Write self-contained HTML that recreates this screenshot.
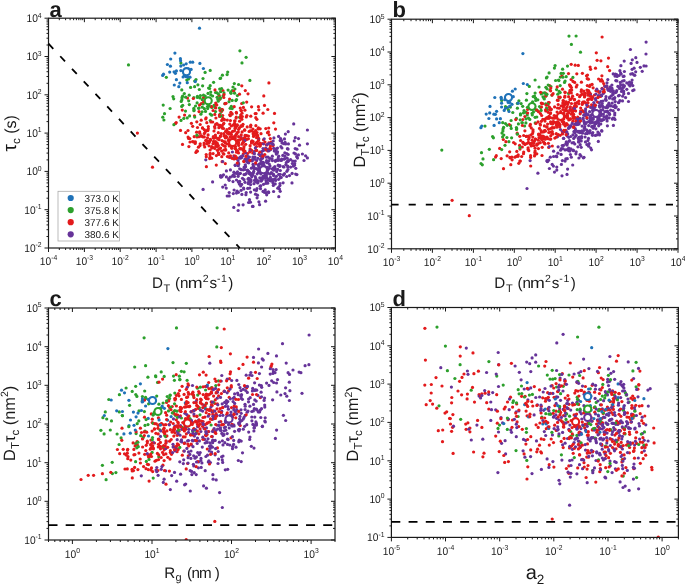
<!DOCTYPE html>
<html><head><meta charset="utf-8"><style>
html,body{margin:0;padding:0;background:#fff;}
svg{display:block;text-rendering:geometricPrecision;will-change:transform;font-family:"Liberation Sans", sans-serif;}
</style></head><body>
<svg width="685" height="586" viewBox="0 0 685 586" fill="#1a1a1a">
<clipPath id="cp0"><rect x="48.5" y="18.2" width="286.9" height="229.8"/></clipPath>
<g clip-path="url(#cp0)">
<g fill="#2ca02c"><circle cx="235.9" cy="100.6" r="1.6"/></g>
<g fill="#663399"><circle cx="276.7" cy="152" r="1.6"/><circle cx="270.4" cy="177.4" r="1.6"/><circle cx="269.9" cy="149.9" r="1.6"/></g>
<g fill="#e31a1c"><circle cx="200.2" cy="124.5" r="1.6"/><circle cx="206.1" cy="117.8" r="1.6"/></g>
<g fill="#2ca02c"><circle cx="190.6" cy="87.4" r="1.6"/></g>
<g fill="#663399"><circle cx="246.2" cy="173.6" r="1.6"/><circle cx="245.6" cy="166.7" r="1.6"/></g>
<g fill="#2ca02c"><circle cx="230.1" cy="108.3" r="1.6"/></g>
<g fill="#663399"><circle cx="265.7" cy="148" r="1.6"/></g>
<g fill="#e31a1c"><circle cx="194.5" cy="115.8" r="1.6"/></g>
<g fill="#663399"><circle cx="229.8" cy="157.5" r="1.6"/><circle cx="243.1" cy="204.8" r="1.6"/></g>
<g fill="#e31a1c"><circle cx="243.6" cy="148.9" r="1.6"/><circle cx="243.4" cy="150.3" r="1.6"/></g>
<g fill="#663399"><circle cx="256.7" cy="180.6" r="1.6"/></g>
<g fill="#2ca02c"><circle cx="198.9" cy="108" r="1.6"/></g>
<g fill="#663399"><circle cx="238.4" cy="181.9" r="1.6"/></g>
<g fill="#e31a1c"><circle cx="268.7" cy="128" r="1.6"/><circle cx="229.7" cy="114.8" r="1.6"/></g>
<g fill="#663399"><circle cx="288.4" cy="143.9" r="1.6"/></g>
<g fill="#2ca02c"><circle cx="237.4" cy="95.6" r="1.6"/></g>
<g fill="#663399"><circle cx="275.4" cy="161.3" r="1.6"/></g>
<g fill="#e31a1c"><circle cx="204.3" cy="136.9" r="1.6"/></g>
<g fill="#663399"><circle cx="238.1" cy="210.5" r="1.6"/><circle cx="258.8" cy="172.3" r="1.6"/><circle cx="264.4" cy="192.3" r="1.6"/></g>
<g fill="#2ca02c"><circle cx="164.5" cy="113.7" r="1.6"/></g>
<g fill="#e31a1c"><circle cx="225.6" cy="131.4" r="1.6"/></g>
<g fill="#663399"><circle cx="244.4" cy="167.3" r="1.6"/></g>
<g fill="#e31a1c"><circle cx="235.3" cy="139.1" r="1.6"/><circle cx="256.5" cy="146.5" r="1.6"/></g>
<g fill="#2ca02c"><circle cx="218.2" cy="101.2" r="1.6"/></g>
<g fill="#e31a1c"><circle cx="201.3" cy="103.6" r="1.6"/></g>
<g fill="#2ca02c"><circle cx="180.9" cy="63.1" r="1.6"/></g>
<g fill="#e31a1c"><circle cx="241.7" cy="103.5" r="1.6"/><circle cx="244.7" cy="129.9" r="1.6"/></g>
<g fill="#663399"><circle cx="260.5" cy="188.7" r="1.6"/></g>
<g fill="#e31a1c"><circle cx="244.3" cy="140.5" r="1.6"/><circle cx="210" cy="154.8" r="1.6"/><circle cx="202.9" cy="136.8" r="1.6"/></g>
<g fill="#2ca02c"><circle cx="189.3" cy="104.6" r="1.6"/></g>
<g fill="#663399"><circle cx="295.2" cy="161.1" r="1.6"/></g>
<g fill="#e31a1c"><circle cx="235.4" cy="124.8" r="1.6"/></g>
<g fill="#2ca02c"><circle cx="210.8" cy="94.9" r="1.6"/></g>
<g fill="#663399"><circle cx="242.5" cy="178.3" r="1.6"/><circle cx="290.6" cy="167.1" r="1.6"/></g>
<g fill="#e31a1c"><circle cx="221.7" cy="120.4" r="1.6"/><circle cx="255.2" cy="113.6" r="1.6"/></g>
<g fill="#663399"><circle cx="273" cy="182.9" r="1.6"/></g>
<g fill="#e31a1c"><circle cx="260.3" cy="155.7" r="1.6"/><circle cx="228.7" cy="139.7" r="1.6"/></g>
<g fill="#2ca02c"><circle cx="209.6" cy="88.5" r="1.6"/></g>
<g fill="#e31a1c"><circle cx="236.3" cy="126.8" r="1.6"/></g>
<g fill="#663399"><circle cx="281.7" cy="140.6" r="1.6"/></g>
<g fill="#e31a1c"><circle cx="182.3" cy="110.1" r="1.6"/><circle cx="231.1" cy="132.8" r="1.6"/><circle cx="241.1" cy="148.9" r="1.6"/><circle cx="244.9" cy="110.2" r="1.6"/><circle cx="256.7" cy="150.4" r="1.6"/><circle cx="209.7" cy="141.1" r="1.6"/><circle cx="210.1" cy="157.2" r="1.6"/><circle cx="235.3" cy="142.5" r="1.6"/></g>
<g fill="#663399"><circle cx="251" cy="179.9" r="1.6"/><circle cx="251.1" cy="175" r="1.6"/></g>
<g fill="#2ca02c"><circle cx="220.1" cy="78.5" r="1.6"/></g>
<g fill="#e31a1c"><circle cx="213.6" cy="141.4" r="1.6"/><circle cx="256.6" cy="137.7" r="1.6"/><circle cx="192.5" cy="141.6" r="1.6"/><circle cx="226.9" cy="129.7" r="1.6"/></g>
<g fill="#663399"><circle cx="244.2" cy="167.1" r="1.6"/></g>
<g fill="#e31a1c"><circle cx="201.3" cy="136.2" r="1.6"/></g>
<g fill="#1f72b8"><circle cx="191.1" cy="69.4" r="1.6"/></g>
<g fill="#e31a1c"><circle cx="213.3" cy="137.8" r="1.6"/><circle cx="209" cy="145.8" r="1.6"/></g>
<g fill="#2ca02c"><circle cx="227.1" cy="74.6" r="1.6"/></g>
<g fill="#663399"><circle cx="263" cy="191.4" r="1.6"/></g>
<g fill="#2ca02c"><circle cx="234.3" cy="83.6" r="1.6"/></g>
<g fill="#663399"><circle cx="269.7" cy="158.4" r="1.6"/><circle cx="297.5" cy="158.1" r="1.6"/></g>
<g fill="#2ca02c"><circle cx="207.5" cy="106.5" r="1.6"/></g>
<g fill="#663399"><circle cx="276.1" cy="148.8" r="1.6"/></g>
<g fill="#e31a1c"><circle cx="247.5" cy="153.6" r="1.6"/></g>
<g fill="#663399"><circle cx="237.1" cy="191.2" r="1.6"/><circle cx="246.5" cy="159.2" r="1.6"/><circle cx="280.3" cy="170.5" r="1.6"/></g>
<g fill="#2ca02c"><circle cx="189.2" cy="95.2" r="1.6"/></g>
<g fill="#e31a1c"><circle cx="252.7" cy="153" r="1.6"/></g>
<g fill="#663399"><circle cx="269.4" cy="180.1" r="1.6"/></g>
<g fill="#1f72b8"><circle cx="186" cy="76.7" r="1.6"/></g>
<g fill="#e31a1c"><circle cx="256.4" cy="133.4" r="1.6"/></g>
<g fill="#2ca02c"><circle cx="214" cy="105.4" r="1.6"/></g>
<g fill="#663399"><circle cx="270" cy="174.1" r="1.6"/></g>
<g fill="#e31a1c"><circle cx="232.8" cy="138.3" r="1.6"/><circle cx="265.8" cy="128.6" r="1.6"/><circle cx="199.6" cy="131.8" r="1.6"/><circle cx="224.2" cy="119.3" r="1.6"/><circle cx="214.8" cy="114.4" r="1.6"/></g>
<g fill="#2ca02c"><circle cx="188.7" cy="100.8" r="1.6"/></g>
<g fill="#e31a1c"><circle cx="231.4" cy="134.5" r="1.6"/><circle cx="215.9" cy="118" r="1.6"/><circle cx="225.1" cy="141.8" r="1.6"/></g>
<g fill="#663399"><circle cx="280.2" cy="174.3" r="1.6"/><circle cx="205.8" cy="159.8" r="1.6"/></g>
<g fill="#e31a1c"><circle cx="218.9" cy="154.4" r="1.6"/></g>
<g fill="#663399"><circle cx="272.7" cy="181.5" r="1.6"/><circle cx="247.9" cy="161.4" r="1.6"/></g>
<g fill="#e31a1c"><circle cx="254.1" cy="133.3" r="1.6"/></g>
<g fill="#663399"><circle cx="302.4" cy="154" r="1.6"/></g>
<g fill="#e31a1c"><circle cx="208.3" cy="126.6" r="1.6"/></g>
<g fill="#663399"><circle cx="262.5" cy="158.2" r="1.6"/><circle cx="248.6" cy="178.3" r="1.6"/></g>
<g fill="#e31a1c"><circle cx="237.8" cy="150.8" r="1.6"/></g>
<g fill="#1f72b8"><circle cx="190" cy="77.2" r="1.6"/></g>
<g fill="#663399"><circle cx="248.8" cy="160.9" r="1.6"/><circle cx="249.2" cy="172.7" r="1.6"/></g>
<g fill="#2ca02c"><circle cx="162.8" cy="117.2" r="1.6"/></g>
<g fill="#663399"><circle cx="275.6" cy="180.4" r="1.6"/><circle cx="295.8" cy="168.3" r="1.6"/><circle cx="258.5" cy="170.2" r="1.6"/><circle cx="256.4" cy="180.3" r="1.6"/><circle cx="253.4" cy="172.8" r="1.6"/></g>
<g fill="#2ca02c"><circle cx="231.5" cy="114.1" r="1.6"/></g>
<g fill="#e31a1c"><circle cx="255.9" cy="125.7" r="1.6"/></g>
<g fill="#663399"><circle cx="280.5" cy="160.1" r="1.6"/><circle cx="276.3" cy="154.1" r="1.6"/><circle cx="280.5" cy="177.7" r="1.6"/></g>
<g fill="#2ca02c"><circle cx="184.3" cy="93.6" r="1.6"/></g>
<g fill="#663399"><circle cx="239.9" cy="173.6" r="1.6"/></g>
<g fill="#1f72b8"><circle cx="176.4" cy="79.7" r="1.6"/></g>
<g fill="#2ca02c"><circle cx="246.1" cy="57.3" r="1.6"/></g>
<g fill="#663399"><circle cx="281.2" cy="177.5" r="1.6"/></g>
<g fill="#e31a1c"><circle cx="243.6" cy="139.9" r="1.6"/><circle cx="206.3" cy="130.6" r="1.6"/><circle cx="250.1" cy="148.9" r="1.6"/></g>
<g fill="#663399"><circle cx="253.5" cy="167.8" r="1.6"/></g>
<g fill="#e31a1c"><circle cx="247.2" cy="126.9" r="1.6"/><circle cx="275.5" cy="129.1" r="1.6"/><circle cx="210.2" cy="153.4" r="1.6"/><circle cx="243.6" cy="141.7" r="1.6"/></g>
<g fill="#2ca02c"><circle cx="210.2" cy="70.4" r="1.6"/></g>
<g fill="#663399"><circle cx="272.2" cy="168.9" r="1.6"/></g>
<g fill="#2ca02c"><circle cx="223.1" cy="95.8" r="1.6"/></g>
<g fill="#e31a1c"><circle cx="236.3" cy="117" r="1.6"/><circle cx="234.5" cy="145.4" r="1.6"/><circle cx="187.5" cy="98.1" r="1.6"/><circle cx="205" cy="132.4" r="1.6"/><circle cx="256.9" cy="142.4" r="1.6"/></g>
<g fill="#1f72b8"><circle cx="175.4" cy="73.3" r="1.6"/></g>
<g fill="#e31a1c"><circle cx="220.6" cy="148.1" r="1.6"/></g>
<g fill="#2ca02c"><circle cx="222.4" cy="75.2" r="1.6"/><circle cx="219.9" cy="99.2" r="1.6"/></g>
<g fill="#e31a1c"><circle cx="219.6" cy="116.5" r="1.6"/></g>
<g fill="#663399"><circle cx="249.6" cy="179.2" r="1.6"/></g>
<g fill="#e31a1c"><circle cx="209.7" cy="158.6" r="1.6"/></g>
<g fill="#2ca02c"><circle cx="211.1" cy="106.7" r="1.6"/></g>
<g fill="#e31a1c"><circle cx="236.6" cy="152.2" r="1.6"/></g>
<g fill="#663399"><circle cx="287.4" cy="161.4" r="1.6"/></g>
<g fill="#2ca02c"><circle cx="231" cy="93.3" r="1.6"/></g>
<g fill="#663399"><circle cx="261" cy="170.4" r="1.6"/><circle cx="277.5" cy="151.8" r="1.6"/><circle cx="235.3" cy="165.4" r="1.6"/></g>
<g fill="#e31a1c"><circle cx="235.1" cy="148.5" r="1.6"/></g>
<g fill="#1f72b8"><circle cx="186.6" cy="71.4" r="1.6"/></g>
<g fill="#663399"><circle cx="304" cy="160.5" r="1.6"/></g>
<g fill="#e31a1c"><circle cx="188.9" cy="146.6" r="1.6"/></g>
<g fill="#663399"><circle cx="267.7" cy="161.6" r="1.6"/></g>
<g fill="#e31a1c"><circle cx="256.9" cy="119.3" r="1.6"/></g>
<g fill="#663399"><circle cx="267.7" cy="149.3" r="1.6"/></g>
<g fill="#2ca02c"><circle cx="193.9" cy="110.7" r="1.6"/></g>
<g fill="#e31a1c"><circle cx="214.2" cy="138.2" r="1.6"/></g>
<g fill="#663399"><circle cx="279.9" cy="185.6" r="1.6"/><circle cx="284.8" cy="152.9" r="1.6"/><circle cx="248" cy="179.1" r="1.6"/></g>
<g fill="#1f72b8"><circle cx="180.8" cy="66.1" r="1.6"/></g>
<g fill="#2ca02c"><circle cx="212.6" cy="96" r="1.6"/></g>
<g fill="#e31a1c"><circle cx="237" cy="157.8" r="1.6"/><circle cx="243.9" cy="138.6" r="1.6"/><circle cx="256.6" cy="143" r="1.6"/></g>
<g fill="#2ca02c"><circle cx="210.2" cy="85.7" r="1.6"/></g>
<g fill="#e31a1c"><circle cx="256.7" cy="135.7" r="1.6"/><circle cx="253.7" cy="135.7" r="1.6"/><circle cx="214" cy="131" r="1.6"/><circle cx="240.6" cy="148.6" r="1.6"/></g>
<g fill="#2ca02c"><circle cx="186.8" cy="80.1" r="1.6"/><circle cx="203.3" cy="103.8" r="1.6"/></g>
<g fill="#e31a1c"><circle cx="200" cy="145.6" r="1.6"/></g>
<g fill="#2ca02c"><circle cx="194.7" cy="117.1" r="1.6"/></g>
<g fill="#663399"><circle cx="239.6" cy="184.2" r="1.6"/></g>
<g fill="#e31a1c"><circle cx="225.5" cy="149.4" r="1.6"/></g>
<g fill="#2ca02c"><circle cx="234.9" cy="89" r="1.6"/></g>
<g fill="#e31a1c"><circle cx="258.8" cy="109.8" r="1.6"/><circle cx="242.3" cy="116.5" r="1.6"/></g>
<g fill="#663399"><circle cx="263.4" cy="178.1" r="1.6"/><circle cx="268.7" cy="192.6" r="1.6"/></g>
<g fill="#e31a1c"><circle cx="228.7" cy="152.9" r="1.6"/><circle cx="203.5" cy="97.7" r="1.6"/><circle cx="231.8" cy="147.2" r="1.6"/><circle cx="207.9" cy="130.6" r="1.6"/></g>
<g fill="#663399"><circle cx="228.6" cy="178.9" r="1.6"/></g>
<g fill="#e31a1c"><circle cx="231.4" cy="126" r="1.6"/></g>
<g fill="#663399"><circle cx="280.6" cy="138.6" r="1.6"/></g>
<g fill="#1f72b8"><circle cx="203.4" cy="68.5" r="1.6"/></g>
<g fill="#663399"><circle cx="266.9" cy="167.4" r="1.6"/><circle cx="278.7" cy="165.5" r="1.6"/></g>
<g fill="#e31a1c"><circle cx="232" cy="145.6" r="1.6"/></g>
<g fill="#2ca02c"><circle cx="185.7" cy="97.2" r="1.6"/></g>
<g fill="#e31a1c"><circle cx="234" cy="137" r="1.6"/><circle cx="274.5" cy="113.4" r="1.6"/><circle cx="208.3" cy="128.8" r="1.6"/><circle cx="226.8" cy="143.9" r="1.6"/></g>
<g fill="#663399"><circle cx="296.7" cy="156.7" r="1.6"/><circle cx="273.9" cy="137.9" r="1.6"/><circle cx="226.4" cy="170.9" r="1.6"/></g>
<g fill="#e31a1c"><circle cx="213" cy="143.7" r="1.6"/><circle cx="243.6" cy="148.5" r="1.6"/><circle cx="200.2" cy="143.8" r="1.6"/><circle cx="244.1" cy="160.9" r="1.6"/></g>
<g fill="#663399"><circle cx="243.6" cy="188" r="1.6"/><circle cx="296.9" cy="149.2" r="1.6"/></g>
<g fill="#e31a1c"><circle cx="257.3" cy="135" r="1.6"/><circle cx="234.5" cy="130.8" r="1.6"/></g>
<g fill="#663399"><circle cx="254.9" cy="157.2" r="1.6"/></g>
<g fill="#1f72b8"><circle cx="174.9" cy="53.1" r="1.6"/></g>
<g fill="#e31a1c"><circle cx="221.8" cy="109.3" r="1.6"/><circle cx="222.9" cy="90.5" r="1.6"/></g>
<g fill="#2ca02c"><circle cx="200.9" cy="114.2" r="1.6"/></g>
<g fill="#663399"><circle cx="265.9" cy="149" r="1.6"/></g>
<g fill="#e31a1c"><circle cx="270.4" cy="146" r="1.6"/></g>
<g fill="#663399"><circle cx="245.3" cy="164.8" r="1.6"/><circle cx="298.5" cy="138.6" r="1.6"/></g>
<g fill="#e31a1c"><circle cx="249.8" cy="160.7" r="1.6"/></g>
<g fill="#663399"><circle cx="240.8" cy="158.1" r="1.6"/></g>
<g fill="#e31a1c"><circle cx="251.6" cy="130.8" r="1.6"/><circle cx="273.1" cy="145.6" r="1.6"/></g>
<g fill="#663399"><circle cx="270.5" cy="149.6" r="1.6"/></g>
<g fill="#e31a1c"><circle cx="227.3" cy="120.1" r="1.6"/><circle cx="211.7" cy="146.7" r="1.6"/><circle cx="195.9" cy="152.4" r="1.6"/></g>
<g fill="#663399"><circle cx="258.3" cy="180.9" r="1.6"/><circle cx="263.1" cy="176.1" r="1.6"/><circle cx="285.1" cy="142.4" r="1.6"/></g>
<g fill="#e31a1c"><circle cx="221.5" cy="111.4" r="1.6"/><circle cx="258.5" cy="144" r="1.6"/></g>
<g fill="#663399"><circle cx="264.9" cy="176.3" r="1.6"/><circle cx="261.6" cy="151.6" r="1.6"/><circle cx="263.2" cy="162.4" r="1.6"/></g>
<g fill="#e31a1c"><circle cx="229" cy="143.6" r="1.6"/><circle cx="179.1" cy="117.1" r="1.6"/></g>
<g fill="#663399"><circle cx="276.7" cy="171.6" r="1.6"/></g>
<g fill="#2ca02c"><circle cx="215" cy="107.4" r="1.6"/></g>
<g fill="#663399"><circle cx="265.2" cy="178.1" r="1.6"/></g>
<g fill="#e31a1c"><circle cx="270.3" cy="138.6" r="1.6"/><circle cx="271.1" cy="142.2" r="1.6"/></g>
<g fill="#2ca02c"><circle cx="211.9" cy="107.4" r="1.6"/></g>
<g fill="#663399"><circle cx="263.4" cy="162.8" r="1.6"/></g>
<g fill="#e31a1c"><circle cx="234.4" cy="144.8" r="1.6"/><circle cx="230.4" cy="120.6" r="1.6"/><circle cx="214.9" cy="128.1" r="1.6"/></g>
<g fill="#663399"><circle cx="230.2" cy="177.2" r="1.6"/></g>
<g fill="#2ca02c"><circle cx="200" cy="98" r="1.6"/></g>
<g fill="#e31a1c"><circle cx="266.5" cy="144.9" r="1.6"/></g>
<g fill="#2ca02c"><circle cx="208.6" cy="88" r="1.6"/></g>
<g fill="#663399"><circle cx="258.5" cy="165.7" r="1.6"/><circle cx="248.9" cy="182.2" r="1.6"/></g>
<g fill="#e31a1c"><circle cx="218.8" cy="138.8" r="1.6"/><circle cx="232.8" cy="136.9" r="1.6"/><circle cx="242.5" cy="125.9" r="1.6"/><circle cx="235.4" cy="146.5" r="1.6"/><circle cx="267.5" cy="150.8" r="1.6"/></g>
<g fill="#663399"><circle cx="245" cy="169.5" r="1.6"/><circle cx="249.5" cy="199.7" r="1.6"/></g>
<g fill="#e31a1c"><circle cx="216.2" cy="145.4" r="1.6"/></g>
<g fill="#2ca02c"><circle cx="173.7" cy="98.8" r="1.6"/></g>
<g fill="#663399"><circle cx="248.7" cy="183.7" r="1.6"/><circle cx="270" cy="165.9" r="1.6"/></g>
<g fill="#2ca02c"><circle cx="239.5" cy="117.3" r="1.6"/></g>
<g fill="#663399"><circle cx="288.2" cy="154.5" r="1.6"/></g>
<g fill="#e31a1c"><circle cx="211.7" cy="148.1" r="1.6"/><circle cx="245.6" cy="135.7" r="1.6"/><circle cx="258.7" cy="138.4" r="1.6"/></g>
<g fill="#663399"><circle cx="267.9" cy="173.3" r="1.6"/></g>
<g fill="#e31a1c"><circle cx="222.2" cy="144.5" r="1.6"/></g>
<g fill="#663399"><circle cx="248.2" cy="183.4" r="1.6"/><circle cx="245" cy="159.1" r="1.6"/></g>
<g fill="#e31a1c"><circle cx="226.8" cy="137.3" r="1.6"/></g>
<g fill="#663399"><circle cx="247.7" cy="188.4" r="1.6"/></g>
<g fill="#2ca02c"><circle cx="224" cy="92.9" r="1.6"/></g>
<g fill="#663399"><circle cx="260.1" cy="186.2" r="1.6"/></g>
<g fill="#e31a1c"><circle cx="242.7" cy="142.9" r="1.6"/><circle cx="258" cy="128.9" r="1.6"/><circle cx="253.5" cy="136.4" r="1.6"/></g>
<g fill="#663399"><circle cx="246.2" cy="192.6" r="1.6"/></g>
<g fill="#e31a1c"><circle cx="208.1" cy="134.9" r="1.6"/></g>
<g fill="#663399"><circle cx="283.1" cy="182.8" r="1.6"/></g>
<g fill="#e31a1c"><circle cx="233.2" cy="125" r="1.6"/></g>
<g fill="#663399"><circle cx="258.9" cy="154.3" r="1.6"/></g>
<g fill="#e31a1c"><circle cx="224" cy="135.8" r="1.6"/></g>
<g fill="#663399"><circle cx="233.8" cy="207.4" r="1.6"/><circle cx="253" cy="206.4" r="1.6"/></g>
<g fill="#e31a1c"><circle cx="249.1" cy="131.5" r="1.6"/></g>
<g fill="#663399"><circle cx="290.6" cy="159.7" r="1.6"/></g>
<g fill="#e31a1c"><circle cx="259.7" cy="152.2" r="1.6"/></g>
<g fill="#663399"><circle cx="250.9" cy="181.6" r="1.6"/><circle cx="257.5" cy="195.2" r="1.6"/><circle cx="255.5" cy="194.2" r="1.6"/><circle cx="286.7" cy="176.5" r="1.6"/></g>
<g fill="#e31a1c"><circle cx="230.9" cy="112.3" r="1.6"/></g>
<g fill="#2ca02c"><circle cx="229" cy="101.7" r="1.6"/></g>
<g fill="#e31a1c"><circle cx="207.9" cy="141.2" r="1.6"/></g>
<g fill="#663399"><circle cx="229.2" cy="180.3" r="1.6"/></g>
<g fill="#2ca02c"><circle cx="181.2" cy="101.4" r="1.6"/></g>
<g fill="#663399"><circle cx="259.1" cy="167.6" r="1.6"/></g>
<g fill="#e31a1c"><circle cx="227.4" cy="156.6" r="1.6"/></g>
<g fill="#663399"><circle cx="240.3" cy="173.3" r="1.6"/></g>
<g fill="#e31a1c"><circle cx="228.4" cy="140.6" r="1.6"/></g>
<g fill="#663399"><circle cx="265.2" cy="189.9" r="1.6"/><circle cx="257.1" cy="197.8" r="1.6"/></g>
<g fill="#e31a1c"><circle cx="235.1" cy="126.5" r="1.6"/><circle cx="175.6" cy="123.4" r="1.6"/><circle cx="259.9" cy="146.2" r="1.6"/><circle cx="238.5" cy="152.9" r="1.6"/></g>
<g fill="#663399"><circle cx="253" cy="164.4" r="1.6"/></g>
<g fill="#2ca02c"><circle cx="236.5" cy="99.6" r="1.6"/></g>
<g fill="#663399"><circle cx="280.3" cy="177" r="1.6"/></g>
<g fill="#2ca02c"><circle cx="197.9" cy="84.8" r="1.6"/></g>
<g fill="#663399"><circle cx="285.9" cy="164.6" r="1.6"/><circle cx="269.4" cy="168.3" r="1.6"/><circle cx="241.7" cy="157.4" r="1.6"/></g>
<g fill="#e31a1c"><circle cx="263.8" cy="95.9" r="1.6"/></g>
<g fill="#663399"><circle cx="266.8" cy="177.8" r="1.6"/></g>
<g fill="#2ca02c"><circle cx="202.3" cy="99.7" r="1.6"/></g>
<g fill="#e31a1c"><circle cx="240.4" cy="117.4" r="1.6"/></g>
<g fill="#663399"><circle cx="267.7" cy="183.2" r="1.6"/></g>
<g fill="#1f72b8"><circle cx="176.4" cy="70.9" r="1.6"/></g>
<g fill="#e31a1c"><circle cx="213.1" cy="153.6" r="1.6"/><circle cx="218.4" cy="153.1" r="1.6"/><circle cx="218.4" cy="145.7" r="1.6"/><circle cx="235.2" cy="135.9" r="1.6"/></g>
<g fill="#663399"><circle cx="248.7" cy="182.2" r="1.6"/><circle cx="307.4" cy="143.8" r="1.6"/><circle cx="267" cy="162.7" r="1.6"/><circle cx="260.8" cy="185.8" r="1.6"/><circle cx="277.5" cy="148.1" r="1.6"/></g>
<g fill="#1f72b8"><circle cx="199.5" cy="28.2" r="1.6"/></g>
<g fill="#2ca02c"><circle cx="182" cy="97.7" r="1.6"/><circle cx="231.3" cy="106.3" r="1.6"/></g>
<g fill="#663399"><circle cx="287.8" cy="167.1" r="1.6"/><circle cx="234.2" cy="158.5" r="1.6"/></g>
<g fill="#e31a1c"><circle cx="221.1" cy="133.6" r="1.6"/><circle cx="239.5" cy="94.2" r="1.6"/><circle cx="246.3" cy="117" r="1.6"/><circle cx="243.3" cy="153.9" r="1.6"/><circle cx="188.6" cy="138.4" r="1.6"/><circle cx="236.3" cy="112.4" r="1.6"/><circle cx="248" cy="93.8" r="1.6"/><circle cx="237.3" cy="124.9" r="1.6"/><circle cx="210.3" cy="139.4" r="1.6"/><circle cx="244" cy="146.7" r="1.6"/><circle cx="263.5" cy="139.8" r="1.6"/></g>
<g fill="#2ca02c"><circle cx="220.5" cy="98" r="1.6"/></g>
<g fill="#e31a1c"><circle cx="203.6" cy="101.9" r="1.6"/><circle cx="222" cy="140.6" r="1.6"/></g>
<g fill="#663399"><circle cx="287.2" cy="158.2" r="1.6"/></g>
<g fill="#2ca02c"><circle cx="187.2" cy="117.9" r="1.6"/></g>
<g fill="#663399"><circle cx="259.8" cy="177.8" r="1.6"/><circle cx="221" cy="177.2" r="1.6"/><circle cx="292.1" cy="173.4" r="1.6"/><circle cx="238.1" cy="176.3" r="1.6"/></g>
<g fill="#e31a1c"><circle cx="240.9" cy="125.9" r="1.6"/><circle cx="217.3" cy="146.4" r="1.6"/><circle cx="261" cy="133.7" r="1.6"/></g>
<g fill="#663399"><circle cx="277.8" cy="188.2" r="1.6"/></g>
<g fill="#e31a1c"><circle cx="260.2" cy="128.8" r="1.6"/><circle cx="242" cy="144.2" r="1.6"/></g>
<g fill="#663399"><circle cx="261.2" cy="156" r="1.6"/><circle cx="259.2" cy="170.6" r="1.6"/><circle cx="250.4" cy="202.2" r="1.6"/></g>
<g fill="#e31a1c"><circle cx="246.3" cy="139.4" r="1.6"/><circle cx="223.4" cy="124" r="1.6"/></g>
<g fill="#2ca02c"><circle cx="183.8" cy="118.4" r="1.6"/></g>
<g fill="#e31a1c"><circle cx="222.1" cy="161.7" r="1.6"/></g>
<g fill="#2ca02c"><circle cx="210.2" cy="114" r="1.6"/></g>
<g fill="#663399"><circle cx="234.1" cy="190" r="1.6"/></g>
<g fill="#1f72b8"><circle cx="199.9" cy="63.4" r="1.6"/></g>
<g fill="#2ca02c"><circle cx="188.5" cy="78.9" r="1.6"/></g>
<g fill="#663399"><circle cx="254.5" cy="180.4" r="1.6"/></g>
<g fill="#e31a1c"><circle cx="205.8" cy="140.3" r="1.6"/><circle cx="228.3" cy="133.2" r="1.6"/></g>
<g fill="#2ca02c"><circle cx="205.5" cy="111.4" r="1.6"/></g>
<g fill="#663399"><circle cx="280" cy="165.5" r="1.6"/></g>
<g fill="#e31a1c"><circle cx="197.5" cy="127.5" r="1.6"/><circle cx="257" cy="132.6" r="1.6"/></g>
<g fill="#663399"><circle cx="254.4" cy="159.2" r="1.6"/></g>
<g fill="#e31a1c"><circle cx="233.9" cy="155.8" r="1.6"/></g>
<g fill="#663399"><circle cx="293.7" cy="123.9" r="1.6"/></g>
<g fill="#2ca02c"><circle cx="181.7" cy="106.4" r="1.6"/></g>
<g fill="#e31a1c"><circle cx="262.3" cy="143.5" r="1.6"/></g>
<g fill="#663399"><circle cx="294.3" cy="140.9" r="1.6"/><circle cx="233.2" cy="175" r="1.6"/><circle cx="244" cy="174.6" r="1.6"/><circle cx="220.6" cy="175.6" r="1.6"/><circle cx="266.4" cy="175.7" r="1.6"/></g>
<g fill="#2ca02c"><circle cx="205.2" cy="96" r="1.6"/></g>
<g fill="#663399"><circle cx="234.5" cy="176.4" r="1.6"/><circle cx="239.7" cy="168.8" r="1.6"/></g>
<g fill="#e31a1c"><circle cx="242.1" cy="131.9" r="1.6"/></g>
<g fill="#663399"><circle cx="278.7" cy="156.2" r="1.6"/><circle cx="283.2" cy="166.7" r="1.6"/><circle cx="273.7" cy="148.3" r="1.6"/><circle cx="260.5" cy="143.9" r="1.6"/><circle cx="268" cy="167.5" r="1.6"/></g>
<g fill="#e31a1c"><circle cx="201.5" cy="135.9" r="1.6"/></g>
<g fill="#663399"><circle cx="237" cy="173.5" r="1.6"/><circle cx="273.2" cy="179.5" r="1.6"/></g>
<g fill="#e31a1c"><circle cx="222.4" cy="128.2" r="1.6"/><circle cx="246.7" cy="102.1" r="1.6"/></g>
<g fill="#663399"><circle cx="229.2" cy="195.9" r="1.6"/><circle cx="277.1" cy="160.3" r="1.6"/></g>
<g fill="#e31a1c"><circle cx="245.7" cy="144.3" r="1.6"/></g>
<g fill="#663399"><circle cx="284.5" cy="138.9" r="1.6"/><circle cx="256.7" cy="160.6" r="1.6"/></g>
<g fill="#e31a1c"><circle cx="248.4" cy="138.8" r="1.6"/><circle cx="216.3" cy="165.1" r="1.6"/></g>
<g fill="#663399"><circle cx="254.4" cy="151.4" r="1.6"/><circle cx="233.3" cy="193.6" r="1.6"/><circle cx="274.8" cy="166.5" r="1.6"/></g>
<g fill="#2ca02c"><circle cx="220.6" cy="91.7" r="1.6"/></g>
<g fill="#e31a1c"><circle cx="251.5" cy="143" r="1.6"/></g>
<g fill="#663399"><circle cx="255.8" cy="178.4" r="1.6"/></g>
<g fill="#e31a1c"><circle cx="231" cy="142.8" r="1.6"/><circle cx="253.2" cy="141.7" r="1.6"/></g>
<g fill="#2ca02c"><circle cx="232.2" cy="108.6" r="1.6"/></g>
<g fill="#663399"><circle cx="212.6" cy="181.9" r="1.6"/></g>
<g fill="#e31a1c"><circle cx="225.2" cy="142.7" r="1.6"/></g>
<g fill="#663399"><circle cx="227.2" cy="196" r="1.6"/><circle cx="245.3" cy="174.3" r="1.6"/><circle cx="287.9" cy="169.5" r="1.6"/></g>
<g fill="#e31a1c"><circle cx="238.4" cy="140" r="1.6"/></g>
<g fill="#2ca02c"><circle cx="173" cy="96.6" r="1.6"/></g>
<g fill="#663399"><circle cx="286.9" cy="171.3" r="1.6"/></g>
<g fill="#e31a1c"><circle cx="219.1" cy="139.7" r="1.6"/><circle cx="215.5" cy="141.6" r="1.6"/><circle cx="258.4" cy="106.7" r="1.6"/></g>
<g fill="#663399"><circle cx="249.3" cy="173.6" r="1.6"/><circle cx="247.7" cy="162.4" r="1.6"/><circle cx="244" cy="179.7" r="1.6"/></g>
<g fill="#e31a1c"><circle cx="215.6" cy="143.7" r="1.6"/></g>
<g fill="#663399"><circle cx="261.5" cy="158.4" r="1.6"/><circle cx="273.8" cy="169.9" r="1.6"/></g>
<g fill="#e31a1c"><circle cx="209.1" cy="142.6" r="1.6"/><circle cx="234.5" cy="123.3" r="1.6"/><circle cx="234.2" cy="106.7" r="1.6"/></g>
<g fill="#663399"><circle cx="250.6" cy="184.6" r="1.6"/><circle cx="278.7" cy="174.4" r="1.6"/></g>
<g fill="#e31a1c"><circle cx="230.3" cy="115.7" r="1.6"/><circle cx="218.5" cy="138.3" r="1.6"/><circle cx="223.7" cy="145.7" r="1.6"/></g>
<g fill="#663399"><circle cx="262.5" cy="177.7" r="1.6"/></g>
<g fill="#2ca02c"><circle cx="217.1" cy="97.3" r="1.6"/></g>
<g fill="#663399"><circle cx="248.5" cy="171.2" r="1.6"/><circle cx="232.5" cy="176.2" r="1.6"/></g>
<g fill="#2ca02c"><circle cx="194.7" cy="81.1" r="1.6"/><circle cx="193.8" cy="108.4" r="1.6"/></g>
<g fill="#e31a1c"><circle cx="222.3" cy="125.8" r="1.6"/></g>
<g fill="#663399"><circle cx="235" cy="173.3" r="1.6"/><circle cx="258.7" cy="139.8" r="1.6"/><circle cx="273.3" cy="185.4" r="1.6"/></g>
<g fill="#2ca02c"><circle cx="210.7" cy="92.1" r="1.6"/></g>
<g fill="#1f72b8"><circle cx="170.4" cy="66.2" r="1.6"/></g>
<g fill="#663399"><circle cx="280.2" cy="140.6" r="1.6"/></g>
<g fill="#e31a1c"><circle cx="256.1" cy="113.6" r="1.6"/></g>
<g fill="#663399"><circle cx="267" cy="162.2" r="1.6"/><circle cx="279.5" cy="166.1" r="1.6"/></g>
<g fill="#e31a1c"><circle cx="196.8" cy="150.9" r="1.6"/></g>
<g fill="#2ca02c"><circle cx="211.7" cy="115.2" r="1.6"/></g>
<g fill="#663399"><circle cx="222.7" cy="187.1" r="1.6"/><circle cx="271.3" cy="172.5" r="1.6"/></g>
<g fill="#2ca02c"><circle cx="210.3" cy="120.5" r="1.6"/></g>
<g fill="#663399"><circle cx="265.3" cy="149.8" r="1.6"/></g>
<g fill="#2ca02c"><circle cx="202.6" cy="85.8" r="1.6"/></g>
<g fill="#e31a1c"><circle cx="206.8" cy="122.7" r="1.6"/><circle cx="216.4" cy="155.6" r="1.6"/><circle cx="218.8" cy="125.2" r="1.6"/></g>
<g fill="#663399"><circle cx="252.2" cy="161" r="1.6"/></g>
<g fill="#e31a1c"><circle cx="238.1" cy="141.1" r="1.6"/><circle cx="189.8" cy="138.6" r="1.6"/></g>
<g fill="#663399"><circle cx="246.5" cy="161.3" r="1.6"/><circle cx="256.4" cy="190.5" r="1.6"/></g>
<g fill="#e31a1c"><circle cx="229" cy="134.1" r="1.6"/></g>
<g fill="#663399"><circle cx="260.8" cy="159.8" r="1.6"/></g>
<g fill="#e31a1c"><circle cx="244.7" cy="137.6" r="1.6"/><circle cx="220.4" cy="136.1" r="1.6"/><circle cx="246.9" cy="115.5" r="1.6"/></g>
<g fill="#1f72b8"><circle cx="187.3" cy="82.7" r="1.6"/></g>
<g fill="#663399"><circle cx="265" cy="177.8" r="1.6"/></g>
<g fill="#e31a1c"><circle cx="202.5" cy="128" r="1.6"/></g>
<g fill="#663399"><circle cx="293.3" cy="166.2" r="1.6"/><circle cx="294.7" cy="163.7" r="1.6"/></g>
<g fill="#e31a1c"><circle cx="251.6" cy="150.4" r="1.6"/><circle cx="235.3" cy="136.9" r="1.6"/></g>
<g fill="#2ca02c"><circle cx="220.7" cy="78.1" r="1.6"/></g>
<g fill="#e31a1c"><circle cx="184.6" cy="115.1" r="1.6"/></g>
<g fill="#2ca02c"><circle cx="219.7" cy="89" r="1.6"/></g>
<g fill="#e31a1c"><circle cx="192.7" cy="126.3" r="1.6"/><circle cx="246.2" cy="139.7" r="1.6"/><circle cx="223.9" cy="150.1" r="1.6"/></g>
<g fill="#663399"><circle cx="250" cy="150.7" r="1.6"/></g>
<g fill="#2ca02c"><circle cx="224.9" cy="103.7" r="1.6"/></g>
<g fill="#e31a1c"><circle cx="219.2" cy="95.4" r="1.6"/><circle cx="252" cy="140.9" r="1.6"/></g>
<g fill="#663399"><circle cx="295.5" cy="153.9" r="1.6"/><circle cx="287.4" cy="148.7" r="1.6"/></g>
<g fill="#e31a1c"><circle cx="237.5" cy="141.7" r="1.6"/><circle cx="237.2" cy="132.5" r="1.6"/><circle cx="229.6" cy="99.1" r="1.6"/></g>
<g fill="#663399"><circle cx="295.3" cy="137.7" r="1.6"/></g>
<g fill="#e31a1c"><circle cx="194.2" cy="136.7" r="1.6"/></g>
<g fill="#663399"><circle cx="256.1" cy="168.6" r="1.6"/></g>
<g fill="#2ca02c"><circle cx="170.1" cy="108.5" r="1.6"/><circle cx="239.9" cy="50.8" r="1.6"/></g>
<g fill="#663399"><circle cx="260.9" cy="178.4" r="1.6"/></g>
<g fill="#e31a1c"><circle cx="235" cy="128.4" r="1.6"/></g>
<g fill="#663399"><circle cx="257.7" cy="169.5" r="1.6"/></g>
<g fill="#2ca02c"><circle cx="215.5" cy="111.6" r="1.6"/></g>
<g fill="#663399"><circle cx="281.4" cy="160.5" r="1.6"/><circle cx="261.6" cy="154.5" r="1.6"/></g>
<g fill="#e31a1c"><circle cx="199.5" cy="105.1" r="1.6"/><circle cx="250.6" cy="126.9" r="1.6"/><circle cx="204.1" cy="145" r="1.6"/></g>
<g fill="#663399"><circle cx="263" cy="148.5" r="1.6"/><circle cx="292.9" cy="161.2" r="1.6"/></g>
<g fill="#e31a1c"><circle cx="241.3" cy="110.6" r="1.6"/></g>
<g fill="#663399"><circle cx="238.3" cy="165.7" r="1.6"/></g>
<g fill="#e31a1c"><circle cx="222.6" cy="109.9" r="1.6"/></g>
<g fill="#663399"><circle cx="279.5" cy="189.1" r="1.6"/></g>
<g fill="#1f72b8"><circle cx="178.8" cy="86.7" r="1.6"/></g>
<g fill="#2ca02c"><circle cx="200.4" cy="95.6" r="1.6"/></g>
<g fill="#e31a1c"><circle cx="197" cy="137" r="1.6"/></g>
<g fill="#663399"><circle cx="255.2" cy="176.6" r="1.6"/></g>
<g fill="#2ca02c"><circle cx="163.9" cy="120" r="1.6"/></g>
<g fill="#e31a1c"><circle cx="219.4" cy="99" r="1.6"/></g>
<g fill="#663399"><circle cx="254" cy="183.7" r="1.6"/><circle cx="239.6" cy="181.3" r="1.6"/></g>
<g fill="#e31a1c"><circle cx="240.8" cy="117.6" r="1.6"/></g>
<g fill="#2ca02c"><circle cx="232.2" cy="90.5" r="1.6"/></g>
<g fill="#663399"><circle cx="265.9" cy="183.3" r="1.6"/><circle cx="244.8" cy="140.7" r="1.6"/><circle cx="236.5" cy="193.1" r="1.6"/></g>
<g fill="#e31a1c"><circle cx="195.2" cy="143.4" r="1.6"/></g>
<g fill="#663399"><circle cx="247.5" cy="170.1" r="1.6"/></g>
<g fill="#e31a1c"><circle cx="235" cy="146.4" r="1.6"/></g>
<g fill="#663399"><circle cx="260.7" cy="173.8" r="1.6"/></g>
<g fill="#2ca02c"><circle cx="207.7" cy="108.6" r="1.6"/></g>
<g fill="#663399"><circle cx="268.5" cy="191.8" r="1.6"/><circle cx="259.6" cy="163.9" r="1.6"/></g>
<g fill="#e31a1c"><circle cx="268.9" cy="142.8" r="1.6"/></g>
<g fill="#2ca02c"><circle cx="182.6" cy="96.2" r="1.6"/><circle cx="217.9" cy="99.5" r="1.6"/></g>
<g fill="#e31a1c"><circle cx="253.1" cy="133.7" r="1.6"/></g>
<g fill="#663399"><circle cx="265.6" cy="201.2" r="1.6"/></g>
<g fill="#e31a1c"><circle cx="222.7" cy="115.5" r="1.6"/><circle cx="236.1" cy="118.1" r="1.6"/></g>
<g fill="#663399"><circle cx="258.9" cy="168.2" r="1.6"/><circle cx="254" cy="167.5" r="1.6"/></g>
<g fill="#e31a1c"><circle cx="256" cy="150.3" r="1.6"/><circle cx="211.7" cy="158.2" r="1.6"/><circle cx="188.1" cy="137.1" r="1.6"/></g>
<g fill="#663399"><circle cx="261.1" cy="169.1" r="1.6"/></g>
<g fill="#e31a1c"><circle cx="196.8" cy="121.8" r="1.6"/></g>
<g fill="#663399"><circle cx="298.4" cy="154.9" r="1.6"/></g>
<g fill="#2ca02c"><circle cx="199.3" cy="89.5" r="1.6"/></g>
<g fill="#e31a1c"><circle cx="221.6" cy="151.1" r="1.6"/></g>
<g fill="#663399"><circle cx="278.6" cy="136.4" r="1.6"/><circle cx="277.7" cy="169.4" r="1.6"/><circle cx="240" cy="157.6" r="1.6"/></g>
<g fill="#e31a1c"><circle cx="223.9" cy="154.1" r="1.6"/></g>
<g fill="#663399"><circle cx="261.9" cy="155.4" r="1.6"/></g>
<g fill="#2ca02c"><circle cx="197.4" cy="97.5" r="1.6"/></g>
<g fill="#663399"><circle cx="263.1" cy="156.4" r="1.6"/></g>
<g fill="#e31a1c"><circle cx="219.3" cy="149" r="1.6"/><circle cx="210.7" cy="139.9" r="1.6"/><circle cx="229.3" cy="145.9" r="1.6"/></g>
<g fill="#2ca02c"><circle cx="195.5" cy="106" r="1.6"/></g>
<g fill="#663399"><circle cx="253.4" cy="166.2" r="1.6"/></g>
<g fill="#e31a1c"><circle cx="221.3" cy="126.6" r="1.6"/><circle cx="251.6" cy="141.6" r="1.6"/></g>
<g fill="#663399"><circle cx="230.4" cy="169.9" r="1.6"/><circle cx="280" cy="183.6" r="1.6"/></g>
<g fill="#2ca02c"><circle cx="181" cy="120.4" r="1.6"/></g>
<g fill="#663399"><circle cx="238.7" cy="204.9" r="1.6"/><circle cx="257.7" cy="182.9" r="1.6"/><circle cx="275.6" cy="160.3" r="1.6"/></g>
<g fill="#e31a1c"><circle cx="214.6" cy="126.6" r="1.6"/></g>
<g fill="#663399"><circle cx="249.4" cy="172.3" r="1.6"/><circle cx="272.3" cy="156.2" r="1.6"/></g>
<g fill="#e31a1c"><circle cx="152.5" cy="167.2" r="1.6"/></g>
<g fill="#663399"><circle cx="283.5" cy="175" r="1.6"/></g>
<g fill="#e31a1c"><circle cx="193.8" cy="141.9" r="1.6"/></g>
<g fill="#663399"><circle cx="229.2" cy="192.5" r="1.6"/><circle cx="276.1" cy="152.4" r="1.6"/></g>
<g fill="#e31a1c"><circle cx="219" cy="148.8" r="1.6"/><circle cx="211.5" cy="106.7" r="1.6"/></g>
<g fill="#663399"><circle cx="269" cy="160.8" r="1.6"/></g>
<g fill="#e31a1c"><circle cx="197.3" cy="151.2" r="1.6"/></g>
<g fill="#663399"><circle cx="233" cy="181.6" r="1.6"/></g>
<g fill="#e31a1c"><circle cx="206.3" cy="140.7" r="1.6"/><circle cx="215.9" cy="146.3" r="1.6"/></g>
<g fill="#663399"><circle cx="281.7" cy="159.2" r="1.6"/></g>
<g fill="#2ca02c"><circle cx="184.2" cy="73.8" r="1.6"/></g>
<g fill="#e31a1c"><circle cx="267.5" cy="132.7" r="1.6"/></g>
<g fill="#2ca02c"><circle cx="220.8" cy="116.2" r="1.6"/></g>
<g fill="#e31a1c"><circle cx="201.2" cy="120.2" r="1.6"/></g>
<g fill="#2ca02c"><circle cx="185.5" cy="111.1" r="1.6"/></g>
<g fill="#663399"><circle cx="253.8" cy="157.4" r="1.6"/></g>
<g fill="#e31a1c"><circle cx="247.6" cy="159.5" r="1.6"/></g>
<g fill="#663399"><circle cx="275.2" cy="183.9" r="1.6"/><circle cx="240.9" cy="156.6" r="1.6"/></g>
<g fill="#e31a1c"><circle cx="226" cy="136" r="1.6"/></g>
<g fill="#663399"><circle cx="251.4" cy="168.2" r="1.6"/><circle cx="249.4" cy="180.3" r="1.6"/><circle cx="261.3" cy="180.9" r="1.6"/></g>
<g fill="#1f72b8"><circle cx="190.3" cy="62.2" r="1.6"/></g>
<g fill="#e31a1c"><circle cx="252.9" cy="129" r="1.6"/></g>
<g fill="#663399"><circle cx="299.5" cy="145.2" r="1.6"/></g>
<g fill="#e31a1c"><circle cx="215.6" cy="124.4" r="1.6"/><circle cx="240.3" cy="108.1" r="1.6"/></g>
<g fill="#2ca02c"><circle cx="163.2" cy="105.1" r="1.6"/></g>
<g fill="#e31a1c"><circle cx="214.8" cy="148.5" r="1.6"/></g>
<g fill="#2ca02c"><circle cx="243.3" cy="102.8" r="1.6"/></g>
<g fill="#e31a1c"><circle cx="254.4" cy="144.3" r="1.6"/></g>
<g fill="#663399"><circle cx="271.5" cy="143.4" r="1.6"/></g>
<g fill="#e31a1c"><circle cx="239.7" cy="140" r="1.6"/></g>
<g fill="#2ca02c"><circle cx="232.2" cy="100.4" r="1.6"/></g>
<g fill="#e31a1c"><circle cx="236.3" cy="158.6" r="1.6"/></g>
<g fill="#2ca02c"><circle cx="215.6" cy="92.5" r="1.6"/></g>
<g fill="#e31a1c"><circle cx="255.6" cy="130.7" r="1.6"/><circle cx="267.8" cy="109.5" r="1.6"/></g>
<g fill="#663399"><circle cx="280.9" cy="146.6" r="1.6"/></g>
<g fill="#e31a1c"><circle cx="223.6" cy="128.5" r="1.6"/><circle cx="241.1" cy="139" r="1.6"/></g>
<g fill="#663399"><circle cx="266.6" cy="160.5" r="1.6"/><circle cx="255.8" cy="164" r="1.6"/><circle cx="282" cy="142.9" r="1.6"/><circle cx="289.5" cy="175.6" r="1.6"/><circle cx="294" cy="153" r="1.6"/></g>
<g fill="#e31a1c"><circle cx="223.7" cy="141.5" r="1.6"/><circle cx="222.8" cy="118.4" r="1.6"/></g>
<g fill="#1f72b8"><circle cx="183.1" cy="77" r="1.6"/></g>
<g fill="#663399"><circle cx="226.4" cy="176.9" r="1.6"/></g>
<g fill="#2ca02c"><circle cx="166.3" cy="77.3" r="1.6"/><circle cx="219.4" cy="108.1" r="1.6"/></g>
<g fill="#e31a1c"><circle cx="225.2" cy="146.4" r="1.6"/><circle cx="231.2" cy="144.9" r="1.6"/><circle cx="243" cy="124.3" r="1.6"/></g>
<g fill="#663399"><circle cx="233.9" cy="172.2" r="1.6"/><circle cx="232.4" cy="152" r="1.6"/><circle cx="288" cy="161.5" r="1.6"/></g>
<g fill="#e31a1c"><circle cx="258.5" cy="127.9" r="1.6"/><circle cx="257.8" cy="135.9" r="1.6"/></g>
<g fill="#663399"><circle cx="271.8" cy="179.5" r="1.6"/><circle cx="234.4" cy="156.3" r="1.6"/></g>
<g fill="#e31a1c"><circle cx="213.1" cy="110.5" r="1.6"/><circle cx="239.7" cy="148.6" r="1.6"/><circle cx="241.8" cy="85.8" r="1.6"/></g>
<g fill="#663399"><circle cx="220.8" cy="176.7" r="1.6"/></g>
<g fill="#e31a1c"><circle cx="216.2" cy="104.6" r="1.6"/><circle cx="188" cy="130.5" r="1.6"/></g>
<g fill="#2ca02c"><circle cx="203" cy="78.5" r="1.6"/></g>
<g fill="#e31a1c"><circle cx="220.9" cy="126.2" r="1.6"/></g>
<g fill="#663399"><circle cx="266.7" cy="194.8" r="1.6"/><circle cx="245.6" cy="152.9" r="1.6"/></g>
<g fill="#e31a1c"><circle cx="249.7" cy="152" r="1.6"/></g>
<g fill="#663399"><circle cx="274.3" cy="150.9" r="1.6"/></g>
<g fill="#e31a1c"><circle cx="225.4" cy="138" r="1.6"/><circle cx="207.5" cy="137.8" r="1.6"/></g>
<g fill="#1f72b8"><circle cx="167.4" cy="64.5" r="1.6"/></g>
<g fill="#2ca02c"><circle cx="249.9" cy="80.4" r="1.6"/></g>
<g fill="#663399"><circle cx="268.9" cy="143.5" r="1.6"/></g>
<g fill="#e31a1c"><circle cx="264.5" cy="105.4" r="1.6"/><circle cx="225" cy="103.7" r="1.6"/><circle cx="210.9" cy="121.9" r="1.6"/></g>
<g fill="#2ca02c"><circle cx="213.6" cy="82.3" r="1.6"/></g>
<g fill="#e31a1c"><circle cx="234.7" cy="120.8" r="1.6"/><circle cx="265.2" cy="149.6" r="1.6"/></g>
<g fill="#663399"><circle cx="278.5" cy="160.3" r="1.6"/></g>
<g fill="#2ca02c"><circle cx="189.6" cy="115.9" r="1.6"/></g>
<g fill="#e31a1c"><circle cx="210.1" cy="150" r="1.6"/></g>
<g fill="#2ca02c"><circle cx="198.7" cy="108.3" r="1.6"/></g>
<g fill="#e31a1c"><circle cx="227.2" cy="133.1" r="1.6"/><circle cx="260.3" cy="144.3" r="1.6"/><circle cx="251.7" cy="142" r="1.6"/><circle cx="185.7" cy="132.7" r="1.6"/></g>
<g fill="#663399"><circle cx="238" cy="160.5" r="1.6"/><circle cx="262.4" cy="168.1" r="1.6"/><circle cx="305.6" cy="155.8" r="1.6"/><circle cx="288.4" cy="160.7" r="1.6"/></g>
<g fill="#e31a1c"><circle cx="237.2" cy="125.4" r="1.6"/></g>
<g fill="#663399"><circle cx="287.7" cy="166.1" r="1.6"/><circle cx="280.2" cy="191.3" r="1.6"/></g>
<g fill="#e31a1c"><circle cx="230.2" cy="137.1" r="1.6"/><circle cx="256.3" cy="143.1" r="1.6"/></g>
<g fill="#2ca02c"><circle cx="220.2" cy="113.8" r="1.6"/></g>
<g fill="#663399"><circle cx="241.1" cy="184.7" r="1.6"/><circle cx="284" cy="167" r="1.6"/></g>
<g fill="#e31a1c"><circle cx="241.9" cy="119.3" r="1.6"/><circle cx="223.8" cy="133.7" r="1.6"/><circle cx="251.6" cy="106.8" r="1.6"/></g>
<g fill="#663399"><circle cx="251.7" cy="176.8" r="1.6"/></g>
<g fill="#2ca02c"><circle cx="181.9" cy="99.8" r="1.6"/></g>
<g fill="#663399"><circle cx="251.1" cy="174.2" r="1.6"/></g>
<g fill="#1f72b8"><circle cx="162.7" cy="75.4" r="1.6"/></g>
<g fill="#663399"><circle cx="267.6" cy="172.5" r="1.6"/><circle cx="284.5" cy="173.7" r="1.6"/><circle cx="284.8" cy="158.7" r="1.6"/></g>
<g fill="#e31a1c"><circle cx="241.2" cy="134.9" r="1.6"/></g>
<g fill="#663399"><circle cx="262.2" cy="179.7" r="1.6"/><circle cx="286.3" cy="162.5" r="1.6"/></g>
<g fill="#2ca02c"><circle cx="208.8" cy="106.2" r="1.6"/></g>
<g fill="#663399"><circle cx="247.5" cy="156.2" r="1.6"/></g>
<g fill="#e31a1c"><circle cx="220.6" cy="136.3" r="1.6"/></g>
<g fill="#663399"><circle cx="270.3" cy="180.8" r="1.6"/></g>
<g fill="#e31a1c"><circle cx="243.3" cy="142.1" r="1.6"/></g>
<g fill="#1f72b8"><circle cx="183.6" cy="65" r="1.6"/></g>
<g fill="#2ca02c"><circle cx="173.9" cy="124.7" r="1.6"/></g>
<g fill="#e31a1c"><circle cx="239.5" cy="127.8" r="1.6"/><circle cx="244.9" cy="151.1" r="1.6"/><circle cx="208.6" cy="142.2" r="1.6"/></g>
<g fill="#663399"><circle cx="281.9" cy="148" r="1.6"/><circle cx="273.5" cy="167.9" r="1.6"/><circle cx="263.6" cy="143.8" r="1.6"/></g>
<g fill="#e31a1c"><circle cx="204.3" cy="133.6" r="1.6"/></g>
<g fill="#1f72b8"><circle cx="187.9" cy="77.1" r="1.6"/></g>
<g fill="#663399"><circle cx="258.9" cy="201.8" r="1.6"/><circle cx="268.7" cy="179.4" r="1.6"/></g>
<g fill="#e31a1c"><circle cx="216.8" cy="143.7" r="1.6"/><circle cx="238.7" cy="145.4" r="1.6"/></g>
<g fill="#663399"><circle cx="275.9" cy="150" r="1.6"/><circle cx="284" cy="159.2" r="1.6"/><circle cx="264.1" cy="169.8" r="1.6"/><circle cx="267.2" cy="144.7" r="1.6"/><circle cx="265.6" cy="174.1" r="1.6"/></g>
<g fill="#2ca02c"><circle cx="197.4" cy="96.3" r="1.6"/></g>
<g fill="#e31a1c"><circle cx="219.4" cy="115" r="1.6"/><circle cx="223.2" cy="153.5" r="1.6"/></g>
<g fill="#663399"><circle cx="250.8" cy="174.5" r="1.6"/></g>
<g fill="#e31a1c"><circle cx="220.6" cy="125.9" r="1.6"/><circle cx="199" cy="136.7" r="1.6"/></g>
<g fill="#663399"><circle cx="262.8" cy="163.6" r="1.6"/><circle cx="239" cy="182.3" r="1.6"/></g>
<g fill="#2ca02c"><circle cx="181.8" cy="89.9" r="1.6"/></g>
<g fill="#e31a1c"><circle cx="270.8" cy="148.8" r="1.6"/><circle cx="250.8" cy="125.2" r="1.6"/></g>
<g fill="#2ca02c"><circle cx="221.3" cy="110.5" r="1.6"/></g>
<g fill="#e31a1c"><circle cx="204.7" cy="147" r="1.6"/></g>
<g fill="#663399"><circle cx="268.3" cy="180.1" r="1.6"/></g>
<g fill="#e31a1c"><circle cx="238.6" cy="142.7" r="1.6"/></g>
<g fill="#1f72b8"><circle cx="180.6" cy="60.7" r="1.6"/></g>
<g fill="#e31a1c"><circle cx="260" cy="145.4" r="1.6"/><circle cx="191.4" cy="123.3" r="1.6"/><circle cx="218.5" cy="152.9" r="1.6"/></g>
<g fill="#663399"><circle cx="223.5" cy="174.8" r="1.6"/></g>
<g fill="#e31a1c"><circle cx="196.6" cy="132.2" r="1.6"/></g>
<g fill="#663399"><circle cx="261.9" cy="162" r="1.6"/></g>
<g fill="#e31a1c"><circle cx="273.8" cy="122.8" r="1.6"/><circle cx="230.6" cy="143.9" r="1.6"/></g>
<g fill="#663399"><circle cx="238.4" cy="192.3" r="1.6"/><circle cx="263.5" cy="184.3" r="1.6"/><circle cx="275.2" cy="178.7" r="1.6"/><circle cx="276.4" cy="176.3" r="1.6"/></g>
<g fill="#e31a1c"><circle cx="195.4" cy="141.9" r="1.6"/><circle cx="229.5" cy="128.4" r="1.6"/></g>
<g fill="#663399"><circle cx="258.7" cy="169.9" r="1.6"/></g>
<g fill="#e31a1c"><circle cx="226" cy="103.3" r="1.6"/><circle cx="246.8" cy="135.7" r="1.6"/><circle cx="269.9" cy="148" r="1.6"/></g>
<g fill="#1f72b8"><circle cx="179.8" cy="83.1" r="1.6"/></g>
<g fill="#663399"><circle cx="257.8" cy="182.6" r="1.6"/></g>
<g fill="#e31a1c"><circle cx="244.2" cy="151.4" r="1.6"/></g>
<g fill="#2ca02c"><circle cx="182.7" cy="105.3" r="1.6"/><circle cx="196" cy="79.5" r="1.6"/><circle cx="194.1" cy="110" r="1.6"/></g>
<g fill="#e31a1c"><circle cx="212.7" cy="122" r="1.6"/></g>
<g fill="#2ca02c"><circle cx="230.7" cy="92.2" r="1.6"/></g>
<g fill="#663399"><circle cx="225.2" cy="185" r="1.6"/><circle cx="239.4" cy="158.1" r="1.6"/><circle cx="283.8" cy="143.7" r="1.6"/></g>
<g fill="#e31a1c"><circle cx="256.6" cy="135" r="1.6"/></g>
<g fill="#1f72b8"><circle cx="195.3" cy="81.6" r="1.6"/></g>
<g fill="#e31a1c"><circle cx="258.4" cy="140.6" r="1.6"/><circle cx="264.8" cy="154.5" r="1.6"/></g>
<g fill="#663399"><circle cx="275.1" cy="168.4" r="1.6"/><circle cx="278.6" cy="179.3" r="1.6"/><circle cx="272" cy="158.8" r="1.6"/><circle cx="295.7" cy="174.1" r="1.6"/><circle cx="279.7" cy="166.3" r="1.6"/><circle cx="266.4" cy="173.3" r="1.6"/></g>
<g fill="#e31a1c"><circle cx="240.7" cy="115.1" r="1.6"/></g>
<g fill="#663399"><circle cx="295.2" cy="148.6" r="1.6"/><circle cx="257.9" cy="158.3" r="1.6"/><circle cx="255.9" cy="181.7" r="1.6"/><circle cx="261.4" cy="163.9" r="1.6"/></g>
<g fill="#2ca02c"><circle cx="202.3" cy="107.2" r="1.6"/></g>
<g fill="#e31a1c"><circle cx="235" cy="121.1" r="1.6"/></g>
<g fill="#663399"><circle cx="247.5" cy="170.8" r="1.6"/></g>
<g fill="#e31a1c"><circle cx="207.2" cy="143.6" r="1.6"/><circle cx="250.1" cy="130.8" r="1.6"/></g>
<g fill="#663399"><circle cx="245" cy="182.3" r="1.6"/><circle cx="241.1" cy="137.5" r="1.6"/><circle cx="266" cy="180.6" r="1.6"/><circle cx="259.3" cy="169.4" r="1.6"/></g>
<g fill="#1f72b8"><circle cx="180.9" cy="70.6" r="1.6"/></g>
<g fill="#663399"><circle cx="292.3" cy="163.5" r="1.6"/></g>
<g fill="#1f72b8"><circle cx="163.5" cy="74.2" r="1.6"/></g>
<g fill="#663399"><circle cx="241.9" cy="194.4" r="1.6"/></g>
<g fill="#e31a1c"><circle cx="205.7" cy="119" r="1.6"/></g>
<g fill="#663399"><circle cx="248.7" cy="162.8" r="1.6"/></g>
<g fill="#e31a1c"><circle cx="206.3" cy="156.7" r="1.6"/><circle cx="245.1" cy="135.4" r="1.6"/><circle cx="233.7" cy="91" r="1.6"/></g>
<g fill="#663399"><circle cx="267.7" cy="170.2" r="1.6"/><circle cx="288.2" cy="131.7" r="1.6"/></g>
<g fill="#1f72b8"><circle cx="188.5" cy="68.9" r="1.6"/><circle cx="169.7" cy="72.1" r="1.6"/></g>
<g fill="#2ca02c"><circle cx="220" cy="97.7" r="1.6"/></g>
<g fill="#e31a1c"><circle cx="213.3" cy="136.7" r="1.6"/></g>
<g fill="#663399"><circle cx="286.8" cy="153.5" r="1.6"/><circle cx="292" cy="182.9" r="1.6"/></g>
<g fill="#e31a1c"><circle cx="229.8" cy="124.1" r="1.6"/></g>
<g fill="#663399"><circle cx="235.1" cy="165" r="1.6"/><circle cx="252.5" cy="206.4" r="1.6"/><circle cx="251.2" cy="173.6" r="1.6"/><circle cx="238.8" cy="164.1" r="1.6"/><circle cx="238.3" cy="162.7" r="1.6"/><circle cx="222.7" cy="161.5" r="1.6"/></g>
<g fill="#e31a1c"><circle cx="221.8" cy="156.7" r="1.6"/></g>
<g fill="#663399"><circle cx="268.6" cy="151" r="1.6"/></g>
<g fill="#e31a1c"><circle cx="245.9" cy="156.4" r="1.6"/><circle cx="237.3" cy="163.1" r="1.6"/></g>
<g fill="#2ca02c"><circle cx="227.7" cy="72.1" r="1.6"/></g>
<g fill="#663399"><circle cx="272.4" cy="160.6" r="1.6"/></g>
<g fill="#e31a1c"><circle cx="255.6" cy="162.9" r="1.6"/><circle cx="209.6" cy="102.3" r="1.6"/></g>
<g fill="#663399"><circle cx="241.1" cy="190.3" r="1.6"/></g>
<g fill="#e31a1c"><circle cx="236.6" cy="150.6" r="1.6"/></g>
<g fill="#663399"><circle cx="273.5" cy="174.3" r="1.6"/></g>
<g fill="#2ca02c"><circle cx="242" cy="62.9" r="1.6"/></g>
<g fill="#e31a1c"><circle cx="202.5" cy="127.9" r="1.6"/><circle cx="213" cy="147.6" r="1.6"/><circle cx="232.1" cy="158.3" r="1.6"/></g>
<g fill="#663399"><circle cx="261" cy="162" r="1.6"/><circle cx="257" cy="188.6" r="1.6"/></g>
<g fill="#e31a1c"><circle cx="230" cy="140.4" r="1.6"/></g>
<g fill="#663399"><circle cx="236.5" cy="180" r="1.6"/></g>
<g fill="#e31a1c"><circle cx="235.5" cy="127.9" r="1.6"/><circle cx="215.9" cy="137.4" r="1.6"/></g>
<g fill="#663399"><circle cx="254.4" cy="153.7" r="1.6"/></g>
<g fill="#e31a1c"><circle cx="228.5" cy="132" r="1.6"/><circle cx="199.9" cy="133.3" r="1.6"/><circle cx="204.1" cy="143" r="1.6"/><circle cx="239.6" cy="121.2" r="1.6"/></g>
<g fill="#663399"><circle cx="240.7" cy="186" r="1.6"/></g>
<g fill="#e31a1c"><circle cx="248.5" cy="136.1" r="1.6"/></g>
<g fill="#663399"><circle cx="237.5" cy="171.8" r="1.6"/></g>
<g fill="#1f72b8"><circle cx="180.4" cy="58.7" r="1.6"/><circle cx="186.2" cy="63.8" r="1.6"/></g>
<g fill="#663399"><circle cx="253.7" cy="171.4" r="1.6"/></g>
<g fill="#e31a1c"><circle cx="220.1" cy="110.4" r="1.6"/></g>
<g fill="#663399"><circle cx="257.2" cy="173.8" r="1.6"/><circle cx="252.8" cy="174.9" r="1.6"/><circle cx="262.7" cy="165.1" r="1.6"/><circle cx="273.2" cy="141" r="1.6"/><circle cx="226.2" cy="188.1" r="1.6"/></g>
<g fill="#2ca02c"><circle cx="194.6" cy="86.7" r="1.6"/></g>
<g fill="#e31a1c"><circle cx="265" cy="142" r="1.6"/><circle cx="225.3" cy="137.5" r="1.6"/></g>
<g fill="#663399"><circle cx="242.7" cy="155.7" r="1.6"/></g>
<g fill="#2ca02c"><circle cx="238.6" cy="84.5" r="1.6"/></g>
<g fill="#e31a1c"><circle cx="235.4" cy="156" r="1.6"/><circle cx="215.1" cy="142.7" r="1.6"/></g>
<g fill="#663399"><circle cx="266.4" cy="182" r="1.6"/><circle cx="252.3" cy="159.7" r="1.6"/></g>
<g fill="#e31a1c"><circle cx="238.3" cy="131.9" r="1.6"/></g>
<g fill="#1f72b8"><circle cx="188" cy="72.8" r="1.6"/></g>
<g fill="#e31a1c"><circle cx="218.3" cy="132.7" r="1.6"/></g>
<g fill="#663399"><circle cx="222" cy="176.6" r="1.6"/><circle cx="254.4" cy="168.8" r="1.6"/><circle cx="265.2" cy="174.7" r="1.6"/><circle cx="273.1" cy="144.4" r="1.6"/></g>
<g fill="#e31a1c"><circle cx="182.5" cy="144.4" r="1.6"/></g>
<g fill="#663399"><circle cx="243.8" cy="188.9" r="1.6"/></g>
<g fill="#2ca02c"><circle cx="202.1" cy="111.8" r="1.6"/></g>
<g fill="#663399"><circle cx="245.9" cy="194.7" r="1.6"/><circle cx="277.2" cy="153.1" r="1.6"/></g>
<g fill="#e31a1c"><circle cx="224.3" cy="120" r="1.6"/><circle cx="268.4" cy="131.9" r="1.6"/></g>
<g fill="#2ca02c"><circle cx="197.1" cy="102.9" r="1.6"/><circle cx="204.4" cy="108.7" r="1.6"/></g>
<g fill="#e31a1c"><circle cx="216.8" cy="105" r="1.6"/></g>
<g fill="#663399"><circle cx="266.3" cy="192.7" r="1.6"/></g>
<g fill="#e31a1c"><circle cx="206.8" cy="143.7" r="1.6"/><circle cx="223.8" cy="97.5" r="1.6"/></g>
<g fill="#2ca02c"><circle cx="228.1" cy="90.1" r="1.6"/><circle cx="193.8" cy="97.7" r="1.6"/></g>
<g fill="#663399"><circle cx="282.8" cy="155.4" r="1.6"/></g>
<g fill="#e31a1c"><circle cx="241.2" cy="126.3" r="1.6"/><circle cx="236.2" cy="134.3" r="1.6"/><circle cx="220.3" cy="125.4" r="1.6"/><circle cx="245.3" cy="90.6" r="1.6"/><circle cx="206.2" cy="154.6" r="1.6"/></g>
<g fill="#663399"><circle cx="243.3" cy="169.8" r="1.6"/></g>
<g fill="#e31a1c"><circle cx="215.4" cy="135" r="1.6"/><circle cx="190" cy="142" r="1.6"/><circle cx="217.4" cy="150.3" r="1.6"/><circle cx="223.8" cy="123.3" r="1.6"/></g>
<g fill="#663399"><circle cx="258.9" cy="164.7" r="1.6"/><circle cx="252.9" cy="157" r="1.6"/></g>
<g fill="#2ca02c"><circle cx="218.4" cy="94.1" r="1.6"/></g>
<g fill="#663399"><circle cx="247" cy="160.1" r="1.6"/><circle cx="248.2" cy="158.7" r="1.6"/></g>
<g fill="#e31a1c"><circle cx="232.6" cy="131.4" r="1.6"/></g>
<g fill="#1f72b8"><circle cx="174.3" cy="85" r="1.6"/></g>
<g fill="#e31a1c"><circle cx="230.8" cy="136.8" r="1.6"/></g>
<g fill="#663399"><circle cx="258.7" cy="172.3" r="1.6"/></g>
<g fill="#e31a1c"><circle cx="224" cy="94.6" r="1.6"/><circle cx="249.9" cy="160.3" r="1.6"/></g>
<g fill="#663399"><circle cx="274.6" cy="169.4" r="1.6"/><circle cx="278.5" cy="187.7" r="1.6"/></g>
<g fill="#e31a1c"><circle cx="218.9" cy="127.7" r="1.6"/></g>
<g fill="#2ca02c"><circle cx="205.1" cy="72.4" r="1.6"/></g>
<g fill="#e31a1c"><circle cx="231.8" cy="148.3" r="1.6"/></g>
<g fill="#1f72b8"><circle cx="192.7" cy="62.2" r="1.6"/></g>
<g fill="#e31a1c"><circle cx="238.6" cy="136.7" r="1.6"/></g>
<g fill="#663399"><circle cx="262.3" cy="154.8" r="1.6"/></g>
<g fill="#2ca02c"><circle cx="217" cy="92.8" r="1.6"/></g>
<g fill="#e31a1c"><circle cx="235.3" cy="140.8" r="1.6"/></g>
<g fill="#663399"><circle cx="250.6" cy="192.1" r="1.6"/></g>
<g fill="#e31a1c"><circle cx="216.8" cy="142.8" r="1.6"/></g>
<g fill="#2ca02c"><circle cx="203.5" cy="95.2" r="1.6"/></g>
<g fill="#e31a1c"><circle cx="234.1" cy="158.9" r="1.6"/></g>
<g fill="#663399"><circle cx="248.6" cy="202.5" r="1.6"/><circle cx="249.7" cy="188.1" r="1.6"/></g>
<g fill="#e31a1c"><circle cx="216.9" cy="123.5" r="1.6"/><circle cx="204.2" cy="129.6" r="1.6"/></g>
<g fill="#663399"><circle cx="283.3" cy="174.9" r="1.6"/></g>
<g fill="#e31a1c"><circle cx="230.5" cy="155.9" r="1.6"/><circle cx="238.6" cy="129.3" r="1.6"/></g>
<g fill="#663399"><circle cx="263.9" cy="165.2" r="1.6"/><circle cx="307.4" cy="130" r="1.6"/></g>
<g fill="#2ca02c"><circle cx="196.9" cy="135.2" r="1.6"/></g>
<g fill="#663399"><circle cx="273.6" cy="175.6" r="1.6"/></g>
<g fill="#e31a1c"><circle cx="233.8" cy="143.6" r="1.6"/></g>
<g fill="#663399"><circle cx="269.2" cy="164" r="1.6"/></g>
<g fill="#e31a1c"><circle cx="217.1" cy="144.7" r="1.6"/><circle cx="198.4" cy="147.2" r="1.6"/></g>
<g fill="#2ca02c"><circle cx="233" cy="87" r="1.6"/></g>
<g fill="#663399"><circle cx="203.1" cy="189.4" r="1.6"/><circle cx="249.4" cy="157" r="1.6"/></g>
<g fill="#e31a1c"><circle cx="180.5" cy="130.4" r="1.6"/><circle cx="259.9" cy="143.1" r="1.6"/></g>
<g fill="#2ca02c"><circle cx="128.5" cy="64.9" r="1.6"/></g>
<g fill="#e31a1c"><circle cx="255.8" cy="117.7" r="1.6"/><circle cx="263.1" cy="113.2" r="1.6"/></g>
<g fill="#2ca02c"><circle cx="234.6" cy="93.2" r="1.6"/></g>
<g fill="#663399"><circle cx="259.6" cy="204.7" r="1.6"/><circle cx="268" cy="157" r="1.6"/></g>
<g fill="#e31a1c"><circle cx="250.1" cy="145.7" r="1.6"/></g>
<g fill="#663399"><circle cx="294.5" cy="165.2" r="1.6"/></g>
<g fill="#e31a1c"><circle cx="253.7" cy="132" r="1.6"/><circle cx="262.8" cy="156.2" r="1.6"/><circle cx="235.7" cy="148.8" r="1.6"/><circle cx="215.7" cy="103" r="1.6"/></g>
<g fill="#663399"><circle cx="241.4" cy="169.7" r="1.6"/></g>
<g fill="#2ca02c"><circle cx="221.6" cy="88.5" r="1.6"/></g>
<g fill="#e31a1c"><circle cx="193.3" cy="98.5" r="1.6"/><circle cx="250.8" cy="116.2" r="1.6"/></g>
<g fill="#663399"><circle cx="307.4" cy="157.9" r="1.6"/><circle cx="278.2" cy="158.2" r="1.6"/><circle cx="258.6" cy="164.8" r="1.6"/></g>
<g fill="#e31a1c"><circle cx="206.4" cy="166.7" r="1.6"/><circle cx="236.8" cy="134" r="1.6"/><circle cx="215" cy="89.9" r="1.6"/><circle cx="225.7" cy="150.1" r="1.6"/><circle cx="268.9" cy="82.9" r="1.6"/></g>
<g fill="#663399"><circle cx="254.4" cy="189.8" r="1.6"/><circle cx="266.5" cy="157.2" r="1.6"/></g>
<g fill="#e31a1c"><circle cx="225.3" cy="163.6" r="1.6"/></g>
<g fill="#663399"><circle cx="278.8" cy="196.7" r="1.6"/></g>
<g fill="#e31a1c"><circle cx="269.2" cy="134.8" r="1.6"/><circle cx="215.8" cy="107.9" r="1.6"/></g>
<g fill="#663399"><circle cx="285.4" cy="134.1" r="1.6"/><circle cx="263.3" cy="150.6" r="1.6"/></g>
<g fill="#e31a1c"><circle cx="242" cy="113.2" r="1.6"/><circle cx="228.8" cy="156.9" r="1.6"/></g>
<g fill="#663399"><circle cx="272.6" cy="173.8" r="1.6"/><circle cx="273.5" cy="170" r="1.6"/><circle cx="285.1" cy="156.1" r="1.6"/></g>
<g fill="#1f72b8"><circle cx="170.7" cy="59" r="1.6"/></g>
<g fill="#e31a1c"><circle cx="217.3" cy="143.7" r="1.6"/><circle cx="225.4" cy="136.1" r="1.6"/></g>
<g fill="#1f72b8"><circle cx="174.1" cy="71.8" r="1.6"/></g>
<g fill="#663399"><circle cx="285.6" cy="144" r="1.6"/></g>
<g fill="#e31a1c"><circle cx="232.2" cy="113.9" r="1.6"/><circle cx="244.6" cy="130.2" r="1.6"/></g>
<g fill="#663399"><circle cx="273.6" cy="191.5" r="1.6"/><circle cx="264.2" cy="138.8" r="1.6"/></g>
<g fill="#2ca02c"><circle cx="208" cy="93.4" r="1.6"/></g>
<g fill="#e31a1c"><circle cx="243.4" cy="107.4" r="1.6"/></g>
<g fill="#663399"><circle cx="263.4" cy="177.1" r="1.6"/><circle cx="241.6" cy="184.3" r="1.6"/></g>
<g fill="#1f72b8"><circle cx="184.2" cy="75.7" r="1.6"/></g>
<g fill="#663399"><circle cx="278.2" cy="165.2" r="1.6"/></g>
<g fill="#e31a1c"><circle cx="176.2" cy="122.5" r="1.6"/><circle cx="199" cy="111.6" r="1.6"/><circle cx="243.8" cy="161.6" r="1.6"/><circle cx="237.9" cy="143.4" r="1.6"/></g>
<g fill="#663399"><circle cx="296.9" cy="174.6" r="1.6"/></g>
<g fill="#e31a1c"><circle cx="137.4" cy="133.1" r="1.6"/></g>
<g fill="#663399"><circle cx="261" cy="180.8" r="1.6"/><circle cx="266.8" cy="162" r="1.6"/><circle cx="255.4" cy="147.9" r="1.6"/><circle cx="288.1" cy="149.1" r="1.6"/></g>
<g fill="#e31a1c"><circle cx="217.7" cy="138.9" r="1.6"/></g>
<g fill="#663399"><circle cx="260.7" cy="159.5" r="1.6"/></g>
<g fill="#e31a1c"><circle cx="241.1" cy="137.9" r="1.6"/></g>
<g fill="#663399"><circle cx="238.4" cy="174.5" r="1.6"/></g>
<g fill="#e31a1c"><circle cx="236.5" cy="113.1" r="1.6"/><circle cx="241" cy="110.6" r="1.6"/></g>
</g>
<clipPath id="cp1"><rect x="391.5" y="19.2" width="286.5" height="229.6"/></clipPath>
<g clip-path="url(#cp1)">
<g fill="#2ca02c"><circle cx="564.5" cy="82.4" r="1.6"/></g>
<g fill="#663399"><circle cx="611" cy="89.1" r="1.6"/><circle cx="603.8" cy="116.6" r="1.6"/><circle cx="603.2" cy="93.5" r="1.6"/></g>
<g fill="#e31a1c"><circle cx="523.7" cy="135.5" r="1.6"/><circle cx="530.4" cy="124.4" r="1.6"/></g>
<g fill="#2ca02c"><circle cx="512.8" cy="112.5" r="1.6"/></g>
<g fill="#663399"><circle cx="576.2" cy="135.4" r="1.6"/><circle cx="575.5" cy="130.1" r="1.6"/></g>
<g fill="#2ca02c"><circle cx="557.8" cy="94.2" r="1.6"/></g>
<g fill="#663399"><circle cx="598.4" cy="95.7" r="1.6"/></g>
<g fill="#e31a1c"><circle cx="517.2" cy="133.2" r="1.6"/></g>
<g fill="#663399"><circle cx="557.4" cy="136.7" r="1.6"/><circle cx="572.7" cy="165" r="1.6"/></g>
<g fill="#e31a1c"><circle cx="573.2" cy="116.7" r="1.6"/><circle cx="573" cy="118.1" r="1.6"/></g>
<g fill="#663399"><circle cx="588.2" cy="131.8" r="1.6"/></g>
<g fill="#2ca02c"><circle cx="522.2" cy="122.6" r="1.6"/></g>
<g fill="#663399"><circle cx="567.2" cy="149.7" r="1.6"/></g>
<g fill="#e31a1c"><circle cx="601.9" cy="75.8" r="1.6"/><circle cx="557.4" cy="100.2" r="1.6"/></g>
<g fill="#663399"><circle cx="624.4" cy="71.5" r="1.6"/></g>
<g fill="#2ca02c"><circle cx="566.2" cy="76.7" r="1.6"/></g>
<g fill="#663399"><circle cx="609.5" cy="98.2" r="1.6"/></g>
<g fill="#e31a1c"><circle cx="528.4" cy="142.4" r="1.6"/></g>
<g fill="#663399"><circle cx="567" cy="174.4" r="1.6"/><circle cx="590.6" cy="122.8" r="1.6"/><circle cx="597" cy="134.8" r="1.6"/></g>
<g fill="#2ca02c"><circle cx="483" cy="158.9" r="1.6"/></g>
<g fill="#e31a1c"><circle cx="552.7" cy="118.2" r="1.6"/></g>
<g fill="#663399"><circle cx="574.2" cy="131.7" r="1.6"/></g>
<g fill="#e31a1c"><circle cx="563.7" cy="115.9" r="1.6"/><circle cx="588" cy="102.8" r="1.6"/></g>
<g fill="#2ca02c"><circle cx="544.3" cy="99" r="1.6"/></g>
<g fill="#e31a1c"><circle cx="524.9" cy="116.6" r="1.6"/></g>
<g fill="#2ca02c"><circle cx="501.7" cy="100.5" r="1.6"/></g>
<g fill="#e31a1c"><circle cx="571.1" cy="79.5" r="1.6"/><circle cx="574.5" cy="99.4" r="1.6"/></g>
<g fill="#663399"><circle cx="592.5" cy="135.3" r="1.6"/></g>
<g fill="#e31a1c"><circle cx="574" cy="108.9" r="1.6"/><circle cx="534.9" cy="152.5" r="1.6"/><circle cx="526.8" cy="143.5" r="1.6"/></g>
<g fill="#2ca02c"><circle cx="511.2" cy="128.4" r="1.6"/></g>
<g fill="#663399"><circle cx="632.1" cy="80" r="1.6"/></g>
<g fill="#e31a1c"><circle cx="563.9" cy="103.6" r="1.6"/></g>
<g fill="#2ca02c"><circle cx="535.8" cy="100.4" r="1.6"/></g>
<g fill="#663399"><circle cx="572" cy="142.8" r="1.6"/><circle cx="626.8" cy="89.3" r="1.6"/></g>
<g fill="#e31a1c"><circle cx="548.2" cy="112.3" r="1.6"/><circle cx="586.5" cy="75.8" r="1.6"/></g>
<g fill="#663399"><circle cx="606.8" cy="118.9" r="1.6"/></g>
<g fill="#e31a1c"><circle cx="592.3" cy="107.3" r="1.6"/><circle cx="556.3" cy="122.4" r="1.6"/></g>
<g fill="#2ca02c"><circle cx="534.5" cy="96" r="1.6"/></g>
<g fill="#e31a1c"><circle cx="564.9" cy="104.4" r="1.6"/></g>
<g fill="#663399"><circle cx="616.7" cy="74.7" r="1.6"/></g>
<g fill="#e31a1c"><circle cx="503.3" cy="139.5" r="1.6"/><circle cx="558.9" cy="114.3" r="1.6"/><circle cx="570.4" cy="118.9" r="1.6"/><circle cx="574.7" cy="82.4" r="1.6"/><circle cx="588.2" cy="106" r="1.6"/><circle cx="534.5" cy="141.1" r="1.6"/><circle cx="535" cy="154.4" r="1.6"/><circle cx="563.7" cy="118.9" r="1.6"/></g>
<g fill="#663399"><circle cx="581.7" cy="136.5" r="1.6"/><circle cx="581.8" cy="132.2" r="1.6"/></g>
<g fill="#2ca02c"><circle cx="546.4" cy="77.9" r="1.6"/></g>
<g fill="#e31a1c"><circle cx="539" cy="137.7" r="1.6"/><circle cx="588" cy="95.2" r="1.6"/><circle cx="514.9" cy="157.2" r="1.6"/><circle cx="554.2" cy="115.5" r="1.6"/></g>
<g fill="#663399"><circle cx="574" cy="131.7" r="1.6"/></g>
<g fill="#e31a1c"><circle cx="524.9" cy="144.5" r="1.6"/></g>
<g fill="#1f72b8"><circle cx="513.3" cy="96.7" r="1.6"/></g>
<g fill="#e31a1c"><circle cx="538.7" cy="134.9" r="1.6"/><circle cx="533.7" cy="145.7" r="1.6"/></g>
<g fill="#2ca02c"><circle cx="554.4" cy="68.1" r="1.6"/></g>
<g fill="#663399"><circle cx="595.4" cy="135.4" r="1.6"/></g>
<g fill="#2ca02c"><circle cx="562.6" cy="69.2" r="1.6"/></g>
<g fill="#663399"><circle cx="603" cy="101" r="1.6"/><circle cx="634.8" cy="75.3" r="1.6"/></g>
<g fill="#2ca02c"><circle cx="532.1" cy="113.4" r="1.6"/></g>
<g fill="#663399"><circle cx="610.3" cy="86.9" r="1.6"/></g>
<g fill="#e31a1c"><circle cx="577.7" cy="117.2" r="1.6"/></g>
<g fill="#663399"><circle cx="565.8" cy="158.9" r="1.6"/><circle cx="576.5" cy="122.9" r="1.6"/><circle cx="615.2" cy="101.6" r="1.6"/></g>
<g fill="#2ca02c"><circle cx="511.1" cy="120.5" r="1.6"/></g>
<g fill="#e31a1c"><circle cx="583.6" cy="111.9" r="1.6"/></g>
<g fill="#663399"><circle cx="602.6" cy="119.9" r="1.6"/></g>
<g fill="#1f72b8"><circle cx="507.5" cy="107.5" r="1.6"/></g>
<g fill="#e31a1c"><circle cx="587.9" cy="91.7" r="1.6"/></g>
<g fill="#2ca02c"><circle cx="539.5" cy="106.5" r="1.6"/></g>
<g fill="#663399"><circle cx="603.4" cy="114.1" r="1.6"/></g>
<g fill="#e31a1c"><circle cx="560.9" cy="117.5" r="1.6"/><circle cx="598.6" cy="79" r="1.6"/><circle cx="523" cy="142.3" r="1.6"/><circle cx="551.1" cy="109.1" r="1.6"/><circle cx="540.4" cy="113.5" r="1.6"/></g>
<g fill="#2ca02c"><circle cx="510.6" cy="125.7" r="1.6"/></g>
<g fill="#e31a1c"><circle cx="559.3" cy="115.5" r="1.6"/><circle cx="541.7" cy="115.5" r="1.6"/><circle cx="552.2" cy="127.5" r="1.6"/></g>
<g fill="#663399"><circle cx="615" cy="105" r="1.6"/><circle cx="530.1" cy="160.6" r="1.6"/></g>
<g fill="#e31a1c"><circle cx="545" cy="144" r="1.6"/></g>
<g fill="#663399"><circle cx="606.4" cy="118" r="1.6"/><circle cx="578.2" cy="123.4" r="1.6"/></g>
<g fill="#e31a1c"><circle cx="585.2" cy="93.7" r="1.6"/></g>
<g fill="#663399"><circle cx="640.3" cy="67.3" r="1.6"/></g>
<g fill="#e31a1c"><circle cx="533" cy="129.8" r="1.6"/></g>
<g fill="#663399"><circle cx="594.8" cy="107.3" r="1.6"/><circle cx="579" cy="137.3" r="1.6"/></g>
<g fill="#e31a1c"><circle cx="566.6" cy="123.6" r="1.6"/></g>
<g fill="#1f72b8"><circle cx="512" cy="104.3" r="1.6"/></g>
<g fill="#663399"><circle cx="579.2" cy="122.2" r="1.6"/><circle cx="579.6" cy="131.9" r="1.6"/></g>
<g fill="#2ca02c"><circle cx="481" cy="163.5" r="1.6"/></g>
<g fill="#663399"><circle cx="609.7" cy="114.4" r="1.6"/><circle cx="632.8" cy="85.6" r="1.6"/><circle cx="590.3" cy="121.3" r="1.6"/><circle cx="587.8" cy="131.9" r="1.6"/><circle cx="584.4" cy="128.3" r="1.6"/></g>
<g fill="#2ca02c"><circle cx="559.4" cy="98" r="1.6"/></g>
<g fill="#e31a1c"><circle cx="587.3" cy="85.6" r="1.6"/></g>
<g fill="#663399"><circle cx="615.3" cy="92.6" r="1.6"/><circle cx="610.5" cy="91.3" r="1.6"/><circle cx="615.4" cy="107.6" r="1.6"/></g>
<g fill="#2ca02c"><circle cx="505.5" cy="123.6" r="1.6"/></g>
<g fill="#663399"><circle cx="569" cy="141.3" r="1.6"/></g>
<g fill="#1f72b8"><circle cx="496.6" cy="118.9" r="1.6"/></g>
<g fill="#2ca02c"><circle cx="576.1" cy="36" r="1.6"/></g>
<g fill="#663399"><circle cx="616.2" cy="106.8" r="1.6"/></g>
<g fill="#e31a1c"><circle cx="573.2" cy="109" r="1.6"/><circle cx="530.7" cy="135.1" r="1.6"/><circle cx="580.7" cy="110.8" r="1.6"/></g>
<g fill="#663399"><circle cx="584.5" cy="123.8" r="1.6"/></g>
<g fill="#e31a1c"><circle cx="577.3" cy="94.6" r="1.6"/><circle cx="609.6" cy="70.6" r="1.6"/><circle cx="535.1" cy="151.1" r="1.6"/><circle cx="573.3" cy="110.5" r="1.6"/></g>
<g fill="#2ca02c"><circle cx="535.1" cy="80" r="1.6"/></g>
<g fill="#663399"><circle cx="605.8" cy="107.7" r="1.6"/></g>
<g fill="#2ca02c"><circle cx="549.8" cy="90" r="1.6"/></g>
<g fill="#e31a1c"><circle cx="564.9" cy="96" r="1.6"/><circle cx="562.9" cy="122" r="1.6"/><circle cx="509.2" cy="124.5" r="1.6"/><circle cx="529.2" cy="137.8" r="1.6"/><circle cx="588.4" cy="99" r="1.6"/></g>
<g fill="#1f72b8"><circle cx="495.4" cy="114.3" r="1.6"/></g>
<g fill="#e31a1c"><circle cx="547" cy="137" r="1.6"/></g>
<g fill="#2ca02c"><circle cx="549.1" cy="72.9" r="1.6"/><circle cx="546.2" cy="95.8" r="1.6"/></g>
<g fill="#e31a1c"><circle cx="545.8" cy="110.9" r="1.6"/></g>
<g fill="#663399"><circle cx="580" cy="137.2" r="1.6"/></g>
<g fill="#e31a1c"><circle cx="534.5" cy="156" r="1.6"/></g>
<g fill="#2ca02c"><circle cx="536.2" cy="110.2" r="1.6"/></g>
<g fill="#e31a1c"><circle cx="565.2" cy="125.9" r="1.6"/></g>
<g fill="#663399"><circle cx="623.2" cy="87.4" r="1.6"/></g>
<g fill="#2ca02c"><circle cx="558.9" cy="80.6" r="1.6"/></g>
<g fill="#663399"><circle cx="593.1" cy="119.3" r="1.6"/><circle cx="611.9" cy="88.2" r="1.6"/><circle cx="563.7" cy="138.4" r="1.6"/></g>
<g fill="#e31a1c"><circle cx="563.6" cy="124.1" r="1.6"/></g>
<g fill="#1f72b8"><circle cx="508.2" cy="102.4" r="1.6"/></g>
<g fill="#663399"><circle cx="642.2" cy="71.3" r="1.6"/></g>
<g fill="#e31a1c"><circle cx="510.8" cy="164.7" r="1.6"/></g>
<g fill="#663399"><circle cx="600.8" cy="105.5" r="1.6"/></g>
<g fill="#e31a1c"><circle cx="588.4" cy="79.2" r="1.6"/></g>
<g fill="#663399"><circle cx="600.7" cy="95" r="1.6"/></g>
<g fill="#2ca02c"><circle cx="516.5" cy="129.4" r="1.6"/></g>
<g fill="#e31a1c"><circle cx="539.7" cy="134.4" r="1.6"/></g>
<g fill="#663399"><circle cx="614.7" cy="114.9" r="1.6"/><circle cx="620.3" cy="82.4" r="1.6"/><circle cx="578.3" cy="138.6" r="1.6"/></g>
<g fill="#1f72b8"><circle cx="501.6" cy="103.2" r="1.6"/></g>
<g fill="#2ca02c"><circle cx="537.8" cy="99.8" r="1.6"/></g>
<g fill="#e31a1c"><circle cx="565.7" cy="130.4" r="1.6"/><circle cx="573.6" cy="107.6" r="1.6"/><circle cx="588" cy="99.8" r="1.6"/></g>
<g fill="#2ca02c"><circle cx="535.1" cy="93.1" r="1.6"/></g>
<g fill="#e31a1c"><circle cx="588.2" cy="93.4" r="1.6"/><circle cx="584.8" cy="96.1" r="1.6"/><circle cx="539.5" cy="128.4" r="1.6"/><circle cx="569.9" cy="119.2" r="1.6"/></g>
<g fill="#2ca02c"><circle cx="508.4" cy="109.8" r="1.6"/><circle cx="527.2" cy="114.9" r="1.6"/></g>
<g fill="#e31a1c"><circle cx="523.5" cy="153.7" r="1.6"/></g>
<g fill="#2ca02c"><circle cx="517.4" cy="134.2" r="1.6"/></g>
<g fill="#663399"><circle cx="568.7" cy="150.6" r="1.6"/></g>
<g fill="#e31a1c"><circle cx="552.5" cy="133.7" r="1.6"/></g>
<g fill="#2ca02c"><circle cx="563.3" cy="73.3" r="1.6"/></g>
<g fill="#e31a1c"><circle cx="590.6" cy="69.3" r="1.6"/><circle cx="571.7" cy="90.1" r="1.6"/></g>
<g fill="#663399"><circle cx="595.9" cy="123.6" r="1.6"/><circle cx="601.9" cy="131.1" r="1.6"/></g>
<g fill="#e31a1c"><circle cx="556.3" cy="133.7" r="1.6"/><circle cx="527.5" cy="109.5" r="1.6"/><circle cx="559.8" cy="126" r="1.6"/><circle cx="532.5" cy="133.6" r="1.6"/></g>
<g fill="#663399"><circle cx="556.2" cy="156.1" r="1.6"/></g>
<g fill="#e31a1c"><circle cx="559.3" cy="108.2" r="1.6"/></g>
<g fill="#663399"><circle cx="615.4" cy="74.1" r="1.6"/></g>
<g fill="#1f72b8"><circle cx="527.3" cy="84.6" r="1.6"/></g>
<g fill="#663399"><circle cx="599.8" cy="111.2" r="1.6"/><circle cx="613.3" cy="98.8" r="1.6"/></g>
<g fill="#e31a1c"><circle cx="560" cy="124.5" r="1.6"/></g>
<g fill="#2ca02c"><circle cx="507.2" cy="125.3" r="1.6"/></g>
<g fill="#e31a1c"><circle cx="562.3" cy="115.2" r="1.6"/><circle cx="608.5" cy="58.1" r="1.6"/><circle cx="533" cy="131.7" r="1.6"/><circle cx="554.1" cy="127.7" r="1.6"/></g>
<g fill="#663399"><circle cx="633.8" cy="74.8" r="1.6"/><circle cx="607.8" cy="79.6" r="1.6"/><circle cx="553.6" cy="151.2" r="1.6"/></g>
<g fill="#e31a1c"><circle cx="538.3" cy="140.2" r="1.6"/><circle cx="573.3" cy="116.3" r="1.6"/><circle cx="523.7" cy="152" r="1.6"/><circle cx="573.8" cy="126.5" r="1.6"/></g>
<g fill="#663399"><circle cx="573.2" cy="150.2" r="1.6"/><circle cx="634.1" cy="68.2" r="1.6"/></g>
<g fill="#e31a1c"><circle cx="588.9" cy="92.2" r="1.6"/><circle cx="562.9" cy="109.5" r="1.6"/></g>
<g fill="#663399"><circle cx="586.2" cy="113.4" r="1.6"/></g>
<g fill="#1f72b8"><circle cx="494.8" cy="97.5" r="1.6"/></g>
<g fill="#e31a1c"><circle cx="548.3" cy="102.7" r="1.6"/><circle cx="549.6" cy="85.6" r="1.6"/></g>
<g fill="#2ca02c"><circle cx="524.6" cy="126" r="1.6"/></g>
<g fill="#663399"><circle cx="598.7" cy="96.4" r="1.6"/></g>
<g fill="#e31a1c"><circle cx="603.9" cy="89.6" r="1.6"/></g>
<g fill="#663399"><circle cx="575.2" cy="128.7" r="1.6"/><circle cx="635.8" cy="57.7" r="1.6"/></g>
<g fill="#e31a1c"><circle cx="580.3" cy="121.1" r="1.6"/></g>
<g fill="#663399"><circle cx="570.1" cy="127.1" r="1.6"/></g>
<g fill="#e31a1c"><circle cx="582.3" cy="93.9" r="1.6"/><circle cx="606.9" cy="86.9" r="1.6"/></g>
<g fill="#663399"><circle cx="603.9" cy="92.7" r="1.6"/></g>
<g fill="#e31a1c"><circle cx="554.6" cy="106.9" r="1.6"/><circle cx="536.8" cy="144" r="1.6"/><circle cx="518.8" cy="163.3" r="1.6"/></g>
<g fill="#663399"><circle cx="590" cy="130.7" r="1.6"/><circle cx="595.5" cy="122.1" r="1.6"/><circle cx="620.6" cy="73.1" r="1.6"/></g>
<g fill="#e31a1c"><circle cx="548" cy="104.8" r="1.6"/><circle cx="590.2" cy="98.9" r="1.6"/></g>
<g fill="#663399"><circle cx="597.6" cy="120.7" r="1.6"/><circle cx="593.8" cy="102.5" r="1.6"/><circle cx="595.6" cy="110.3" r="1.6"/></g>
<g fill="#e31a1c"><circle cx="556.5" cy="125.6" r="1.6"/><circle cx="499.7" cy="148.4" r="1.6"/></g>
<g fill="#663399"><circle cx="611" cy="105.9" r="1.6"/></g>
<g fill="#2ca02c"><circle cx="540.6" cy="107.4" r="1.6"/></g>
<g fill="#663399"><circle cx="597.8" cy="122" r="1.6"/></g>
<g fill="#e31a1c"><circle cx="603.7" cy="83.5" r="1.6"/><circle cx="604.6" cy="85.8" r="1.6"/></g>
<g fill="#2ca02c"><circle cx="537.1" cy="110.1" r="1.6"/></g>
<g fill="#663399"><circle cx="595.9" cy="110.5" r="1.6"/></g>
<g fill="#e31a1c"><circle cx="562.7" cy="121.6" r="1.6"/><circle cx="558.2" cy="104.5" r="1.6"/><circle cx="540.4" cy="125.1" r="1.6"/></g>
<g fill="#663399"><circle cx="557.9" cy="153.2" r="1.6"/></g>
<g fill="#2ca02c"><circle cx="523.5" cy="112.9" r="1.6"/></g>
<g fill="#e31a1c"><circle cx="599.3" cy="92.4" r="1.6"/></g>
<g fill="#2ca02c"><circle cx="533.2" cy="96.6" r="1.6"/></g>
<g fill="#663399"><circle cx="590.2" cy="117.5" r="1.6"/><circle cx="579.3" cy="140.4" r="1.6"/></g>
<g fill="#e31a1c"><circle cx="544.9" cy="130.7" r="1.6"/><circle cx="560.9" cy="116.3" r="1.6"/><circle cx="572" cy="98" r="1.6"/><circle cx="563.8" cy="122.2" r="1.6"/><circle cx="600.5" cy="96.5" r="1.6"/></g>
<g fill="#663399"><circle cx="574.8" cy="133" r="1.6"/><circle cx="580" cy="154.7" r="1.6"/></g>
<g fill="#e31a1c"><circle cx="541.9" cy="138.8" r="1.6"/></g>
<g fill="#2ca02c"><circle cx="493.4" cy="137.8" r="1.6"/></g>
<g fill="#663399"><circle cx="579" cy="141.8" r="1.6"/><circle cx="603.4" cy="107.1" r="1.6"/></g>
<g fill="#2ca02c"><circle cx="568.6" cy="93.4" r="1.6"/></g>
<g fill="#663399"><circle cx="624.1" cy="80.7" r="1.6"/></g>
<g fill="#e31a1c"><circle cx="536.8" cy="145.2" r="1.6"/><circle cx="575.5" cy="103.5" r="1.6"/><circle cx="590.5" cy="93.8" r="1.6"/></g>
<g fill="#663399"><circle cx="601" cy="115.3" r="1.6"/></g>
<g fill="#e31a1c"><circle cx="548.8" cy="132.5" r="1.6"/></g>
<g fill="#663399"><circle cx="578.5" cy="142" r="1.6"/><circle cx="574.8" cy="124.2" r="1.6"/></g>
<g fill="#e31a1c"><circle cx="554" cy="122.2" r="1.6"/></g>
<g fill="#663399"><circle cx="577.9" cy="146.8" r="1.6"/></g>
<g fill="#2ca02c"><circle cx="550.9" cy="86.6" r="1.6"/></g>
<g fill="#663399"><circle cx="592.1" cy="133.5" r="1.6"/></g>
<g fill="#e31a1c"><circle cx="572.2" cy="112.3" r="1.6"/><circle cx="589.6" cy="86.4" r="1.6"/><circle cx="584.5" cy="97" r="1.6"/></g>
<g fill="#663399"><circle cx="576.2" cy="151.8" r="1.6"/></g>
<g fill="#e31a1c"><circle cx="532.8" cy="137.1" r="1.6"/></g>
<g fill="#663399"><circle cx="618.4" cy="109.6" r="1.6"/></g>
<g fill="#e31a1c"><circle cx="561.3" cy="105.8" r="1.6"/></g>
<g fill="#663399"><circle cx="590.7" cy="107.4" r="1.6"/></g>
<g fill="#e31a1c"><circle cx="550.8" cy="123.4" r="1.6"/></g>
<g fill="#663399"><circle cx="562" cy="175.8" r="1.6"/><circle cx="584" cy="157.3" r="1.6"/></g>
<g fill="#e31a1c"><circle cx="579.6" cy="96.7" r="1.6"/></g>
<g fill="#663399"><circle cx="626.8" cy="82.9" r="1.6"/></g>
<g fill="#e31a1c"><circle cx="591.6" cy="104.8" r="1.6"/></g>
<g fill="#663399"><circle cx="581.6" cy="138" r="1.6"/><circle cx="589.1" cy="143.6" r="1.6"/><circle cx="586.9" cy="144.6" r="1.6"/><circle cx="622.5" cy="100.9" r="1.6"/></g>
<g fill="#e31a1c"><circle cx="558.7" cy="97" r="1.6"/></g>
<g fill="#2ca02c"><circle cx="556.6" cy="89.6" r="1.6"/></g>
<g fill="#e31a1c"><circle cx="532.5" cy="142.8" r="1.6"/></g>
<g fill="#663399"><circle cx="556.8" cy="156.7" r="1.6"/></g>
<g fill="#2ca02c"><circle cx="502" cy="133.1" r="1.6"/></g>
<g fill="#663399"><circle cx="591" cy="118.5" r="1.6"/></g>
<g fill="#e31a1c"><circle cx="554.8" cy="138.1" r="1.6"/></g>
<g fill="#663399"><circle cx="569.5" cy="140.5" r="1.6"/></g>
<g fill="#e31a1c"><circle cx="555.9" cy="123.5" r="1.6"/></g>
<g fill="#663399"><circle cx="597.9" cy="132.1" r="1.6"/><circle cx="588.7" cy="146.2" r="1.6"/></g>
<g fill="#e31a1c"><circle cx="563.5" cy="105.4" r="1.6"/><circle cx="495.6" cy="157.1" r="1.6"/><circle cx="591.8" cy="99.5" r="1.6"/><circle cx="567.5" cy="124.8" r="1.6"/></g>
<g fill="#663399"><circle cx="584" cy="121.3" r="1.6"/></g>
<g fill="#2ca02c"><circle cx="565.1" cy="81" r="1.6"/></g>
<g fill="#663399"><circle cx="615.1" cy="107.2" r="1.6"/></g>
<g fill="#2ca02c"><circle cx="521.1" cy="103.6" r="1.6"/></g>
<g fill="#663399"><circle cx="621.5" cy="91.4" r="1.6"/><circle cx="602.7" cy="109.7" r="1.6"/><circle cx="571" cy="125.8" r="1.6"/></g>
<g fill="#e31a1c"><circle cx="596.3" cy="52.8" r="1.6"/></g>
<g fill="#663399"><circle cx="599.7" cy="120.3" r="1.6"/></g>
<g fill="#2ca02c"><circle cx="526.1" cy="112.3" r="1.6"/></g>
<g fill="#e31a1c"><circle cx="569.6" cy="92.6" r="1.6"/></g>
<g fill="#663399"><circle cx="600.8" cy="124" r="1.6"/></g>
<g fill="#1f72b8"><circle cx="496.6" cy="111.3" r="1.6"/></g>
<g fill="#e31a1c"><circle cx="538.4" cy="148.6" r="1.6"/><circle cx="544.5" cy="143.3" r="1.6"/><circle cx="544.5" cy="137" r="1.6"/><circle cx="563.6" cy="113.2" r="1.6"/></g>
<g fill="#663399"><circle cx="579" cy="140.5" r="1.6"/><circle cx="646" cy="54" r="1.6"/><circle cx="599.9" cy="107.1" r="1.6"/><circle cx="592.8" cy="132.6" r="1.6"/><circle cx="611.9" cy="85" r="1.6"/></g>
<g fill="#1f72b8"><circle cx="522.9" cy="53.6" r="1.6"/></g>
<g fill="#2ca02c"><circle cx="503" cy="129.1" r="1.6"/><circle cx="559.2" cy="91.4" r="1.6"/></g>
<g fill="#663399"><circle cx="623.7" cy="91.8" r="1.6"/><circle cx="562.5" cy="133.5" r="1.6"/></g>
<g fill="#e31a1c"><circle cx="547.6" cy="124.1" r="1.6"/><circle cx="568.5" cy="73.6" r="1.6"/><circle cx="576.3" cy="86.9" r="1.6"/><circle cx="572.9" cy="121.2" r="1.6"/><circle cx="510.4" cy="158" r="1.6"/><circle cx="564.9" cy="92.1" r="1.6"/><circle cx="578.3" cy="65.4" r="1.6"/><circle cx="566.1" cy="101.9" r="1.6"/><circle cx="535.2" cy="139.1" r="1.6"/><circle cx="573.7" cy="114.4" r="1.6"/><circle cx="596" cy="90.7" r="1.6"/></g>
<g fill="#2ca02c"><circle cx="546.9" cy="94.2" r="1.6"/></g>
<g fill="#e31a1c"><circle cx="527.6" cy="113" r="1.6"/><circle cx="548.6" cy="129.3" r="1.6"/></g>
<g fill="#663399"><circle cx="623" cy="84.8" r="1.6"/></g>
<g fill="#2ca02c"><circle cx="508.9" cy="141.7" r="1.6"/></g>
<g fill="#663399"><circle cx="591.7" cy="126.7" r="1.6"/><circle cx="547.5" cy="161.6" r="1.6"/><circle cx="628.5" cy="93.4" r="1.6"/><circle cx="567" cy="145.1" r="1.6"/></g>
<g fill="#e31a1c"><circle cx="570.1" cy="99.4" r="1.6"/><circle cx="543.2" cy="138.6" r="1.6"/><circle cx="593.1" cy="87.8" r="1.6"/></g>
<g fill="#663399"><circle cx="612.3" cy="119.1" r="1.6"/></g>
<g fill="#e31a1c"><circle cx="592.1" cy="84.4" r="1.6"/><circle cx="571.4" cy="114.2" r="1.6"/></g>
<g fill="#663399"><circle cx="593.4" cy="106.6" r="1.6"/><circle cx="591" cy="121" r="1.6"/><circle cx="581" cy="156.1" r="1.6"/></g>
<g fill="#e31a1c"><circle cx="576.3" cy="106.1" r="1.6"/><circle cx="550.2" cy="113.8" r="1.6"/></g>
<g fill="#2ca02c"><circle cx="505" cy="145.3" r="1.6"/></g>
<g fill="#e31a1c"><circle cx="548.7" cy="147.4" r="1.6"/></g>
<g fill="#2ca02c"><circle cx="535.1" cy="117.3" r="1.6"/></g>
<g fill="#663399"><circle cx="562.4" cy="160.6" r="1.6"/></g>
<g fill="#1f72b8"><circle cx="523.3" cy="83.5" r="1.6"/></g>
<g fill="#2ca02c"><circle cx="510.4" cy="107.1" r="1.6"/></g>
<g fill="#663399"><circle cx="585.6" cy="133.7" r="1.6"/></g>
<g fill="#e31a1c"><circle cx="530.1" cy="143.9" r="1.6"/><circle cx="555.8" cy="117.2" r="1.6"/></g>
<g fill="#2ca02c"><circle cx="529.8" cy="119.4" r="1.6"/></g>
<g fill="#663399"><circle cx="614.8" cy="97.6" r="1.6"/></g>
<g fill="#e31a1c"><circle cx="520.6" cy="140.5" r="1.6"/><circle cx="588.5" cy="90.5" r="1.6"/></g>
<g fill="#663399"><circle cx="585.5" cy="115.6" r="1.6"/></g>
<g fill="#e31a1c"><circle cx="562.2" cy="131.5" r="1.6"/></g>
<g fill="#663399"><circle cx="630.4" cy="49.5" r="1.6"/></g>
<g fill="#2ca02c"><circle cx="502.6" cy="136.9" r="1.6"/></g>
<g fill="#e31a1c"><circle cx="594.5" cy="95" r="1.6"/></g>
<g fill="#663399"><circle cx="631.1" cy="63.4" r="1.6"/><circle cx="561.4" cy="148.5" r="1.6"/><circle cx="573.7" cy="138.4" r="1.6"/><circle cx="547" cy="160.6" r="1.6"/><circle cx="599.3" cy="118.8" r="1.6"/></g>
<g fill="#2ca02c"><circle cx="529.4" cy="106.5" r="1.6"/></g>
<g fill="#663399"><circle cx="562.9" cy="148.6" r="1.6"/><circle cx="568.8" cy="137.3" r="1.6"/></g>
<g fill="#e31a1c"><circle cx="571.5" cy="103.5" r="1.6"/></g>
<g fill="#663399"><circle cx="613.3" cy="90.8" r="1.6"/><circle cx="618.4" cy="95.8" r="1.6"/><circle cx="607.6" cy="88.7" r="1.6"/><circle cx="592.5" cy="97" r="1.6"/><circle cx="601" cy="110.4" r="1.6"/></g>
<g fill="#e31a1c"><circle cx="525.2" cy="144.1" r="1.6"/></g>
<g fill="#663399"><circle cx="565.8" cy="143.8" r="1.6"/><circle cx="607" cy="115.8" r="1.6"/></g>
<g fill="#e31a1c"><circle cx="549" cy="118.3" r="1.6"/><circle cx="576.8" cy="73.8" r="1.6"/></g>
<g fill="#663399"><circle cx="556.8" cy="170.1" r="1.6"/><circle cx="611.4" cy="95.8" r="1.6"/></g>
<g fill="#e31a1c"><circle cx="575.6" cy="110.9" r="1.6"/></g>
<g fill="#663399"><circle cx="619.9" cy="70.7" r="1.6"/><circle cx="588.2" cy="114.7" r="1.6"/></g>
<g fill="#e31a1c"><circle cx="578.7" cy="103.7" r="1.6"/><circle cx="542" cy="155.5" r="1.6"/></g>
<g fill="#663399"><circle cx="585.6" cy="108.9" r="1.6"/><circle cx="561.4" cy="164.4" r="1.6"/><circle cx="608.9" cy="103.2" r="1.6"/></g>
<g fill="#2ca02c"><circle cx="547" cy="88.8" r="1.6"/></g>
<g fill="#e31a1c"><circle cx="582.2" cy="104.4" r="1.6"/></g>
<g fill="#663399"><circle cx="587.2" cy="130.8" r="1.6"/></g>
<g fill="#e31a1c"><circle cx="558.9" cy="122.9" r="1.6"/><circle cx="584.2" cy="101.8" r="1.6"/></g>
<g fill="#2ca02c"><circle cx="560.2" cy="92.6" r="1.6"/></g>
<g fill="#663399"><circle cx="537.9" cy="173.2" r="1.6"/></g>
<g fill="#e31a1c"><circle cx="552.2" cy="128.2" r="1.6"/></g>
<g fill="#663399"><circle cx="554.5" cy="172.1" r="1.6"/><circle cx="575.2" cy="136.8" r="1.6"/><circle cx="623.8" cy="93.8" r="1.6"/></g>
<g fill="#e31a1c"><circle cx="567.3" cy="113.8" r="1.6"/></g>
<g fill="#2ca02c"><circle cx="492.6" cy="136.5" r="1.6"/></g>
<g fill="#663399"><circle cx="622.7" cy="96.2" r="1.6"/></g>
<g fill="#e31a1c"><circle cx="545.3" cy="131.2" r="1.6"/><circle cx="541.2" cy="136.1" r="1.6"/><circle cx="590.1" cy="67" r="1.6"/></g>
<g fill="#663399"><circle cx="579.7" cy="132.7" r="1.6"/><circle cx="577.9" cy="124.5" r="1.6"/><circle cx="573.7" cy="142.7" r="1.6"/></g>
<g fill="#e31a1c"><circle cx="541.3" cy="137.9" r="1.6"/></g>
<g fill="#663399"><circle cx="593.6" cy="108.5" r="1.6"/><circle cx="607.7" cy="107" r="1.6"/></g>
<g fill="#e31a1c"><circle cx="533.8" cy="142.9" r="1.6"/><circle cx="562.8" cy="103.1" r="1.6"/><circle cx="562.5" cy="89.2" r="1.6"/></g>
<g fill="#663399"><circle cx="581.2" cy="140.9" r="1.6"/><circle cx="613.3" cy="106.5" r="1.6"/></g>
<g fill="#e31a1c"><circle cx="558.1" cy="100.4" r="1.6"/><circle cx="544.6" cy="130.6" r="1.6"/><circle cx="550.5" cy="132.2" r="1.6"/></g>
<g fill="#663399"><circle cx="594.8" cy="124.1" r="1.6"/></g>
<g fill="#2ca02c"><circle cx="543" cy="96.8" r="1.6"/></g>
<g fill="#663399"><circle cx="578.8" cy="131.3" r="1.6"/><circle cx="560.6" cy="150.2" r="1.6"/></g>
<g fill="#2ca02c"><circle cx="517.4" cy="103.4" r="1.6"/><circle cx="516.4" cy="127.5" r="1.6"/></g>
<g fill="#e31a1c"><circle cx="548.9" cy="116.4" r="1.6"/></g>
<g fill="#663399"><circle cx="563.5" cy="145.4" r="1.6"/><circle cx="590.5" cy="95" r="1.6"/><circle cx="607.1" cy="120.9" r="1.6"/></g>
<g fill="#2ca02c"><circle cx="535.6" cy="98.2" r="1.6"/></g>
<g fill="#1f72b8"><circle cx="489.7" cy="112.9" r="1.6"/></g>
<g fill="#663399"><circle cx="615" cy="76.1" r="1.6"/></g>
<g fill="#e31a1c"><circle cx="587.5" cy="75" r="1.6"/></g>
<g fill="#663399"><circle cx="600" cy="106.6" r="1.6"/><circle cx="614.2" cy="98.6" r="1.6"/></g>
<g fill="#e31a1c"><circle cx="519.9" cy="161.1" r="1.6"/></g>
<g fill="#2ca02c"><circle cx="536.8" cy="117" r="1.6"/></g>
<g fill="#663399"><circle cx="549.4" cy="168.5" r="1.6"/><circle cx="604.9" cy="111.6" r="1.6"/></g>
<g fill="#2ca02c"><circle cx="535.2" cy="122.9" r="1.6"/></g>
<g fill="#663399"><circle cx="597.9" cy="97.6" r="1.6"/></g>
<g fill="#2ca02c"><circle cx="526.4" cy="100.2" r="1.6"/></g>
<g fill="#e31a1c"><circle cx="531.3" cy="127.9" r="1.6"/><circle cx="542.2" cy="147.3" r="1.6"/><circle cx="545" cy="119" r="1.6"/></g>
<g fill="#663399"><circle cx="583" cy="119.2" r="1.6"/></g>
<g fill="#e31a1c"><circle cx="566.9" cy="115.1" r="1.6"/><circle cx="511.9" cy="157" r="1.6"/></g>
<g fill="#663399"><circle cx="576.5" cy="124.7" r="1.6"/><circle cx="587.9" cy="140.6" r="1.6"/></g>
<g fill="#e31a1c"><circle cx="556.6" cy="117.4" r="1.6"/></g>
<g fill="#663399"><circle cx="592.9" cy="110.3" r="1.6"/></g>
<g fill="#e31a1c"><circle cx="574.5" cy="106" r="1.6"/><circle cx="546.8" cy="127" r="1.6"/><circle cx="577" cy="85.1" r="1.6"/></g>
<g fill="#1f72b8"><circle cx="509" cy="111.5" r="1.6"/></g>
<g fill="#663399"><circle cx="597.7" cy="121.9" r="1.6"/></g>
<g fill="#e31a1c"><circle cx="526.3" cy="136.4" r="1.6"/></g>
<g fill="#663399"><circle cx="630" cy="86" r="1.6"/><circle cx="631.6" cy="82.7" r="1.6"/></g>
<g fill="#e31a1c"><circle cx="582.4" cy="110.7" r="1.6"/><circle cx="563.7" cy="114" r="1.6"/></g>
<g fill="#2ca02c"><circle cx="547.1" cy="77" r="1.6"/></g>
<g fill="#e31a1c"><circle cx="505.9" cy="141.7" r="1.6"/></g>
<g fill="#2ca02c"><circle cx="545.9" cy="87.3" r="1.6"/></g>
<g fill="#e31a1c"><circle cx="515.2" cy="143.8" r="1.6"/><circle cx="576.2" cy="106.5" r="1.6"/><circle cx="550.8" cy="135.7" r="1.6"/></g>
<g fill="#663399"><circle cx="580.6" cy="112.3" r="1.6"/></g>
<g fill="#2ca02c"><circle cx="551.9" cy="95.1" r="1.6"/></g>
<g fill="#e31a1c"><circle cx="545.4" cy="93.2" r="1.6"/><circle cx="582.8" cy="102.1" r="1.6"/></g>
<g fill="#663399"><circle cx="632.4" cy="73.6" r="1.6"/><circle cx="623.2" cy="76.5" r="1.6"/></g>
<g fill="#e31a1c"><circle cx="566.3" cy="116.1" r="1.6"/><circle cx="565.9" cy="108.5" r="1.6"/><circle cx="557.2" cy="86.9" r="1.6"/></g>
<g fill="#663399"><circle cx="632.3" cy="59.8" r="1.6"/></g>
<g fill="#e31a1c"><circle cx="516.8" cy="151.4" r="1.6"/></g>
<g fill="#663399"><circle cx="587.5" cy="122.1" r="1.6"/></g>
<g fill="#2ca02c"><circle cx="489.3" cy="149.3" r="1.6"/><circle cx="569" cy="36.1" r="1.6"/></g>
<g fill="#663399"><circle cx="593" cy="126.1" r="1.6"/></g>
<g fill="#e31a1c"><circle cx="563.4" cy="107" r="1.6"/></g>
<g fill="#663399"><circle cx="589.3" cy="121.4" r="1.6"/></g>
<g fill="#2ca02c"><circle cx="541.1" cy="110.4" r="1.6"/></g>
<g fill="#663399"><circle cx="616.3" cy="92.1" r="1.6"/><circle cx="593.8" cy="105" r="1.6"/></g>
<g fill="#e31a1c"><circle cx="522.9" cy="119.5" r="1.6"/><circle cx="581.2" cy="91.4" r="1.6"/><circle cx="528.1" cy="149.5" r="1.6"/></g>
<g fill="#663399"><circle cx="595.4" cy="98.5" r="1.6"/><circle cx="629.5" cy="82.2" r="1.6"/></g>
<g fill="#e31a1c"><circle cx="570.6" cy="86" r="1.6"/></g>
<g fill="#663399"><circle cx="567.1" cy="136" r="1.6"/></g>
<g fill="#e31a1c"><circle cx="549.2" cy="102.5" r="1.6"/></g>
<g fill="#663399"><circle cx="614.2" cy="118.3" r="1.6"/></g>
<g fill="#1f72b8"><circle cx="499.3" cy="122.7" r="1.6"/></g>
<g fill="#2ca02c"><circle cx="524" cy="110.5" r="1.6"/></g>
<g fill="#e31a1c"><circle cx="520" cy="149.1" r="1.6"/></g>
<g fill="#663399"><circle cx="586.5" cy="129.8" r="1.6"/></g>
<g fill="#2ca02c"><circle cx="482.3" cy="164.8" r="1.6"/></g>
<g fill="#e31a1c"><circle cx="545.6" cy="96.2" r="1.6"/></g>
<g fill="#663399"><circle cx="585.1" cy="137" r="1.6"/><circle cx="568.7" cy="148" r="1.6"/></g>
<g fill="#e31a1c"><circle cx="570" cy="92.4" r="1.6"/></g>
<g fill="#2ca02c"><circle cx="560.3" cy="77.1" r="1.6"/></g>
<g fill="#663399"><circle cx="598.7" cy="125.8" r="1.6"/><circle cx="574.6" cy="108.5" r="1.6"/><circle cx="565.1" cy="161.1" r="1.6"/></g>
<g fill="#e31a1c"><circle cx="518" cy="156.3" r="1.6"/></g>
<g fill="#663399"><circle cx="577.6" cy="131.3" r="1.6"/></g>
<g fill="#e31a1c"><circle cx="563.5" cy="122.4" r="1.6"/></g>
<g fill="#663399"><circle cx="592.7" cy="122.4" r="1.6"/></g>
<g fill="#2ca02c"><circle cx="532.3" cy="115" r="1.6"/></g>
<g fill="#663399"><circle cx="601.6" cy="130.7" r="1.6"/><circle cx="591.5" cy="114.8" r="1.6"/></g>
<g fill="#e31a1c"><circle cx="602.1" cy="88.3" r="1.6"/></g>
<g fill="#2ca02c"><circle cx="503.6" cy="127.4" r="1.6"/><circle cx="543.9" cy="97.9" r="1.6"/></g>
<g fill="#e31a1c"><circle cx="584" cy="95" r="1.6"/></g>
<g fill="#663399"><circle cx="598.3" cy="141.4" r="1.6"/></g>
<g fill="#e31a1c"><circle cx="549.4" cy="107.2" r="1.6"/><circle cx="564.7" cy="97.2" r="1.6"/></g>
<g fill="#663399"><circle cx="590.6" cy="119.3" r="1.6"/><circle cx="585.1" cy="123.1" r="1.6"/></g>
<g fill="#e31a1c"><circle cx="587.4" cy="106.5" r="1.6"/><circle cx="536.8" cy="153.8" r="1.6"/><circle cx="509.9" cy="157.4" r="1.6"/></g>
<g fill="#663399"><circle cx="593.2" cy="118" r="1.6"/></g>
<g fill="#e31a1c"><circle cx="519.8" cy="136.3" r="1.6"/></g>
<g fill="#663399"><circle cx="635.7" cy="71.8" r="1.6"/></g>
<g fill="#2ca02c"><circle cx="522.7" cy="106.3" r="1.6"/></g>
<g fill="#e31a1c"><circle cx="548.1" cy="138.7" r="1.6"/></g>
<g fill="#663399"><circle cx="613.2" cy="73.9" r="1.6"/><circle cx="612.2" cy="103.1" r="1.6"/><circle cx="569.1" cy="127.4" r="1.6"/></g>
<g fill="#e31a1c"><circle cx="550.8" cy="139.1" r="1.6"/></g>
<g fill="#663399"><circle cx="594.2" cy="105.5" r="1.6"/></g>
<g fill="#2ca02c"><circle cx="520.5" cy="114.9" r="1.6"/></g>
<g fill="#663399"><circle cx="595.4" cy="105.3" r="1.6"/></g>
<g fill="#e31a1c"><circle cx="545.5" cy="139" r="1.6"/><circle cx="535.7" cy="139.1" r="1.6"/><circle cx="556.9" cy="127.2" r="1.6"/></g>
<g fill="#2ca02c"><circle cx="518.4" cy="123.9" r="1.6"/></g>
<g fill="#663399"><circle cx="584.4" cy="122.6" r="1.6"/></g>
<g fill="#e31a1c"><circle cx="547.7" cy="118" r="1.6"/><circle cx="582.4" cy="103.1" r="1.6"/></g>
<g fill="#663399"><circle cx="558.1" cy="146.8" r="1.6"/><circle cx="614.8" cy="113.1" r="1.6"/></g>
<g fill="#2ca02c"><circle cx="501.7" cy="149.6" r="1.6"/></g>
<g fill="#663399"><circle cx="567.6" cy="169.1" r="1.6"/><circle cx="589.4" cy="132.9" r="1.6"/><circle cx="609.7" cy="97.2" r="1.6"/></g>
<g fill="#e31a1c"><circle cx="540.1" cy="124.1" r="1.6"/></g>
<g fill="#663399"><circle cx="579.8" cy="131.4" r="1.6"/><circle cx="606" cy="96.7" r="1.6"/></g>
<g fill="#e31a1c"><circle cx="469.3" cy="215.7" r="1.6"/></g>
<g fill="#663399"><circle cx="618.8" cy="102.5" r="1.6"/></g>
<g fill="#e31a1c"><circle cx="516.4" cy="156.3" r="1.6"/></g>
<g fill="#663399"><circle cx="556.8" cy="167.1" r="1.6"/><circle cx="610.3" cy="89.9" r="1.6"/></g>
<g fill="#e31a1c"><circle cx="545.1" cy="139.1" r="1.6"/><circle cx="536.6" cy="110" r="1.6"/></g>
<g fill="#663399"><circle cx="602.2" cy="103.6" r="1.6"/></g>
<g fill="#e31a1c"><circle cx="520.3" cy="161.1" r="1.6"/></g>
<g fill="#663399"><circle cx="561.1" cy="154.4" r="1.6"/></g>
<g fill="#e31a1c"><circle cx="530.7" cy="143.7" r="1.6"/><circle cx="541.7" cy="139.7" r="1.6"/></g>
<g fill="#663399"><circle cx="616.7" cy="90.7" r="1.6"/></g>
<g fill="#2ca02c"><circle cx="505.5" cy="106.7" r="1.6"/></g>
<g fill="#e31a1c"><circle cx="600.5" cy="80.9" r="1.6"/></g>
<g fill="#2ca02c"><circle cx="547.2" cy="109.5" r="1.6"/></g>
<g fill="#e31a1c"><circle cx="524.9" cy="130.8" r="1.6"/></g>
<g fill="#2ca02c"><circle cx="506.9" cy="137.5" r="1.6"/></g>
<g fill="#663399"><circle cx="584.8" cy="114.7" r="1.6"/></g>
<g fill="#e31a1c"><circle cx="577.8" cy="122.2" r="1.6"/></g>
<g fill="#663399"><circle cx="609.2" cy="117.8" r="1.6"/><circle cx="570.1" cy="125.8" r="1.6"/></g>
<g fill="#e31a1c"><circle cx="553.2" cy="121.7" r="1.6"/></g>
<g fill="#663399"><circle cx="582.1" cy="126.1" r="1.6"/><circle cx="579.9" cy="138.3" r="1.6"/><circle cx="593.5" cy="127.8" r="1.6"/></g>
<g fill="#1f72b8"><circle cx="512.4" cy="91.2" r="1.6"/></g>
<g fill="#e31a1c"><circle cx="583.8" cy="91.1" r="1.6"/></g>
<g fill="#663399"><circle cx="637" cy="62.4" r="1.6"/></g>
<g fill="#e31a1c"><circle cx="541.3" cy="121.3" r="1.6"/><circle cx="569.5" cy="84.8" r="1.6"/></g>
<g fill="#2ca02c"><circle cx="481.5" cy="152.7" r="1.6"/></g>
<g fill="#e31a1c"><circle cx="540.3" cy="142.7" r="1.6"/></g>
<g fill="#2ca02c"><circle cx="572.9" cy="77.4" r="1.6"/></g>
<g fill="#e31a1c"><circle cx="585.6" cy="102.9" r="1.6"/></g>
<g fill="#663399"><circle cx="605.1" cy="86.5" r="1.6"/></g>
<g fill="#e31a1c"><circle cx="568.8" cy="112.7" r="1.6"/></g>
<g fill="#2ca02c"><circle cx="560.2" cy="85.6" r="1.6"/></g>
<g fill="#e31a1c"><circle cx="564.9" cy="131.7" r="1.6"/></g>
<g fill="#2ca02c"><circle cx="541.3" cy="93.9" r="1.6"/></g>
<g fill="#e31a1c"><circle cx="587" cy="90.1" r="1.6"/><circle cx="600.9" cy="60.8" r="1.6"/></g>
<g fill="#663399"><circle cx="615.8" cy="80.6" r="1.6"/></g>
<g fill="#e31a1c"><circle cx="550.4" cy="117.5" r="1.6"/><circle cx="570.4" cy="110.5" r="1.6"/></g>
<g fill="#663399"><circle cx="599.5" cy="105.5" r="1.6"/><circle cx="587.1" cy="118.5" r="1.6"/><circle cx="617.1" cy="76.4" r="1.6"/><circle cx="625.6" cy="97.6" r="1.6"/><circle cx="630.7" cy="74.1" r="1.6"/></g>
<g fill="#e31a1c"><circle cx="550.5" cy="128.5" r="1.6"/><circle cx="549.5" cy="109.6" r="1.6"/></g>
<g fill="#1f72b8"><circle cx="504.2" cy="110.4" r="1.6"/></g>
<g fill="#663399"><circle cx="553.6" cy="156.5" r="1.6"/></g>
<g fill="#2ca02c"><circle cx="485" cy="126.1" r="1.6"/><circle cx="545.6" cy="103.9" r="1.6"/></g>
<g fill="#e31a1c"><circle cx="552.2" cy="131.5" r="1.6"/><circle cx="559.1" cy="124.6" r="1.6"/><circle cx="572.6" cy="96.2" r="1.6"/></g>
<g fill="#663399"><circle cx="562.2" cy="145.5" r="1.6"/><circle cx="560.5" cy="129.5" r="1.6"/><circle cx="623.9" cy="86.8" r="1.6"/></g>
<g fill="#e31a1c"><circle cx="590.2" cy="85.1" r="1.6"/><circle cx="589.4" cy="92.6" r="1.6"/></g>
<g fill="#663399"><circle cx="605.4" cy="117.1" r="1.6"/><circle cx="562.7" cy="131.5" r="1.6"/></g>
<g fill="#e31a1c"><circle cx="538.5" cy="111.7" r="1.6"/><circle cx="568.8" cy="120" r="1.6"/><circle cx="571.2" cy="64.3" r="1.6"/></g>
<g fill="#663399"><circle cx="547.2" cy="161.3" r="1.6"/></g>
<g fill="#e31a1c"><circle cx="541.9" cy="103.8" r="1.6"/><circle cx="509.7" cy="151.8" r="1.6"/></g>
<g fill="#2ca02c"><circle cx="526.9" cy="93.6" r="1.6"/></g>
<g fill="#e31a1c"><circle cx="547.4" cy="118" r="1.6"/></g>
<g fill="#663399"><circle cx="599.5" cy="134.9" r="1.6"/><circle cx="575.6" cy="118.3" r="1.6"/></g>
<g fill="#e31a1c"><circle cx="580.2" cy="113.8" r="1.6"/></g>
<g fill="#663399"><circle cx="608.3" cy="90.3" r="1.6"/></g>
<g fill="#e31a1c"><circle cx="552.5" cy="124" r="1.6"/><circle cx="532.1" cy="140.2" r="1.6"/></g>
<g fill="#1f72b8"><circle cx="486.2" cy="114.1" r="1.6"/></g>
<g fill="#2ca02c"><circle cx="580.5" cy="52.2" r="1.6"/></g>
<g fill="#663399"><circle cx="602.1" cy="88.9" r="1.6"/></g>
<g fill="#e31a1c"><circle cx="597.1" cy="60.3" r="1.6"/><circle cx="552" cy="95.1" r="1.6"/><circle cx="535.9" cy="123.5" r="1.6"/></g>
<g fill="#2ca02c"><circle cx="539" cy="87" r="1.6"/></g>
<g fill="#e31a1c"><circle cx="563.1" cy="100.7" r="1.6"/><circle cx="597.9" cy="97.5" r="1.6"/></g>
<g fill="#663399"><circle cx="613.1" cy="94.5" r="1.6"/></g>
<g fill="#2ca02c"><circle cx="511.6" cy="137.8" r="1.6"/></g>
<g fill="#e31a1c"><circle cx="535.1" cy="148.2" r="1.6"/></g>
<g fill="#2ca02c"><circle cx="522" cy="123" r="1.6"/></g>
<g fill="#e31a1c"><circle cx="554.5" cy="118.2" r="1.6"/><circle cx="592.3" cy="97.4" r="1.6"/><circle cx="582.5" cy="103.3" r="1.6"/><circle cx="507.1" cy="155.8" r="1.6"/></g>
<g fill="#663399"><circle cx="566.8" cy="131.8" r="1.6"/><circle cx="594.7" cy="115.9" r="1.6"/><circle cx="644" cy="65.9" r="1.6"/><circle cx="624.4" cy="85.8" r="1.6"/></g>
<g fill="#e31a1c"><circle cx="565.9" cy="102.4" r="1.6"/></g>
<g fill="#663399"><circle cx="623.5" cy="91.1" r="1.6"/><circle cx="615" cy="119.5" r="1.6"/></g>
<g fill="#e31a1c"><circle cx="557.9" cy="118.9" r="1.6"/><circle cx="587.7" cy="100.1" r="1.6"/></g>
<g fill="#2ca02c"><circle cx="546.5" cy="108" r="1.6"/></g>
<g fill="#663399"><circle cx="570.3" cy="149.6" r="1.6"/><circle cx="619.3" cy="95.3" r="1.6"/></g>
<g fill="#e31a1c"><circle cx="571.3" cy="92.9" r="1.6"/><circle cx="550.6" cy="121.8" r="1.6"/><circle cx="582.4" cy="73.3" r="1.6"/></g>
<g fill="#663399"><circle cx="582.4" cy="133.2" r="1.6"/></g>
<g fill="#2ca02c"><circle cx="502.9" cy="131" r="1.6"/></g>
<g fill="#663399"><circle cx="581.8" cy="131.5" r="1.6"/></g>
<g fill="#1f72b8"><circle cx="480.9" cy="127.7" r="1.6"/></g>
<g fill="#663399"><circle cx="600.6" cy="115" r="1.6"/><circle cx="619.9" cy="100.6" r="1.6"/><circle cx="620.3" cy="87.4" r="1.6"/></g>
<g fill="#e31a1c"><circle cx="570.4" cy="106.9" r="1.6"/></g>
<g fill="#663399"><circle cx="594.5" cy="126.1" r="1.6"/><circle cx="621.9" cy="89.3" r="1.6"/></g>
<g fill="#2ca02c"><circle cx="533.5" cy="112" r="1.6"/></g>
<g fill="#663399"><circle cx="577.7" cy="119.4" r="1.6"/></g>
<g fill="#e31a1c"><circle cx="547" cy="126.9" r="1.6"/></g>
<g fill="#663399"><circle cx="603.7" cy="119.6" r="1.6"/></g>
<g fill="#e31a1c"><circle cx="572.9" cy="111.1" r="1.6"/></g>
<g fill="#1f72b8"><circle cx="504.8" cy="99.7" r="1.6"/></g>
<g fill="#2ca02c"><circle cx="493.6" cy="159.7" r="1.6"/></g>
<g fill="#e31a1c"><circle cx="568.6" cy="102.3" r="1.6"/><circle cx="574.7" cy="117.4" r="1.6"/><circle cx="533.3" cy="142.9" r="1.6"/></g>
<g fill="#663399"><circle cx="616.9" cy="80.9" r="1.6"/><circle cx="607.3" cy="105.7" r="1.6"/><circle cx="596" cy="94" r="1.6"/></g>
<g fill="#e31a1c"><circle cx="528.4" cy="139.5" r="1.6"/></g>
<g fill="#1f72b8"><circle cx="509.7" cy="106.1" r="1.6"/></g>
<g fill="#663399"><circle cx="590.7" cy="148" r="1.6"/><circle cx="601.9" cy="119.8" r="1.6"/></g>
<g fill="#e31a1c"><circle cx="542.6" cy="136.8" r="1.6"/><circle cx="567.7" cy="118.2" r="1.6"/></g>
<g fill="#663399"><circle cx="610.1" cy="88" r="1.6"/><circle cx="619.4" cy="88.5" r="1.6"/><circle cx="596.6" cy="115.8" r="1.6"/><circle cx="600.1" cy="91.5" r="1.6"/><circle cx="598.3" cy="118.2" r="1.6"/></g>
<g fill="#2ca02c"><circle cx="520.5" cy="113.9" r="1.6"/></g>
<g fill="#e31a1c"><circle cx="545.6" cy="109.8" r="1.6"/><circle cx="550" cy="139.2" r="1.6"/></g>
<g fill="#663399"><circle cx="581.5" cy="132" r="1.6"/></g>
<g fill="#e31a1c"><circle cx="547" cy="118" r="1.6"/><circle cx="522.3" cy="147" r="1.6"/></g>
<g fill="#663399"><circle cx="595.2" cy="111.7" r="1.6"/><circle cx="568" cy="149.5" r="1.6"/></g>
<g fill="#2ca02c"><circle cx="502.7" cy="122.7" r="1.6"/></g>
<g fill="#e31a1c"><circle cx="604.3" cy="91.7" r="1.6"/><circle cx="581.4" cy="89.8" r="1.6"/></g>
<g fill="#2ca02c"><circle cx="547.8" cy="104.2" r="1.6"/></g>
<g fill="#e31a1c"><circle cx="528.8" cy="150.7" r="1.6"/></g>
<g fill="#663399"><circle cx="601.4" cy="120.8" r="1.6"/></g>
<g fill="#e31a1c"><circle cx="567.6" cy="115.9" r="1.6"/></g>
<g fill="#1f72b8"><circle cx="501.3" cy="98.8" r="1.6"/></g>
<g fill="#e31a1c"><circle cx="592" cy="98.7" r="1.6"/><circle cx="513.6" cy="142.5" r="1.6"/><circle cx="544.6" cy="143.1" r="1.6"/></g>
<g fill="#663399"><circle cx="550.3" cy="157.2" r="1.6"/></g>
<g fill="#e31a1c"><circle cx="519.6" cy="145.4" r="1.6"/></g>
<g fill="#663399"><circle cx="594.2" cy="111.1" r="1.6"/></g>
<g fill="#e31a1c"><circle cx="607.7" cy="66.7" r="1.6"/><circle cx="558.4" cy="124.3" r="1.6"/></g>
<g fill="#663399"><circle cx="567.3" cy="158.7" r="1.6"/><circle cx="595.9" cy="128.8" r="1.6"/><circle cx="609.3" cy="113.3" r="1.6"/><circle cx="610.7" cy="110.2" r="1.6"/></g>
<g fill="#e31a1c"><circle cx="518.2" cy="154.8" r="1.6"/><circle cx="557.1" cy="112.1" r="1.6"/></g>
<g fill="#663399"><circle cx="590.4" cy="120.9" r="1.6"/></g>
<g fill="#e31a1c"><circle cx="553.1" cy="93.7" r="1.6"/><circle cx="576.8" cy="102.5" r="1.6"/><circle cx="603.3" cy="91.8" r="1.6"/></g>
<g fill="#1f72b8"><circle cx="500.4" cy="118.7" r="1.6"/></g>
<g fill="#663399"><circle cx="589.4" cy="132.6" r="1.6"/></g>
<g fill="#e31a1c"><circle cx="573.9" cy="118.3" r="1.6"/></g>
<g fill="#2ca02c"><circle cx="503.8" cy="135" r="1.6"/><circle cx="518.9" cy="100.8" r="1.6"/><circle cx="516.7" cy="128.7" r="1.6"/></g>
<g fill="#e31a1c"><circle cx="538" cy="121.9" r="1.6"/></g>
<g fill="#2ca02c"><circle cx="558.5" cy="80" r="1.6"/></g>
<g fill="#663399"><circle cx="552.2" cy="164.4" r="1.6"/><circle cx="568.5" cy="128.4" r="1.6"/><circle cx="619.1" cy="75.5" r="1.6"/></g>
<g fill="#e31a1c"><circle cx="588" cy="92.9" r="1.6"/></g>
<g fill="#1f72b8"><circle cx="518.1" cy="103.2" r="1.6"/></g>
<g fill="#e31a1c"><circle cx="590.1" cy="96" r="1.6"/><circle cx="597.5" cy="102.1" r="1.6"/></g>
<g fill="#663399"><circle cx="609.1" cy="104.6" r="1.6"/><circle cx="613.2" cy="110.7" r="1.6"/><circle cx="605.6" cy="99.2" r="1.6"/><circle cx="632.7" cy="90.6" r="1.6"/><circle cx="614.4" cy="98.6" r="1.6"/><circle cx="599.2" cy="116.8" r="1.6"/></g>
<g fill="#e31a1c"><circle cx="570" cy="90.4" r="1.6"/></g>
<g fill="#663399"><circle cx="632.1" cy="69.3" r="1.6"/><circle cx="589.6" cy="111.7" r="1.6"/><circle cx="587.2" cy="133.6" r="1.6"/><circle cx="593.5" cy="113.3" r="1.6"/></g>
<g fill="#2ca02c"><circle cx="526.1" cy="118.8" r="1.6"/></g>
<g fill="#e31a1c"><circle cx="563.4" cy="100.8" r="1.6"/></g>
<g fill="#663399"><circle cx="577.7" cy="131.9" r="1.6"/></g>
<g fill="#e31a1c"><circle cx="531.7" cy="145.5" r="1.6"/><circle cx="580.7" cy="95.2" r="1.6"/></g>
<g fill="#663399"><circle cx="574.8" cy="144" r="1.6"/><circle cx="570.3" cy="109.2" r="1.6"/><circle cx="598.8" cy="123.3" r="1.6"/><circle cx="591.1" cy="119.9" r="1.6"/></g>
<g fill="#1f72b8"><circle cx="501.6" cy="107" r="1.6"/></g>
<g fill="#663399"><circle cx="628.9" cy="84.6" r="1.6"/></g>
<g fill="#1f72b8"><circle cx="481.8" cy="126" r="1.6"/></g>
<g fill="#663399"><circle cx="571.3" cy="157.2" r="1.6"/></g>
<g fill="#e31a1c"><circle cx="529.9" cy="125.8" r="1.6"/></g>
<g fill="#663399"><circle cx="579.1" cy="123.9" r="1.6"/></g>
<g fill="#e31a1c"><circle cx="530.6" cy="157.5" r="1.6"/><circle cx="575" cy="103.7" r="1.6"/><circle cx="562" cy="76.1" r="1.6"/></g>
<g fill="#663399"><circle cx="600.7" cy="113" r="1.6"/><circle cx="624.2" cy="61.1" r="1.6"/></g>
<g fill="#1f72b8"><circle cx="510.4" cy="98.5" r="1.6"/><circle cx="488.9" cy="118.5" r="1.6"/></g>
<g fill="#2ca02c"><circle cx="546.3" cy="94.4" r="1.6"/></g>
<g fill="#e31a1c"><circle cx="538.6" cy="134" r="1.6"/></g>
<g fill="#663399"><circle cx="622.5" cy="81.1" r="1.6"/><circle cx="628.5" cy="101.5" r="1.6"/></g>
<g fill="#e31a1c"><circle cx="557.5" cy="108" r="1.6"/></g>
<g fill="#663399"><circle cx="563.5" cy="138.3" r="1.6"/><circle cx="583.4" cy="157.8" r="1.6"/><circle cx="581.9" cy="130.9" r="1.6"/><circle cx="567.7" cy="134.1" r="1.6"/><circle cx="567.1" cy="133.4" r="1.6"/><circle cx="549.3" cy="146.6" r="1.6"/></g>
<g fill="#e31a1c"><circle cx="548.4" cy="143.3" r="1.6"/></g>
<g fill="#663399"><circle cx="601.7" cy="95.7" r="1.6"/></g>
<g fill="#e31a1c"><circle cx="575.9" cy="121" r="1.6"/><circle cx="566.1" cy="134.6" r="1.6"/></g>
<g fill="#2ca02c"><circle cx="555.1" cy="65.5" r="1.6"/></g>
<g fill="#663399"><circle cx="606.1" cy="100.3" r="1.6"/></g>
<g fill="#e31a1c"><circle cx="586.9" cy="117.7" r="1.6"/><circle cx="534.4" cy="107.9" r="1.6"/></g>
<g fill="#663399"><circle cx="570.4" cy="154.5" r="1.6"/></g>
<g fill="#e31a1c"><circle cx="565.2" cy="124.6" r="1.6"/></g>
<g fill="#663399"><circle cx="607.4" cy="111" r="1.6"/></g>
<g fill="#2ca02c"><circle cx="571.4" cy="44.4" r="1.6"/></g>
<g fill="#e31a1c"><circle cx="526.3" cy="136.3" r="1.6"/><circle cx="538.3" cy="143.6" r="1.6"/><circle cx="560.1" cy="135.3" r="1.6"/></g>
<g fill="#663399"><circle cx="593.1" cy="112" r="1.6"/><circle cx="588.5" cy="138.4" r="1.6"/></g>
<g fill="#e31a1c"><circle cx="557.7" cy="121.9" r="1.6"/></g>
<g fill="#663399"><circle cx="565.1" cy="149.9" r="1.6"/></g>
<g fill="#e31a1c"><circle cx="564" cy="106.1" r="1.6"/><circle cx="541.6" cy="132.2" r="1.6"/></g>
<g fill="#663399"><circle cx="585.5" cy="111" r="1.6"/></g>
<g fill="#e31a1c"><circle cx="555.9" cy="116" r="1.6"/><circle cx="523.4" cy="143.3" r="1.6"/><circle cx="528.1" cy="147.8" r="1.6"/><circle cx="568.6" cy="96.7" r="1.6"/></g>
<g fill="#663399"><circle cx="569.9" cy="151.1" r="1.6"/></g>
<g fill="#e31a1c"><circle cx="578.8" cy="101.2" r="1.6"/></g>
<g fill="#663399"><circle cx="566.3" cy="141.9" r="1.6"/></g>
<g fill="#1f72b8"><circle cx="501.1" cy="97.3" r="1.6"/><circle cx="507.7" cy="96.3" r="1.6"/></g>
<g fill="#663399"><circle cx="584.8" cy="126.7" r="1.6"/></g>
<g fill="#e31a1c"><circle cx="546.4" cy="105.2" r="1.6"/></g>
<g fill="#663399"><circle cx="588.7" cy="125.6" r="1.6"/><circle cx="583.8" cy="130.5" r="1.6"/><circle cx="595" cy="113.1" r="1.6"/><circle cx="607" cy="82.8" r="1.6"/><circle cx="553.4" cy="166.1" r="1.6"/></g>
<g fill="#2ca02c"><circle cx="517.4" cy="108.2" r="1.6"/></g>
<g fill="#e31a1c"><circle cx="597.7" cy="91.2" r="1.6"/><circle cx="552.3" cy="123.7" r="1.6"/></g>
<g fill="#663399"><circle cx="572.2" cy="123.4" r="1.6"/></g>
<g fill="#2ca02c"><circle cx="567.5" cy="66.1" r="1.6"/></g>
<g fill="#e31a1c"><circle cx="563.9" cy="130.3" r="1.6"/><circle cx="540.8" cy="137.4" r="1.6"/></g>
<g fill="#663399"><circle cx="599.2" cy="124.2" r="1.6"/><circle cx="583.2" cy="118" r="1.6"/></g>
<g fill="#e31a1c"><circle cx="567.2" cy="107" r="1.6"/></g>
<g fill="#1f72b8"><circle cx="509.8" cy="102.4" r="1.6"/></g>
<g fill="#e31a1c"><circle cx="544.4" cy="125.9" r="1.6"/></g>
<g fill="#663399"><circle cx="548.6" cy="160.2" r="1.6"/><circle cx="585.5" cy="123.9" r="1.6"/><circle cx="597.9" cy="119" r="1.6"/><circle cx="606.9" cy="85.9" r="1.6"/></g>
<g fill="#e31a1c"><circle cx="503.5" cy="168.7" r="1.6"/></g>
<g fill="#663399"><circle cx="573.5" cy="150.7" r="1.6"/></g>
<g fill="#2ca02c"><circle cx="525.9" cy="122.9" r="1.6"/></g>
<g fill="#663399"><circle cx="575.9" cy="153.8" r="1.6"/><circle cx="611.6" cy="89.5" r="1.6"/></g>
<g fill="#e31a1c"><circle cx="551.2" cy="109.6" r="1.6"/><circle cx="601.5" cy="79.5" r="1.6"/></g>
<g fill="#2ca02c"><circle cx="520.2" cy="119.8" r="1.6"/><circle cx="528.5" cy="118.1" r="1.6"/></g>
<g fill="#e31a1c"><circle cx="542.7" cy="103.6" r="1.6"/></g>
<g fill="#663399"><circle cx="599.1" cy="133.5" r="1.6"/></g>
<g fill="#e31a1c"><circle cx="531.2" cy="145.9" r="1.6"/><circle cx="550.6" cy="90.8" r="1.6"/></g>
<g fill="#2ca02c"><circle cx="555.6" cy="80.5" r="1.6"/><circle cx="516.4" cy="118.4" r="1.6"/></g>
<g fill="#663399"><circle cx="617.9" cy="86.4" r="1.6"/></g>
<g fill="#e31a1c"><circle cx="570.5" cy="99.5" r="1.6"/><circle cx="564.8" cy="111" r="1.6"/><circle cx="546.6" cy="117.9" r="1.6"/><circle cx="575.2" cy="65.2" r="1.6"/><circle cx="530.6" cy="155.7" r="1.6"/></g>
<g fill="#663399"><circle cx="572.9" cy="134.9" r="1.6"/></g>
<g fill="#e31a1c"><circle cx="541" cy="130.6" r="1.6"/><circle cx="512.1" cy="159.8" r="1.6"/><circle cx="543.4" cy="141.8" r="1.6"/><circle cx="550.6" cy="112.9" r="1.6"/></g>
<g fill="#663399"><circle cx="590.6" cy="116.3" r="1.6"/><circle cx="583.8" cy="115.2" r="1.6"/></g>
<g fill="#2ca02c"><circle cx="544.5" cy="92.8" r="1.6"/></g>
<g fill="#663399"><circle cx="577.1" cy="123.1" r="1.6"/><circle cx="578.5" cy="120.9" r="1.6"/></g>
<g fill="#e31a1c"><circle cx="560.7" cy="111.7" r="1.6"/></g>
<g fill="#1f72b8"><circle cx="494.1" cy="125.4" r="1.6"/></g>
<g fill="#e31a1c"><circle cx="558.6" cy="118.1" r="1.6"/></g>
<g fill="#663399"><circle cx="590.5" cy="122.9" r="1.6"/></g>
<g fill="#e31a1c"><circle cx="550.8" cy="88.1" r="1.6"/><circle cx="580.4" cy="120.7" r="1.6"/></g>
<g fill="#663399"><circle cx="608.6" cy="105.9" r="1.6"/><circle cx="613" cy="118" r="1.6"/></g>
<g fill="#e31a1c"><circle cx="545" cy="121.1" r="1.6"/></g>
<g fill="#2ca02c"><circle cx="529.3" cy="86.4" r="1.6"/></g>
<g fill="#e31a1c"><circle cx="559.7" cy="127" r="1.6"/></g>
<g fill="#1f72b8"><circle cx="515.2" cy="89" r="1.6"/></g>
<g fill="#e31a1c"><circle cx="567.5" cy="110.9" r="1.6"/></g>
<g fill="#663399"><circle cx="594.5" cy="104.7" r="1.6"/></g>
<g fill="#2ca02c"><circle cx="542.8" cy="93" r="1.6"/></g>
<g fill="#e31a1c"><circle cx="563.8" cy="117.3" r="1.6"/></g>
<g fill="#663399"><circle cx="581.2" cy="147.3" r="1.6"/></g>
<g fill="#e31a1c"><circle cx="542.7" cy="136" r="1.6"/></g>
<g fill="#2ca02c"><circle cx="527.5" cy="107.3" r="1.6"/></g>
<g fill="#e31a1c"><circle cx="562.4" cy="133.9" r="1.6"/></g>
<g fill="#663399"><circle cx="578.9" cy="158" r="1.6"/><circle cx="580.2" cy="144.7" r="1.6"/></g>
<g fill="#e31a1c"><circle cx="542.8" cy="119.4" r="1.6"/><circle cx="528.3" cy="136.2" r="1.6"/></g>
<g fill="#663399"><circle cx="618.5" cy="102.6" r="1.6"/></g>
<g fill="#e31a1c"><circle cx="558.3" cy="134.7" r="1.6"/><circle cx="567.6" cy="104.4" r="1.6"/></g>
<g fill="#663399"><circle cx="596.4" cy="112.1" r="1.6"/><circle cx="646.1" cy="42.1" r="1.6"/></g>
<g fill="#2ca02c"><circle cx="519.9" cy="147.7" r="1.6"/></g>
<g fill="#663399"><circle cx="607.5" cy="112.1" r="1.6"/></g>
<g fill="#e31a1c"><circle cx="562" cy="121.1" r="1.6"/></g>
<g fill="#663399"><circle cx="602.5" cy="106.2" r="1.6"/></g>
<g fill="#e31a1c"><circle cx="542.9" cy="137.3" r="1.6"/><circle cx="521.7" cy="156.5" r="1.6"/></g>
<g fill="#2ca02c"><circle cx="561.1" cy="73.4" r="1.6"/></g>
<g fill="#663399"><circle cx="527" cy="188.5" r="1.6"/><circle cx="579.9" cy="118.3" r="1.6"/></g>
<g fill="#e31a1c"><circle cx="501.2" cy="158.6" r="1.6"/><circle cx="591.8" cy="96.8" r="1.6"/></g>
<g fill="#2ca02c"><circle cx="441.8" cy="150.1" r="1.6"/></g>
<g fill="#e31a1c"><circle cx="587.2" cy="78.7" r="1.6"/><circle cx="595.5" cy="68.2" r="1.6"/></g>
<g fill="#2ca02c"><circle cx="562.9" cy="77.2" r="1.6"/></g>
<g fill="#663399"><circle cx="591.5" cy="149.8" r="1.6"/><circle cx="601.1" cy="101.3" r="1.6"/></g>
<g fill="#e31a1c"><circle cx="580.7" cy="108" r="1.6"/></g>
<g fill="#663399"><circle cx="631.4" cy="84.1" r="1.6"/></g>
<g fill="#e31a1c"><circle cx="584.7" cy="93" r="1.6"/><circle cx="595.2" cy="105.3" r="1.6"/><circle cx="564.2" cy="123.8" r="1.6"/><circle cx="541.3" cy="103" r="1.6"/></g>
<g fill="#663399"><circle cx="570.7" cy="136.5" r="1.6"/></g>
<g fill="#2ca02c"><circle cx="548.2" cy="85" r="1.6"/></g>
<g fill="#e31a1c"><circle cx="515.8" cy="119.6" r="1.6"/><circle cx="581.4" cy="82.2" r="1.6"/></g>
<g fill="#663399"><circle cx="646.1" cy="66" r="1.6"/><circle cx="612.7" cy="93" r="1.6"/><circle cx="590.4" cy="116.6" r="1.6"/></g>
<g fill="#e31a1c"><circle cx="530.7" cy="166" r="1.6"/><circle cx="565.5" cy="110.2" r="1.6"/><circle cx="540.6" cy="92.3" r="1.6"/><circle cx="552.9" cy="134" r="1.6"/><circle cx="602.1" cy="37" r="1.6"/></g>
<g fill="#663399"><circle cx="585.5" cy="141.9" r="1.6"/><circle cx="599.4" cy="102.8" r="1.6"/></g>
<g fill="#e31a1c"><circle cx="552.3" cy="146" r="1.6"/></g>
<g fill="#663399"><circle cx="613.4" cy="125.4" r="1.6"/></g>
<g fill="#e31a1c"><circle cx="602.4" cy="81.2" r="1.6"/><circle cx="541.5" cy="107" r="1.6"/></g>
<g fill="#663399"><circle cx="620.9" cy="65.7" r="1.6"/><circle cx="595.7" cy="100.1" r="1.6"/></g>
<g fill="#e31a1c"><circle cx="571.4" cy="87.6" r="1.6"/><circle cx="556.4" cy="137.1" r="1.6"/></g>
<g fill="#663399"><circle cx="606.3" cy="111.5" r="1.6"/><circle cx="607.3" cy="107.4" r="1.6"/><circle cx="620.6" cy="84.9" r="1.6"/></g>
<g fill="#1f72b8"><circle cx="490" cy="106.4" r="1.6"/></g>
<g fill="#e31a1c"><circle cx="543.2" cy="136.3" r="1.6"/><circle cx="552.5" cy="122.3" r="1.6"/></g>
<g fill="#1f72b8"><circle cx="493.9" cy="114.2" r="1.6"/></g>
<g fill="#663399"><circle cx="621.2" cy="74.1" r="1.6"/></g>
<g fill="#e31a1c"><circle cx="560.2" cy="97.2" r="1.6"/><circle cx="574.3" cy="99.8" r="1.6"/></g>
<g fill="#663399"><circle cx="607.4" cy="125.8" r="1.6"/><circle cx="596.8" cy="89.2" r="1.6"/></g>
<g fill="#2ca02c"><circle cx="532.6" cy="101.8" r="1.6"/></g>
<g fill="#e31a1c"><circle cx="573" cy="81.4" r="1.6"/></g>
<g fill="#663399"><circle cx="595.8" cy="122.8" r="1.6"/><circle cx="570.9" cy="148.8" r="1.6"/></g>
<g fill="#1f72b8"><circle cx="505.5" cy="108.3" r="1.6"/></g>
<g fill="#663399"><circle cx="612.7" cy="99" r="1.6"/></g>
<g fill="#e31a1c"><circle cx="496.3" cy="155.7" r="1.6"/><circle cx="522.4" cy="125.5" r="1.6"/><circle cx="573.5" cy="127.4" r="1.6"/><circle cx="566.7" cy="117.2" r="1.6"/></g>
<g fill="#663399"><circle cx="634" cy="89.9" r="1.6"/></g>
<g fill="#e31a1c"><circle cx="452.1" cy="200.3" r="1.6"/></g>
<g fill="#663399"><circle cx="593.1" cy="128.1" r="1.6"/><circle cx="599.8" cy="106.7" r="1.6"/><circle cx="586.7" cy="105.1" r="1.6"/><circle cx="624" cy="76.2" r="1.6"/></g>
<g fill="#e31a1c"><circle cx="543.6" cy="131.9" r="1.6"/></g>
<g fill="#663399"><circle cx="592.7" cy="110.2" r="1.6"/></g>
<g fill="#e31a1c"><circle cx="570.4" cy="109.5" r="1.6"/></g>
<g fill="#663399"><circle cx="567.3" cy="143.4" r="1.6"/></g>
<g fill="#e31a1c"><circle cx="565.2" cy="92.5" r="1.6"/><circle cx="570.3" cy="86.2" r="1.6"/></g>
</g>
<clipPath id="cp2"><rect x="48.5" y="308" width="286.5" height="232"/></clipPath>
<g clip-path="url(#cp2)">
<g fill="#2ca02c"><circle cx="157.6" cy="382.4" r="1.6"/></g>
<g fill="#663399"><circle cx="254.6" cy="390.4" r="1.6"/><circle cx="239.6" cy="422.8" r="1.6"/><circle cx="241.3" cy="395.6" r="1.6"/></g>
<g fill="#e31a1c"><circle cx="137.4" cy="445.1" r="1.6"/><circle cx="164.8" cy="432" r="1.6"/></g>
<g fill="#2ca02c"><circle cx="181.4" cy="418" r="1.6"/></g>
<g fill="#663399"><circle cx="229.8" cy="445" r="1.6"/><circle cx="208" cy="438.8" r="1.6"/></g>
<g fill="#2ca02c"><circle cx="167.2" cy="396.5" r="1.6"/></g>
<g fill="#663399"><circle cx="217.2" cy="398.2" r="1.6"/></g>
<g fill="#e31a1c"><circle cx="160.4" cy="442.4" r="1.6"/></g>
<g fill="#663399"><circle cx="232.6" cy="446.5" r="1.6"/><circle cx="216.2" cy="479.9" r="1.6"/></g>
<g fill="#e31a1c"><circle cx="207.4" cy="422.9" r="1.6"/><circle cx="169" cy="424.6" r="1.6"/></g>
<g fill="#663399"><circle cx="222.4" cy="440.8" r="1.6"/></g>
<g fill="#2ca02c"><circle cx="159.9" cy="429.9" r="1.6"/></g>
<g fill="#663399"><circle cx="198.6" cy="461.9" r="1.6"/></g>
<g fill="#e31a1c"><circle cx="176.2" cy="374.7" r="1.6"/><circle cx="214.9" cy="403.5" r="1.6"/></g>
<g fill="#663399"><circle cx="276.1" cy="369.6" r="1.6"/></g>
<g fill="#2ca02c"><circle cx="155.6" cy="375.8" r="1.6"/></g>
<g fill="#663399"><circle cx="256.2" cy="401.1" r="1.6"/></g>
<g fill="#e31a1c"><circle cx="127.3" cy="453.2" r="1.6"/></g>
<g fill="#663399"><circle cx="190.3" cy="491" r="1.6"/><circle cx="220.5" cy="430.2" r="1.6"/><circle cx="173" cy="444.3" r="1.6"/></g>
<g fill="#2ca02c"><circle cx="115.9" cy="472.6" r="1.6"/></g>
<g fill="#e31a1c"><circle cx="205.1" cy="424.7" r="1.6"/></g>
<g fill="#663399"><circle cx="188.5" cy="440.6" r="1.6"/></g>
<g fill="#e31a1c"><circle cx="177.7" cy="422" r="1.6"/><circle cx="188" cy="406.5" r="1.6"/></g>
<g fill="#2ca02c"><circle cx="213.4" cy="402.1" r="1.6"/></g>
<g fill="#e31a1c"><circle cx="178.3" cy="422.9" r="1.6"/></g>
<g fill="#2ca02c"><circle cx="148.6" cy="403.8" r="1.6"/></g>
<g fill="#e31a1c"><circle cx="162.6" cy="379.1" r="1.6"/><circle cx="166.6" cy="402.5" r="1.6"/></g>
<g fill="#663399"><circle cx="191.4" cy="444.9" r="1.6"/></g>
<g fill="#e31a1c"><circle cx="216.1" cy="413.7" r="1.6"/><circle cx="162.9" cy="465.2" r="1.6"/><circle cx="163.7" cy="454.6" r="1.6"/></g>
<g fill="#2ca02c"><circle cx="165.7" cy="436.7" r="1.6"/></g>
<g fill="#663399"><circle cx="277.5" cy="379.6" r="1.6"/></g>
<g fill="#e31a1c"><circle cx="222.6" cy="407.5" r="1.6"/></g>
<g fill="#2ca02c"><circle cx="174.5" cy="403.8" r="1.6"/></g>
<g fill="#663399"><circle cx="211.5" cy="453.7" r="1.6"/><circle cx="289.9" cy="390.7" r="1.6"/></g>
<g fill="#e31a1c"><circle cx="158.4" cy="417.8" r="1.6"/><circle cx="199.5" cy="374.8" r="1.6"/></g>
<g fill="#663399"><circle cx="180.5" cy="425.6" r="1.6"/></g>
<g fill="#e31a1c"><circle cx="191" cy="411.8" r="1.6"/><circle cx="170.4" cy="429.7" r="1.6"/></g>
<g fill="#2ca02c"><circle cx="145.9" cy="398.5" r="1.6"/></g>
<g fill="#e31a1c"><circle cx="160.8" cy="408.4" r="1.6"/></g>
<g fill="#663399"><circle cx="272.9" cy="373.4" r="1.6"/></g>
<g fill="#e31a1c"><circle cx="164.2" cy="449.8" r="1.6"/><circle cx="186.1" cy="420.1" r="1.6"/><circle cx="240.2" cy="425.5" r="1.6"/><circle cx="208.7" cy="382.5" r="1.6"/><circle cx="211" cy="410.3" r="1.6"/><circle cx="177.1" cy="451.7" r="1.6"/><circle cx="134.6" cy="467.4" r="1.6"/><circle cx="178.4" cy="425.5" r="1.6"/></g>
<g fill="#663399"><circle cx="209.6" cy="446.2" r="1.6"/><circle cx="181" cy="441.2" r="1.6"/></g>
<g fill="#2ca02c"><circle cx="147.9" cy="377.2" r="1.6"/></g>
<g fill="#e31a1c"><circle cx="151.1" cy="447.7" r="1.6"/><circle cx="260.3" cy="397.6" r="1.6"/><circle cx="133.5" cy="470.6" r="1.6"/><circle cx="198.9" cy="421.5" r="1.6"/></g>
<g fill="#663399"><circle cx="239.6" cy="440.6" r="1.6"/></g>
<g fill="#e31a1c"><circle cx="188.3" cy="455.8" r="1.6"/></g>
<g fill="#1f72b8"><circle cx="148.3" cy="399.4" r="1.6"/></g>
<g fill="#e31a1c"><circle cx="158.5" cy="444.3" r="1.6"/><circle cx="148.6" cy="457.1" r="1.6"/></g>
<g fill="#2ca02c"><circle cx="145.6" cy="365.7" r="1.6"/></g>
<g fill="#663399"><circle cx="223" cy="444.9" r="1.6"/></g>
<g fill="#2ca02c"><circle cx="134.7" cy="367" r="1.6"/></g>
<g fill="#663399"><circle cx="253.5" cy="404.4" r="1.6"/><circle cx="270.2" cy="374.1" r="1.6"/></g>
<g fill="#2ca02c"><circle cx="106.7" cy="419" r="1.6"/></g>
<g fill="#663399"><circle cx="285.6" cy="387.8" r="1.6"/></g>
<g fill="#e31a1c"><circle cx="173.2" cy="423.5" r="1.6"/></g>
<g fill="#663399"><circle cx="194.2" cy="472.6" r="1.6"/><circle cx="225.8" cy="430.2" r="1.6"/><circle cx="203.7" cy="405.1" r="1.6"/></g>
<g fill="#2ca02c"><circle cx="182.3" cy="427.4" r="1.6"/></g>
<g fill="#e31a1c"><circle cx="144.5" cy="417.2" r="1.6"/></g>
<g fill="#663399"><circle cx="197.7" cy="426.7" r="1.6"/></g>
<g fill="#1f72b8"><circle cx="133.4" cy="412.1" r="1.6"/></g>
<g fill="#e31a1c"><circle cx="192.5" cy="393.5" r="1.6"/></g>
<g fill="#2ca02c"><circle cx="168.5" cy="410.9" r="1.6"/></g>
<g fill="#663399"><circle cx="198.7" cy="419.9" r="1.6"/></g>
<g fill="#e31a1c"><circle cx="161.7" cy="423.9" r="1.6"/><circle cx="257.2" cy="378.5" r="1.6"/><circle cx="138.9" cy="453.1" r="1.6"/><circle cx="234" cy="413.9" r="1.6"/><circle cx="152.3" cy="419.2" r="1.6"/></g>
<g fill="#2ca02c"><circle cx="136.1" cy="433.6" r="1.6"/></g>
<g fill="#e31a1c"><circle cx="220.8" cy="421.5" r="1.6"/><circle cx="203.1" cy="421.5" r="1.6"/><circle cx="206.1" cy="435.7" r="1.6"/></g>
<g fill="#663399"><circle cx="205.5" cy="409.1" r="1.6"/><circle cx="212.9" cy="474.7" r="1.6"/></g>
<g fill="#e31a1c"><circle cx="150.1" cy="455.1" r="1.6"/></g>
<g fill="#663399"><circle cx="222.6" cy="424.4" r="1.6"/><circle cx="160.8" cy="430.9" r="1.6"/></g>
<g fill="#e31a1c"><circle cx="218.6" cy="395.9" r="1.6"/></g>
<g fill="#663399"><circle cx="308.9" cy="364.7" r="1.6"/></g>
<g fill="#e31a1c"><circle cx="142.7" cy="438.4" r="1.6"/></g>
<g fill="#663399"><circle cx="258.3" cy="411.9" r="1.6"/><circle cx="212.4" cy="447.2" r="1.6"/></g>
<g fill="#e31a1c"><circle cx="152.1" cy="431.1" r="1.6"/></g>
<g fill="#1f72b8"><circle cx="164.4" cy="408.3" r="1.6"/></g>
<g fill="#663399"><circle cx="239.5" cy="429.4" r="1.6"/><circle cx="196.6" cy="440.9" r="1.6"/></g>
<g fill="#2ca02c"><circle cx="153.2" cy="478.1" r="1.6"/></g>
<g fill="#663399"><circle cx="191.2" cy="420.2" r="1.6"/><circle cx="247.2" cy="386.3" r="1.6"/><circle cx="220.1" cy="428.4" r="1.6"/><circle cx="199.4" cy="440.9" r="1.6"/><circle cx="212.3" cy="436.6" r="1.6"/></g>
<g fill="#2ca02c"><circle cx="155.5" cy="400.8" r="1.6"/></g>
<g fill="#e31a1c"><circle cx="206.1" cy="386.3" r="1.6"/></g>
<g fill="#663399"><circle cx="241.5" cy="394.5" r="1.6"/><circle cx="211.6" cy="393" r="1.6"/><circle cx="247.1" cy="412.2" r="1.6"/></g>
<g fill="#2ca02c"><circle cx="145" cy="431" r="1.6"/></g>
<g fill="#663399"><circle cx="188.5" cy="451.9" r="1.6"/></g>
<g fill="#1f72b8"><circle cx="129" cy="425.5" r="1.6"/></g>
<g fill="#2ca02c"><circle cx="217.1" cy="327.8" r="1.6"/></g>
<g fill="#663399"><circle cx="221.7" cy="411.2" r="1.6"/></g>
<g fill="#e31a1c"><circle cx="151.3" cy="413.9" r="1.6"/><circle cx="150.6" cy="444.7" r="1.6"/><circle cx="180.4" cy="415.9" r="1.6"/></g>
<g fill="#663399"><circle cx="234.6" cy="431.3" r="1.6"/></g>
<g fill="#e31a1c"><circle cx="187.7" cy="396.9" r="1.6"/><circle cx="238.9" cy="368.6" r="1.6"/><circle cx="187.7" cy="463.5" r="1.6"/><circle cx="231.6" cy="415.6" r="1.6"/></g>
<g fill="#2ca02c"><circle cx="179.8" cy="379.7" r="1.6"/></g>
<g fill="#663399"><circle cx="221.4" cy="412.4" r="1.6"/></g>
<g fill="#2ca02c"><circle cx="132.2" cy="391.4" r="1.6"/></g>
<g fill="#e31a1c"><circle cx="206.5" cy="398.5" r="1.6"/><circle cx="186" cy="429.2" r="1.6"/><circle cx="172" cy="432.1" r="1.6"/><circle cx="163.4" cy="447.8" r="1.6"/><circle cx="200.4" cy="402" r="1.6"/></g>
<g fill="#1f72b8"><circle cx="167.6" cy="420.2" r="1.6"/></g>
<g fill="#e31a1c"><circle cx="173.3" cy="446.9" r="1.6"/></g>
<g fill="#2ca02c"><circle cx="181.4" cy="371.3" r="1.6"/><circle cx="169.5" cy="398.3" r="1.6"/></g>
<g fill="#e31a1c"><circle cx="188" cy="416.1" r="1.6"/></g>
<g fill="#663399"><circle cx="202.3" cy="447.1" r="1.6"/></g>
<g fill="#e31a1c"><circle cx="132.1" cy="469.3" r="1.6"/></g>
<g fill="#2ca02c"><circle cx="175.3" cy="415.3" r="1.6"/></g>
<g fill="#e31a1c"><circle cx="186.4" cy="433.8" r="1.6"/></g>
<g fill="#663399"><circle cx="215.6" cy="388.4" r="1.6"/></g>
<g fill="#2ca02c"><circle cx="187.1" cy="380.3" r="1.6"/></g>
<g fill="#663399"><circle cx="198" cy="425.9" r="1.6"/><circle cx="243.2" cy="389.3" r="1.6"/><circle cx="165.8" cy="448.6" r="1.6"/></g>
<g fill="#e31a1c"><circle cx="136.1" cy="431.7" r="1.6"/></g>
<g fill="#1f72b8"><circle cx="162.2" cy="406.1" r="1.6"/></g>
<g fill="#663399"><circle cx="273" cy="369.5" r="1.6"/></g>
<g fill="#e31a1c"><circle cx="81" cy="479.5" r="1.6"/></g>
<g fill="#663399"><circle cx="241" cy="409.8" r="1.6"/></g>
<g fill="#e31a1c"><circle cx="229.5" cy="378.7" r="1.6"/></g>
<g fill="#663399"><circle cx="220.5" cy="397.4" r="1.6"/></g>
<g fill="#2ca02c"><circle cx="121.1" cy="437.9" r="1.6"/></g>
<g fill="#e31a1c"><circle cx="177.4" cy="443.8" r="1.6"/></g>
<g fill="#663399"><circle cx="225.4" cy="420.9" r="1.6"/><circle cx="273.7" cy="382.5" r="1.6"/><circle cx="232.5" cy="448.7" r="1.6"/></g>
<g fill="#1f72b8"><circle cx="162.1" cy="407.1" r="1.6"/></g>
<g fill="#2ca02c"><circle cx="163.1" cy="403" r="1.6"/></g>
<g fill="#e31a1c"><circle cx="158.4" cy="439.1" r="1.6"/><circle cx="212.4" cy="412.2" r="1.6"/><circle cx="200.4" cy="403" r="1.6"/></g>
<g fill="#2ca02c"><circle cx="197.7" cy="395.1" r="1.6"/></g>
<g fill="#e31a1c"><circle cx="176.3" cy="395.4" r="1.6"/><circle cx="206.4" cy="398.6" r="1.6"/><circle cx="185.1" cy="436.8" r="1.6"/><circle cx="176.7" cy="425.9" r="1.6"/></g>
<g fill="#2ca02c"><circle cx="200" cy="414.8" r="1.6"/><circle cx="138.8" cy="420.9" r="1.6"/></g>
<g fill="#e31a1c"><circle cx="143.6" cy="466.6" r="1.6"/></g>
<g fill="#2ca02c"><circle cx="135.5" cy="443.6" r="1.6"/></g>
<g fill="#663399"><circle cx="201.9" cy="462.9" r="1.6"/></g>
<g fill="#e31a1c"><circle cx="154.5" cy="443" r="1.6"/></g>
<g fill="#2ca02c"><circle cx="184.1" cy="371.8" r="1.6"/></g>
<g fill="#e31a1c"><circle cx="270.9" cy="367.1" r="1.6"/><circle cx="217.1" cy="391.6" r="1.6"/></g>
<g fill="#663399"><circle cx="253.9" cy="431" r="1.6"/><circle cx="181.5" cy="439.9" r="1.6"/></g>
<g fill="#e31a1c"><circle cx="147.3" cy="443" r="1.6"/><circle cx="209.1" cy="414.4" r="1.6"/><circle cx="158.2" cy="433.9" r="1.6"/><circle cx="133.1" cy="442.9" r="1.6"/></g>
<g fill="#663399"><circle cx="227.7" cy="469.3" r="1.6"/></g>
<g fill="#e31a1c"><circle cx="227.3" cy="412.9" r="1.6"/></g>
<g fill="#663399"><circle cx="288.1" cy="372.7" r="1.6"/></g>
<g fill="#1f72b8"><circle cx="207.4" cy="385.1" r="1.6"/></g>
<g fill="#663399"><circle cx="240" cy="416.4" r="1.6"/><circle cx="248.5" cy="401.8" r="1.6"/></g>
<g fill="#e31a1c"><circle cx="163.6" cy="432.1" r="1.6"/></g>
<g fill="#2ca02c"><circle cx="196.4" cy="433.1" r="1.6"/></g>
<g fill="#e31a1c"><circle cx="195.6" cy="421.2" r="1.6"/><circle cx="230.4" cy="353.8" r="1.6"/><circle cx="214" cy="440.7" r="1.6"/><circle cx="166.9" cy="435.9" r="1.6"/></g>
<g fill="#663399"><circle cx="259.4" cy="373.6" r="1.6"/><circle cx="227.2" cy="379.2" r="1.6"/><circle cx="183.3" cy="463.6" r="1.6"/></g>
<g fill="#e31a1c"><circle cx="145.8" cy="450.6" r="1.6"/><circle cx="193.2" cy="422.5" r="1.6"/><circle cx="148.5" cy="464.6" r="1.6"/><circle cx="207.1" cy="434.5" r="1.6"/></g>
<g fill="#663399"><circle cx="210.4" cy="462.5" r="1.6"/><circle cx="305.1" cy="365.7" r="1.6"/></g>
<g fill="#e31a1c"><circle cx="209.8" cy="394.1" r="1.6"/><circle cx="226.7" cy="414.5" r="1.6"/></g>
<g fill="#663399"><circle cx="239.6" cy="419.1" r="1.6"/></g>
<g fill="#1f72b8"><circle cx="128.9" cy="400.3" r="1.6"/></g>
<g fill="#e31a1c"><circle cx="172.2" cy="406.5" r="1.6"/><circle cx="182.1" cy="386.3" r="1.6"/></g>
<g fill="#2ca02c"><circle cx="104.1" cy="433.9" r="1.6"/></g>
<g fill="#663399"><circle cx="248.6" cy="399" r="1.6"/></g>
<g fill="#e31a1c"><circle cx="228.5" cy="391" r="1.6"/></g>
<g fill="#663399"><circle cx="250" cy="437.1" r="1.6"/><circle cx="267.9" cy="353.4" r="1.6"/></g>
<g fill="#e31a1c"><circle cx="140.4" cy="428.2" r="1.6"/></g>
<g fill="#663399"><circle cx="180" cy="435.2" r="1.6"/></g>
<g fill="#e31a1c"><circle cx="213.6" cy="396.1" r="1.6"/><circle cx="246.7" cy="387.8" r="1.6"/></g>
<g fill="#663399"><circle cx="238.2" cy="394.7" r="1.6"/></g>
<g fill="#e31a1c"><circle cx="180.7" cy="411.4" r="1.6"/><circle cx="126.3" cy="455.1" r="1.6"/><circle cx="132.3" cy="477.9" r="1.6"/></g>
<g fill="#663399"><circle cx="204.7" cy="439.4" r="1.6"/><circle cx="181.8" cy="429.3" r="1.6"/><circle cx="273.5" cy="371.6" r="1.6"/></g>
<g fill="#e31a1c"><circle cx="209.8" cy="409" r="1.6"/><circle cx="211.2" cy="401.9" r="1.6"/></g>
<g fill="#663399"><circle cx="224.4" cy="427.6" r="1.6"/><circle cx="249.9" cy="406.2" r="1.6"/><circle cx="245.2" cy="415.4" r="1.6"/></g>
<g fill="#e31a1c"><circle cx="215.8" cy="433.4" r="1.6"/><circle cx="156.4" cy="460.3" r="1.6"/></g>
<g fill="#663399"><circle cx="260.1" cy="410.2" r="1.6"/></g>
<g fill="#2ca02c"><circle cx="119.3" cy="411.9" r="1.6"/></g>
<g fill="#663399"><circle cx="243.3" cy="429.2" r="1.6"/></g>
<g fill="#e31a1c"><circle cx="188" cy="383.8" r="1.6"/><circle cx="205.4" cy="386.5" r="1.6"/></g>
<g fill="#2ca02c"><circle cx="153.1" cy="415.1" r="1.6"/></g>
<g fill="#663399"><circle cx="229.7" cy="415.6" r="1.6"/></g>
<g fill="#e31a1c"><circle cx="193.9" cy="428.7" r="1.6"/><circle cx="220.1" cy="408.6" r="1.6"/><circle cx="175.1" cy="432.9" r="1.6"/></g>
<g fill="#663399"><circle cx="193.8" cy="466" r="1.6"/></g>
<g fill="#2ca02c"><circle cx="189.9" cy="418.5" r="1.6"/></g>
<g fill="#e31a1c"><circle cx="188.8" cy="394.2" r="1.6"/></g>
<g fill="#2ca02c"><circle cx="168.9" cy="399.2" r="1.6"/></g>
<g fill="#663399"><circle cx="202.7" cy="423.9" r="1.6"/><circle cx="175.2" cy="450.8" r="1.6"/></g>
<g fill="#e31a1c"><circle cx="171.2" cy="439.5" r="1.6"/><circle cx="182.8" cy="422.5" r="1.6"/><circle cx="168.8" cy="400.9" r="1.6"/><circle cx="163.5" cy="429.4" r="1.6"/><circle cx="200.6" cy="399.1" r="1.6"/></g>
<g fill="#663399"><circle cx="219.4" cy="442.2" r="1.6"/><circle cx="198.4" cy="467.8" r="1.6"/></g>
<g fill="#e31a1c"><circle cx="207.3" cy="449" r="1.6"/></g>
<g fill="#2ca02c"><circle cx="176.1" cy="447.8" r="1.6"/></g>
<g fill="#663399"><circle cx="200.2" cy="452.6" r="1.6"/><circle cx="235.4" cy="411.6" r="1.6"/></g>
<g fill="#2ca02c"><circle cx="170" cy="395.4" r="1.6"/></g>
<g fill="#663399"><circle cx="231.7" cy="380.5" r="1.6"/></g>
<g fill="#e31a1c"><circle cx="151.5" cy="456.5" r="1.6"/><circle cx="180.3" cy="407.4" r="1.6"/><circle cx="205.7" cy="396" r="1.6"/></g>
<g fill="#663399"><circle cx="240.4" cy="421.3" r="1.6"/></g>
<g fill="#e31a1c"><circle cx="137.1" cy="441.6" r="1.6"/></g>
<g fill="#663399"><circle cx="242.5" cy="452.8" r="1.6"/><circle cx="205.8" cy="431.7" r="1.6"/></g>
<g fill="#e31a1c"><circle cx="193.6" cy="429.4" r="1.6"/></g>
<g fill="#663399"><circle cx="201" cy="458.4" r="1.6"/></g>
<g fill="#2ca02c"><circle cx="211.5" cy="387.5" r="1.6"/></g>
<g fill="#663399"><circle cx="212.6" cy="442.7" r="1.6"/></g>
<g fill="#e31a1c"><circle cx="235.8" cy="417.8" r="1.6"/><circle cx="231.2" cy="387.2" r="1.6"/><circle cx="196.8" cy="399.7" r="1.6"/></g>
<g fill="#663399"><circle cx="193.4" cy="464.3" r="1.6"/></g>
<g fill="#e31a1c"><circle cx="158.3" cy="447" r="1.6"/></g>
<g fill="#663399"><circle cx="230.9" cy="414.5" r="1.6"/></g>
<g fill="#e31a1c"><circle cx="180" cy="410.1" r="1.6"/></g>
<g fill="#663399"><circle cx="259.6" cy="411.9" r="1.6"/></g>
<g fill="#e31a1c"><circle cx="166.9" cy="430.9" r="1.6"/></g>
<g fill="#663399"><circle cx="219.6" cy="492.6" r="1.6"/><circle cx="165.6" cy="470.8" r="1.6"/></g>
<g fill="#e31a1c"><circle cx="181.4" cy="399.4" r="1.6"/></g>
<g fill="#663399"><circle cx="266.6" cy="383.1" r="1.6"/></g>
<g fill="#e31a1c"><circle cx="217" cy="408.9" r="1.6"/></g>
<g fill="#663399"><circle cx="254" cy="448.1" r="1.6"/><circle cx="199.2" cy="454.7" r="1.6"/><circle cx="193.7" cy="455.8" r="1.6"/><circle cx="245" cy="404.3" r="1.6"/></g>
<g fill="#e31a1c"><circle cx="201.3" cy="399.8" r="1.6"/></g>
<g fill="#2ca02c"><circle cx="144.7" cy="391" r="1.6"/></g>
<g fill="#e31a1c"><circle cx="119.7" cy="453.7" r="1.6"/></g>
<g fill="#663399"><circle cx="156.1" cy="470.1" r="1.6"/></g>
<g fill="#2ca02c"><circle cx="137.9" cy="442.3" r="1.6"/></g>
<g fill="#663399"><circle cx="256.5" cy="425.1" r="1.6"/></g>
<g fill="#e31a1c"><circle cx="153.3" cy="448.1" r="1.6"/></g>
<g fill="#663399"><circle cx="191" cy="451" r="1.6"/></g>
<g fill="#e31a1c"><circle cx="184.4" cy="430.9" r="1.6"/></g>
<g fill="#663399"><circle cx="241.2" cy="441.1" r="1.6"/><circle cx="188.1" cy="457.7" r="1.6"/></g>
<g fill="#e31a1c"><circle cx="207.3" cy="409.6" r="1.6"/><circle cx="157.9" cy="470.5" r="1.6"/><circle cx="188.1" cy="402.6" r="1.6"/><circle cx="141.5" cy="432.5" r="1.6"/></g>
<g fill="#663399"><circle cx="204" cy="428.4" r="1.6"/></g>
<g fill="#2ca02c"><circle cx="218.5" cy="380.9" r="1.6"/></g>
<g fill="#663399"><circle cx="212.3" cy="411.8" r="1.6"/></g>
<g fill="#2ca02c"><circle cx="204.9" cy="407.5" r="1.6"/></g>
<g fill="#663399"><circle cx="237.6" cy="393.1" r="1.6"/><circle cx="186.8" cy="414.7" r="1.6"/><circle cx="227.2" cy="433.6" r="1.6"/></g>
<g fill="#e31a1c"><circle cx="221.3" cy="347.6" r="1.6"/></g>
<g fill="#663399"><circle cx="225.5" cy="427.1" r="1.6"/></g>
<g fill="#2ca02c"><circle cx="102.9" cy="417.7" r="1.6"/></g>
<g fill="#e31a1c"><circle cx="203.2" cy="394.6" r="1.6"/></g>
<g fill="#663399"><circle cx="200.9" cy="431.5" r="1.6"/></g>
<g fill="#1f72b8"><circle cx="171.1" cy="416.6" r="1.6"/></g>
<g fill="#e31a1c"><circle cx="164.1" cy="460.6" r="1.6"/><circle cx="144.7" cy="454.3" r="1.6"/><circle cx="174.5" cy="446.9" r="1.6"/><circle cx="210.5" cy="418.9" r="1.6"/></g>
<g fill="#663399"><circle cx="209.3" cy="451" r="1.6"/><circle cx="258.6" cy="349" r="1.6"/><circle cx="191.2" cy="411.7" r="1.6"/><circle cx="166.3" cy="441.7" r="1.6"/><circle cx="261.3" cy="385.5" r="1.6"/></g>
<g fill="#1f72b8"><circle cx="167.9" cy="348.6" r="1.6"/></g>
<g fill="#2ca02c"><circle cx="152.5" cy="437.6" r="1.6"/><circle cx="174.8" cy="393.1" r="1.6"/></g>
<g fill="#663399"><circle cx="285" cy="393.6" r="1.6"/><circle cx="209.9" cy="442.8" r="1.6"/></g>
<g fill="#e31a1c"><circle cx="173" cy="431.7" r="1.6"/><circle cx="203.3" cy="372.2" r="1.6"/><circle cx="227.3" cy="387.8" r="1.6"/><circle cx="122" cy="428.2" r="1.6"/><circle cx="152.7" cy="471.6" r="1.6"/><circle cx="191.8" cy="394" r="1.6"/><circle cx="220.9" cy="362.5" r="1.6"/><circle cx="212.2" cy="405.5" r="1.6"/><circle cx="123.2" cy="449.3" r="1.6"/><circle cx="199.1" cy="420.2" r="1.6"/><circle cx="192.9" cy="392.2" r="1.6"/></g>
<g fill="#2ca02c"><circle cx="136.9" cy="396.4" r="1.6"/></g>
<g fill="#e31a1c"><circle cx="185.5" cy="418.6" r="1.6"/><circle cx="231" cy="437.8" r="1.6"/></g>
<g fill="#663399"><circle cx="269" cy="385.4" r="1.6"/></g>
<g fill="#2ca02c"><circle cx="152.1" cy="452.4" r="1.6"/></g>
<g fill="#663399"><circle cx="224" cy="434.7" r="1.6"/><circle cx="141.3" cy="475.8" r="1.6"/><circle cx="257.9" cy="395.4" r="1.6"/><circle cx="205.9" cy="456.5" r="1.6"/></g>
<g fill="#e31a1c"><circle cx="193.9" cy="402.6" r="1.6"/><circle cx="160.5" cy="448.8" r="1.6"/><circle cx="211.6" cy="388.8" r="1.6"/></g>
<g fill="#663399"><circle cx="254.4" cy="425.8" r="1.6"/></g>
<g fill="#e31a1c"><circle cx="218.8" cy="384.8" r="1.6"/><circle cx="231.2" cy="419.9" r="1.6"/></g>
<g fill="#663399"><circle cx="202.6" cy="411.1" r="1.6"/><circle cx="229.2" cy="428" r="1.6"/><circle cx="161.2" cy="469.3" r="1.6"/></g>
<g fill="#e31a1c"><circle cx="209.3" cy="410.5" r="1.6"/><circle cx="212" cy="419.5" r="1.6"/></g>
<g fill="#2ca02c"><circle cx="158.8" cy="456.7" r="1.6"/></g>
<g fill="#e31a1c"><circle cx="170" cy="459.1" r="1.6"/></g>
<g fill="#2ca02c"><circle cx="137.2" cy="423.7" r="1.6"/></g>
<g fill="#663399"><circle cx="191.9" cy="474.6" r="1.6"/></g>
<g fill="#1f72b8"><circle cx="140.4" cy="383.8" r="1.6"/></g>
<g fill="#2ca02c"><circle cx="144.4" cy="411.6" r="1.6"/></g>
<g fill="#663399"><circle cx="205.1" cy="443" r="1.6"/></g>
<g fill="#e31a1c"><circle cx="147.9" cy="455.1" r="1.6"/><circle cx="206.8" cy="423.5" r="1.6"/></g>
<g fill="#2ca02c"><circle cx="188" cy="426.2" r="1.6"/></g>
<g fill="#663399"><circle cx="264.1" cy="400.4" r="1.6"/></g>
<g fill="#e31a1c"><circle cx="183.8" cy="451" r="1.6"/><circle cx="217.2" cy="392" r="1.6"/></g>
<g fill="#663399"><circle cx="202" cy="421.7" r="1.6"/></g>
<g fill="#e31a1c"><circle cx="194.8" cy="440.3" r="1.6"/></g>
<g fill="#663399"><circle cx="282.5" cy="343.7" r="1.6"/></g>
<g fill="#2ca02c"><circle cx="138.3" cy="446.7" r="1.6"/></g>
<g fill="#e31a1c"><circle cx="229.2" cy="397.3" r="1.6"/></g>
<g fill="#663399"><circle cx="263.3" cy="360.1" r="1.6"/><circle cx="238.3" cy="460.5" r="1.6"/><circle cx="176.1" cy="448.5" r="1.6"/><circle cx="196.2" cy="474.6" r="1.6"/><circle cx="218.8" cy="425.4" r="1.6"/></g>
<g fill="#2ca02c"><circle cx="139" cy="410.9" r="1.6"/></g>
<g fill="#663399"><circle cx="200.8" cy="460.5" r="1.6"/><circle cx="236" cy="447.2" r="1.6"/></g>
<g fill="#e31a1c"><circle cx="169.6" cy="407.4" r="1.6"/></g>
<g fill="#663399"><circle cx="247.3" cy="392.4" r="1.6"/><circle cx="233.2" cy="398.3" r="1.6"/><circle cx="255.4" cy="389.9" r="1.6"/><circle cx="272.6" cy="399.8" r="1.6"/><circle cx="220" cy="415.5" r="1.6"/></g>
<g fill="#e31a1c"><circle cx="182.3" cy="455.2" r="1.6"/></g>
<g fill="#663399"><circle cx="215.1" cy="454.8" r="1.6"/><circle cx="265.3" cy="421.9" r="1.6"/></g>
<g fill="#e31a1c"><circle cx="221.6" cy="424.9" r="1.6"/><circle cx="255.5" cy="372.3" r="1.6"/></g>
<g fill="#663399"><circle cx="203.6" cy="485.9" r="1.6"/><circle cx="241.3" cy="398.3" r="1.6"/></g>
<g fill="#e31a1c"><circle cx="196.9" cy="416.1" r="1.6"/></g>
<g fill="#663399"><circle cx="270.3" cy="368.7" r="1.6"/><circle cx="241.9" cy="420.5" r="1.6"/></g>
<g fill="#e31a1c"><circle cx="231.5" cy="407.6" r="1.6"/><circle cx="146" cy="468.7" r="1.6"/></g>
<g fill="#663399"><circle cx="236.8" cy="413.8" r="1.6"/><circle cx="164.1" cy="479.2" r="1.6"/><circle cx="264.8" cy="407.1" r="1.6"/></g>
<g fill="#2ca02c"><circle cx="205.6" cy="390" r="1.6"/></g>
<g fill="#e31a1c"><circle cx="198.4" cy="408.5" r="1.6"/></g>
<g fill="#663399"><circle cx="228.1" cy="439.6" r="1.6"/></g>
<g fill="#e31a1c"><circle cx="213.1" cy="430.3" r="1.6"/><circle cx="196.7" cy="405.4" r="1.6"/></g>
<g fill="#2ca02c"><circle cx="135.8" cy="394.5" r="1.6"/></g>
<g fill="#663399"><circle cx="170.3" cy="489.6" r="1.6"/></g>
<g fill="#e31a1c"><circle cx="211.5" cy="436.5" r="1.6"/></g>
<g fill="#663399"><circle cx="206.4" cy="488.2" r="1.6"/><circle cx="193" cy="446.7" r="1.6"/><circle cx="240.7" cy="395.9" r="1.6"/></g>
<g fill="#e31a1c"><circle cx="230.8" cy="419.5" r="1.6"/></g>
<g fill="#2ca02c"><circle cx="163.4" cy="446.3" r="1.6"/></g>
<g fill="#663399"><circle cx="230.3" cy="398.8" r="1.6"/></g>
<g fill="#e31a1c"><circle cx="150.9" cy="440.1" r="1.6"/><circle cx="152.7" cy="445.8" r="1.6"/><circle cx="243" cy="364.4" r="1.6"/></g>
<g fill="#663399"><circle cx="238.8" cy="441.8" r="1.6"/><circle cx="248.7" cy="432.1" r="1.6"/><circle cx="147.3" cy="453.6" r="1.6"/></g>
<g fill="#e31a1c"><circle cx="217.4" cy="447.9" r="1.6"/></g>
<g fill="#663399"><circle cx="241.2" cy="413.3" r="1.6"/><circle cx="251.8" cy="411.5" r="1.6"/></g>
<g fill="#e31a1c"><circle cx="124.5" cy="453.8" r="1.6"/><circle cx="185.9" cy="406.9" r="1.6"/><circle cx="179.6" cy="390.5" r="1.6"/></g>
<g fill="#663399"><circle cx="218.2" cy="451.5" r="1.6"/><circle cx="253.4" cy="410.9" r="1.6"/></g>
<g fill="#e31a1c"><circle cx="217.3" cy="403.8" r="1.6"/><circle cx="203" cy="439.3" r="1.6"/><circle cx="147.3" cy="441.2" r="1.6"/></g>
<g fill="#663399"><circle cx="208.8" cy="431.6" r="1.6"/></g>
<g fill="#2ca02c"><circle cx="108.8" cy="399.5" r="1.6"/></g>
<g fill="#663399"><circle cx="239.2" cy="440.2" r="1.6"/><circle cx="222.7" cy="462.4" r="1.6"/></g>
<g fill="#2ca02c"><circle cx="170.7" cy="407.2" r="1.6"/><circle cx="140.7" cy="435.7" r="1.6"/></g>
<g fill="#e31a1c"><circle cx="152.2" cy="422.6" r="1.6"/></g>
<g fill="#663399"><circle cx="221.6" cy="456.8" r="1.6"/><circle cx="234.2" cy="397.4" r="1.6"/><circle cx="220.4" cy="427.8" r="1.6"/></g>
<g fill="#2ca02c"><circle cx="142.2" cy="401.1" r="1.6"/></g>
<g fill="#1f72b8"><circle cx="148.2" cy="418.4" r="1.6"/></g>
<g fill="#663399"><circle cx="249.8" cy="375.1" r="1.6"/></g>
<g fill="#e31a1c"><circle cx="230.1" cy="373.8" r="1.6"/></g>
<g fill="#663399"><circle cx="248" cy="411.1" r="1.6"/><circle cx="227.8" cy="401.6" r="1.6"/></g>
<g fill="#e31a1c"><circle cx="88.2" cy="475.3" r="1.6"/></g>
<g fill="#2ca02c"><circle cx="153.1" cy="423.3" r="1.6"/></g>
<g fill="#663399"><circle cx="185.7" cy="484" r="1.6"/><circle cx="214.1" cy="416.9" r="1.6"/></g>
<g fill="#2ca02c"><circle cx="195.1" cy="430.2" r="1.6"/></g>
<g fill="#663399"><circle cx="289.4" cy="400.5" r="1.6"/></g>
<g fill="#2ca02c"><circle cx="206.3" cy="403.5" r="1.6"/></g>
<g fill="#e31a1c"><circle cx="173.8" cy="436.1" r="1.6"/><circle cx="140.2" cy="459" r="1.6"/><circle cx="185.3" cy="425.7" r="1.6"/></g>
<g fill="#663399"><circle cx="234.1" cy="425.9" r="1.6"/></g>
<g fill="#e31a1c"><circle cx="201.6" cy="421" r="1.6"/><circle cx="164.5" cy="470.5" r="1.6"/></g>
<g fill="#663399"><circle cx="188.5" cy="432.3" r="1.6"/><circle cx="184.3" cy="451.1" r="1.6"/></g>
<g fill="#e31a1c"><circle cx="156.3" cy="423.8" r="1.6"/></g>
<g fill="#663399"><circle cx="216.8" cy="415.3" r="1.6"/></g>
<g fill="#e31a1c"><circle cx="194.1" cy="410.4" r="1.6"/><circle cx="205.5" cy="435" r="1.6"/><circle cx="231.3" cy="385.7" r="1.6"/></g>
<g fill="#1f72b8"><circle cx="136.1" cy="416.8" r="1.6"/></g>
<g fill="#663399"><circle cx="217.6" cy="429" r="1.6"/></g>
<g fill="#e31a1c"><circle cx="159.3" cy="446.2" r="1.6"/></g>
<g fill="#663399"><circle cx="245.2" cy="386.8" r="1.6"/><circle cx="254.6" cy="382.8" r="1.6"/></g>
<g fill="#e31a1c"><circle cx="194.1" cy="415.8" r="1.6"/><circle cx="176.3" cy="419.8" r="1.6"/></g>
<g fill="#2ca02c"><circle cx="173.5" cy="376.1" r="1.6"/></g>
<g fill="#e31a1c"><circle cx="162.6" cy="452.4" r="1.6"/></g>
<g fill="#2ca02c"><circle cx="197.5" cy="388.2" r="1.6"/></g>
<g fill="#e31a1c"><circle cx="158.8" cy="454.9" r="1.6"/><circle cx="193.1" cy="410.9" r="1.6"/><circle cx="146.2" cy="445.3" r="1.6"/></g>
<g fill="#663399"><circle cx="265.2" cy="417.8" r="1.6"/></g>
<g fill="#2ca02c"><circle cx="145.6" cy="397.4" r="1.6"/></g>
<g fill="#e31a1c"><circle cx="207.2" cy="395.2" r="1.6"/><circle cx="168.4" cy="405.7" r="1.6"/></g>
<g fill="#663399"><circle cx="299.1" cy="372.1" r="1.6"/><circle cx="252" cy="375.5" r="1.6"/></g>
<g fill="#e31a1c"><circle cx="196.6" cy="422.2" r="1.6"/><circle cx="173.7" cy="413.3" r="1.6"/><circle cx="212.1" cy="387.8" r="1.6"/></g>
<g fill="#663399"><circle cx="276.5" cy="355.9" r="1.6"/></g>
<g fill="#e31a1c"><circle cx="209.5" cy="463.9" r="1.6"/></g>
<g fill="#663399"><circle cx="188.8" cy="429.3" r="1.6"/></g>
<g fill="#2ca02c"><circle cx="146.3" cy="461.4" r="1.6"/><circle cx="176.5" cy="327.9" r="1.6"/></g>
<g fill="#663399"><circle cx="222.9" cy="434" r="1.6"/></g>
<g fill="#e31a1c"><circle cx="173.8" cy="411.5" r="1.6"/></g>
<g fill="#663399"><circle cx="214.1" cy="428.5" r="1.6"/></g>
<g fill="#2ca02c"><circle cx="122.3" cy="415.6" r="1.6"/></g>
<g fill="#663399"><circle cx="234.6" cy="393.9" r="1.6"/><circle cx="256.4" cy="409.1" r="1.6"/></g>
<g fill="#e31a1c"><circle cx="202.6" cy="426.3" r="1.6"/><circle cx="199.4" cy="393.2" r="1.6"/><circle cx="197.7" cy="461.6" r="1.6"/></g>
<g fill="#663399"><circle cx="196" cy="401.5" r="1.6"/><circle cx="289.3" cy="382.2" r="1.6"/></g>
<g fill="#e31a1c"><circle cx="203.1" cy="386.8" r="1.6"/></g>
<g fill="#663399"><circle cx="210.9" cy="445.7" r="1.6"/></g>
<g fill="#e31a1c"><circle cx="189.7" cy="406.2" r="1.6"/></g>
<g fill="#663399"><circle cx="233.6" cy="424.8" r="1.6"/></g>
<g fill="#1f72b8"><circle cx="135.3" cy="430" r="1.6"/></g>
<g fill="#2ca02c"><circle cx="122.4" cy="415.7" r="1.6"/></g>
<g fill="#e31a1c"><circle cx="155" cy="461.2" r="1.6"/></g>
<g fill="#663399"><circle cx="275.4" cy="438.4" r="1.6"/></g>
<g fill="#2ca02c"><circle cx="106.1" cy="479.7" r="1.6"/></g>
<g fill="#e31a1c"><circle cx="175.6" cy="398.7" r="1.6"/></g>
<g fill="#663399"><circle cx="173.2" cy="446.9" r="1.6"/><circle cx="222.3" cy="459.9" r="1.6"/></g>
<g fill="#e31a1c"><circle cx="184.1" cy="394.4" r="1.6"/></g>
<g fill="#2ca02c"><circle cx="179.4" cy="376.2" r="1.6"/></g>
<g fill="#663399"><circle cx="206.3" cy="433.6" r="1.6"/><circle cx="184.9" cy="413.3" r="1.6"/><circle cx="158.1" cy="475.3" r="1.6"/></g>
<g fill="#e31a1c"><circle cx="148.3" cy="469.6" r="1.6"/></g>
<g fill="#663399"><circle cx="212.7" cy="440.2" r="1.6"/></g>
<g fill="#e31a1c"><circle cx="173.4" cy="429.6" r="1.6"/></g>
<g fill="#663399"><circle cx="195.6" cy="429.7" r="1.6"/></g>
<g fill="#2ca02c"><circle cx="184.9" cy="420.9" r="1.6"/></g>
<g fill="#663399"><circle cx="249.7" cy="439.4" r="1.6"/><circle cx="251.9" cy="420.8" r="1.6"/></g>
<g fill="#e31a1c"><circle cx="218.6" cy="389.5" r="1.6"/></g>
<g fill="#2ca02c"><circle cx="164.8" cy="435.5" r="1.6"/><circle cx="166.6" cy="400.8" r="1.6"/></g>
<g fill="#e31a1c"><circle cx="205.4" cy="397.4" r="1.6"/></g>
<g fill="#663399"><circle cx="211.6" cy="452.1" r="1.6"/></g>
<g fill="#e31a1c"><circle cx="185.4" cy="411.7" r="1.6"/><circle cx="215.3" cy="399.9" r="1.6"/></g>
<g fill="#663399"><circle cx="174.8" cy="426" r="1.6"/><circle cx="215.9" cy="430.5" r="1.6"/></g>
<g fill="#e31a1c"><circle cx="213.3" cy="410.9" r="1.6"/><circle cx="196.2" cy="466.7" r="1.6"/><circle cx="132.2" cy="470.9" r="1.6"/></g>
<g fill="#663399"><circle cx="252.9" cy="424.4" r="1.6"/></g>
<g fill="#e31a1c"><circle cx="135.1" cy="446" r="1.6"/></g>
<g fill="#663399"><circle cx="293" cy="370" r="1.6"/></g>
<g fill="#2ca02c"><circle cx="174.8" cy="410.7" r="1.6"/></g>
<g fill="#e31a1c"><circle cx="153.4" cy="448.8" r="1.6"/></g>
<g fill="#663399"><circle cx="250.9" cy="372.5" r="1.6"/><circle cx="211" cy="406.9" r="1.6"/><circle cx="223.1" cy="435.5" r="1.6"/></g>
<g fill="#e31a1c"><circle cx="133.9" cy="449.4" r="1.6"/></g>
<g fill="#663399"><circle cx="236.7" cy="409.7" r="1.6"/></g>
<g fill="#2ca02c"><circle cx="111.5" cy="420.9" r="1.6"/></g>
<g fill="#663399"><circle cx="245.1" cy="409.5" r="1.6"/></g>
<g fill="#e31a1c"><circle cx="150.3" cy="449.2" r="1.6"/><circle cx="127.7" cy="449.3" r="1.6"/><circle cx="177.2" cy="435.3" r="1.6"/></g>
<g fill="#2ca02c"><circle cx="192.7" cy="431.5" r="1.6"/></g>
<g fill="#663399"><circle cx="238.4" cy="429.9" r="1.6"/></g>
<g fill="#e31a1c"><circle cx="223.5" cy="424.5" r="1.6"/><circle cx="236.3" cy="406.9" r="1.6"/></g>
<g fill="#663399"><circle cx="190.9" cy="458.4" r="1.6"/><circle cx="213.5" cy="418.7" r="1.6"/></g>
<g fill="#2ca02c"><circle cx="135.6" cy="461.7" r="1.6"/></g>
<g fill="#663399"><circle cx="184.6" cy="484.8" r="1.6"/><circle cx="181.8" cy="442" r="1.6"/><circle cx="254.8" cy="399.9" r="1.6"/></g>
<g fill="#e31a1c"><circle cx="164.1" cy="431.7" r="1.6"/></g>
<g fill="#663399"><circle cx="192.3" cy="440.3" r="1.6"/><circle cx="242.4" cy="399.3" r="1.6"/></g>
<g fill="#e31a1c"><circle cx="186.2" cy="539.6" r="1.6"/></g>
<g fill="#663399"><circle cx="245.2" cy="406.2" r="1.6"/></g>
<g fill="#e31a1c"><circle cx="137.9" cy="469.6" r="1.6"/></g>
<g fill="#663399"><circle cx="163.3" cy="482.4" r="1.6"/><circle cx="224.4" cy="391.4" r="1.6"/></g>
<g fill="#e31a1c"><circle cx="178.2" cy="449.4" r="1.6"/><circle cx="177.6" cy="415" r="1.6"/></g>
<g fill="#663399"><circle cx="234" cy="407.5" r="1.6"/></g>
<g fill="#e31a1c"><circle cx="93.6" cy="475.3" r="1.6"/></g>
<g fill="#663399"><circle cx="201.2" cy="467.4" r="1.6"/></g>
<g fill="#e31a1c"><circle cx="133.9" cy="454.8" r="1.6"/><circle cx="127.5" cy="450.1" r="1.6"/></g>
<g fill="#663399"><circle cx="217.3" cy="392.3" r="1.6"/></g>
<g fill="#2ca02c"><circle cx="176.9" cy="411.2" r="1.6"/></g>
<g fill="#e31a1c"><circle cx="226.6" cy="380.8" r="1.6"/></g>
<g fill="#2ca02c"><circle cx="153.3" cy="414.4" r="1.6"/></g>
<g fill="#e31a1c"><circle cx="158.9" cy="439.6" r="1.6"/></g>
<g fill="#2ca02c"><circle cx="179.8" cy="447.4" r="1.6"/></g>
<g fill="#663399"><circle cx="285.7" cy="420.5" r="1.6"/></g>
<g fill="#e31a1c"><circle cx="174.6" cy="429.4" r="1.6"/></g>
<g fill="#663399"><circle cx="239.2" cy="424.3" r="1.6"/><circle cx="195.9" cy="433.7" r="1.6"/></g>
<g fill="#e31a1c"><circle cx="200.1" cy="428.9" r="1.6"/></g>
<g fill="#663399"><circle cx="193.1" cy="434" r="1.6"/><circle cx="210.1" cy="448.4" r="1.6"/><circle cx="194.4" cy="436.1" r="1.6"/></g>
<g fill="#1f72b8"><circle cx="124.5" cy="392.8" r="1.6"/></g>
<g fill="#e31a1c"><circle cx="211.4" cy="392.8" r="1.6"/></g>
<g fill="#663399"><circle cx="262.2" cy="358.9" r="1.6"/></g>
<g fill="#e31a1c"><circle cx="157.9" cy="428.3" r="1.6"/><circle cx="188.4" cy="385.3" r="1.6"/></g>
<g fill="#2ca02c"><circle cx="102.4" cy="465.3" r="1.6"/></g>
<g fill="#e31a1c"><circle cx="215.2" cy="453.6" r="1.6"/></g>
<g fill="#2ca02c"><circle cx="155.8" cy="376.7" r="1.6"/></g>
<g fill="#e31a1c"><circle cx="189.1" cy="406.7" r="1.6"/></g>
<g fill="#663399"><circle cx="187.2" cy="387.3" r="1.6"/></g>
<g fill="#e31a1c"><circle cx="187.7" cy="418.2" r="1.6"/></g>
<g fill="#2ca02c"><circle cx="135.7" cy="386.3" r="1.6"/></g>
<g fill="#e31a1c"><circle cx="196.4" cy="440.6" r="1.6"/></g>
<g fill="#2ca02c"><circle cx="156.7" cy="396.1" r="1.6"/></g>
<g fill="#e31a1c"><circle cx="198.7" cy="391.6" r="1.6"/><circle cx="247.1" cy="357.1" r="1.6"/></g>
<g fill="#663399"><circle cx="236.9" cy="380.4" r="1.6"/></g>
<g fill="#e31a1c"><circle cx="184.2" cy="423.9" r="1.6"/><circle cx="213.9" cy="415.6" r="1.6"/></g>
<g fill="#663399"><circle cx="233.8" cy="409.8" r="1.6"/><circle cx="216.8" cy="425.1" r="1.6"/><circle cx="221.8" cy="375.5" r="1.6"/><circle cx="226.5" cy="400.5" r="1.6"/><circle cx="300.9" cy="372.7" r="1.6"/></g>
<g fill="#e31a1c"><circle cx="183.3" cy="436.9" r="1.6"/><circle cx="212.9" cy="414.6" r="1.6"/></g>
<g fill="#1f72b8"><circle cx="104.3" cy="415.5" r="1.6"/></g>
<g fill="#663399"><circle cx="225.3" cy="469.8" r="1.6"/></g>
<g fill="#2ca02c"><circle cx="117.1" cy="434" r="1.6"/><circle cx="199.4" cy="407.8" r="1.6"/></g>
<g fill="#e31a1c"><circle cx="121.8" cy="440.3" r="1.6"/><circle cx="214.9" cy="432.3" r="1.6"/><circle cx="208.2" cy="398.8" r="1.6"/></g>
<g fill="#663399"><circle cx="196.4" cy="456.9" r="1.6"/><circle cx="197.5" cy="438.1" r="1.6"/><circle cx="240" cy="387.7" r="1.6"/></g>
<g fill="#e31a1c"><circle cx="244.5" cy="385.7" r="1.6"/><circle cx="252.5" cy="394.5" r="1.6"/></g>
<g fill="#663399"><circle cx="256.4" cy="423.4" r="1.6"/><circle cx="233.7" cy="440.4" r="1.6"/></g>
<g fill="#e31a1c"><circle cx="232.7" cy="417" r="1.6"/><circle cx="180.7" cy="426.8" r="1.6"/><circle cx="220.6" cy="361.1" r="1.6"/></g>
<g fill="#663399"><circle cx="171.7" cy="475.6" r="1.6"/></g>
<g fill="#e31a1c"><circle cx="181.3" cy="407.8" r="1.6"/><circle cx="147.4" cy="464.3" r="1.6"/></g>
<g fill="#2ca02c"><circle cx="193.5" cy="395.7" r="1.6"/></g>
<g fill="#e31a1c"><circle cx="192.2" cy="424.5" r="1.6"/></g>
<g fill="#663399"><circle cx="227.5" cy="444.4" r="1.6"/><circle cx="228.5" cy="424.8" r="1.6"/></g>
<g fill="#e31a1c"><circle cx="166.6" cy="419.5" r="1.6"/></g>
<g fill="#663399"><circle cx="276.9" cy="391.9" r="1.6"/></g>
<g fill="#e31a1c"><circle cx="208.2" cy="431.5" r="1.6"/><circle cx="170.4" cy="450.7" r="1.6"/></g>
<g fill="#1f72b8"><circle cx="159.1" cy="419.9" r="1.6"/></g>
<g fill="#2ca02c"><circle cx="216.8" cy="346.9" r="1.6"/></g>
<g fill="#663399"><circle cx="256.7" cy="390.2" r="1.6"/></g>
<g fill="#e31a1c"><circle cx="209.1" cy="356.5" r="1.6"/><circle cx="186.6" cy="397.4" r="1.6"/><circle cx="197.4" cy="431" r="1.6"/></g>
<g fill="#2ca02c"><circle cx="126.1" cy="388" r="1.6"/></g>
<g fill="#e31a1c"><circle cx="202" cy="404.1" r="1.6"/><circle cx="154.4" cy="400.3" r="1.6"/></g>
<g fill="#663399"><circle cx="261.5" cy="396.8" r="1.6"/></g>
<g fill="#2ca02c"><circle cx="136.8" cy="447.8" r="1.6"/></g>
<g fill="#e31a1c"><circle cx="130.8" cy="460.1" r="1.6"/></g>
<g fill="#2ca02c"><circle cx="100.9" cy="430.3" r="1.6"/></g>
<g fill="#e31a1c"><circle cx="165.7" cy="424.7" r="1.6"/><circle cx="144.4" cy="400.2" r="1.6"/><circle cx="184.5" cy="407.1" r="1.6"/><circle cx="125" cy="469" r="1.6"/></g>
<g fill="#663399"><circle cx="187.6" cy="440.8" r="1.6"/><circle cx="219.2" cy="422" r="1.6"/><circle cx="286.2" cy="363.1" r="1.6"/><circle cx="207.1" cy="386.5" r="1.6"/></g>
<g fill="#e31a1c"><circle cx="234.2" cy="406.1" r="1.6"/></g>
<g fill="#663399"><circle cx="227.2" cy="392.8" r="1.6"/><circle cx="262.4" cy="426.2" r="1.6"/></g>
<g fill="#e31a1c"><circle cx="158.2" cy="425.5" r="1.6"/><circle cx="186.3" cy="403.3" r="1.6"/></g>
<g fill="#2ca02c"><circle cx="154.1" cy="412.7" r="1.6"/></g>
<g fill="#663399"><circle cx="179.8" cy="461.8" r="1.6"/><circle cx="250.2" cy="397.7" r="1.6"/></g>
<g fill="#e31a1c"><circle cx="207.1" cy="394.9" r="1.6"/><circle cx="154.4" cy="428.9" r="1.6"/><circle cx="230.5" cy="371.8" r="1.6"/></g>
<g fill="#663399"><circle cx="207" cy="442.4" r="1.6"/></g>
<g fill="#2ca02c"><circle cx="152.3" cy="439.8" r="1.6"/></g>
<g fill="#663399"><circle cx="215.2" cy="440.4" r="1.6"/></g>
<g fill="#1f72b8"><circle cx="148.5" cy="436" r="1.6"/></g>
<g fill="#663399"><circle cx="191.5" cy="420.9" r="1.6"/><circle cx="222.2" cy="403.9" r="1.6"/><circle cx="252.7" cy="388.4" r="1.6"/></g>
<g fill="#e31a1c"><circle cx="238.7" cy="411.4" r="1.6"/></g>
<g fill="#663399"><circle cx="195" cy="434" r="1.6"/><circle cx="241" cy="390.6" r="1.6"/></g>
<g fill="#2ca02c"><circle cx="177.5" cy="417.3" r="1.6"/></g>
<g fill="#663399"><circle cx="232.3" cy="426.1" r="1.6"/></g>
<g fill="#e31a1c"><circle cx="192.7" cy="435" r="1.6"/></g>
<g fill="#663399"><circle cx="244.7" cy="426.3" r="1.6"/></g>
<g fill="#e31a1c"><circle cx="196.9" cy="416.4" r="1.6"/></g>
<g fill="#1f72b8"><circle cx="185.3" cy="402.9" r="1.6"/></g>
<g fill="#2ca02c"><circle cx="112.4" cy="473.6" r="1.6"/></g>
<g fill="#e31a1c"><circle cx="176.4" cy="406" r="1.6"/><circle cx="161.3" cy="423.7" r="1.6"/><circle cx="165.9" cy="453.9" r="1.6"/></g>
<g fill="#663399"><circle cx="271.7" cy="380.8" r="1.6"/><circle cx="256.8" cy="410" r="1.6"/><circle cx="286.8" cy="396.2" r="1.6"/></g>
<g fill="#e31a1c"><circle cx="174.5" cy="449.8" r="1.6"/></g>
<g fill="#1f72b8"><circle cx="141.4" cy="410.5" r="1.6"/></g>
<g fill="#663399"><circle cx="183.7" cy="459.8" r="1.6"/><circle cx="262.3" cy="426.6" r="1.6"/></g>
<g fill="#e31a1c"><circle cx="160.7" cy="446.6" r="1.6"/><circle cx="159.6" cy="424.7" r="1.6"/></g>
<g fill="#663399"><circle cx="229.9" cy="389.2" r="1.6"/><circle cx="213.4" cy="389.7" r="1.6"/><circle cx="255.9" cy="421.9" r="1.6"/><circle cx="302" cy="393.3" r="1.6"/><circle cx="246.8" cy="424.7" r="1.6"/></g>
<g fill="#2ca02c"><circle cx="146.1" cy="419.6" r="1.6"/></g>
<g fill="#e31a1c"><circle cx="246.2" cy="414.8" r="1.6"/><circle cx="117.4" cy="449.5" r="1.6"/></g>
<g fill="#663399"><circle cx="212.6" cy="441" r="1.6"/></g>
<g fill="#e31a1c"><circle cx="231.9" cy="424.4" r="1.6"/><circle cx="127.8" cy="458.7" r="1.6"/></g>
<g fill="#663399"><circle cx="254.8" cy="417.1" r="1.6"/><circle cx="241.2" cy="461.6" r="1.6"/></g>
<g fill="#2ca02c"><circle cx="110.3" cy="430" r="1.6"/></g>
<g fill="#e31a1c"><circle cx="178.3" cy="393.5" r="1.6"/><circle cx="224.1" cy="391.2" r="1.6"/></g>
<g fill="#2ca02c"><circle cx="160.2" cy="408.3" r="1.6"/></g>
<g fill="#e31a1c"><circle cx="140.4" cy="463" r="1.6"/></g>
<g fill="#663399"><circle cx="254.4" cy="427.8" r="1.6"/></g>
<g fill="#e31a1c"><circle cx="170.6" cy="422" r="1.6"/></g>
<g fill="#1f72b8"><circle cx="142.2" cy="401.9" r="1.6"/></g>
<g fill="#e31a1c"><circle cx="186.6" cy="401.7" r="1.6"/><circle cx="157.4" cy="453.4" r="1.6"/><circle cx="150.8" cy="454" r="1.6"/></g>
<g fill="#663399"><circle cx="205.2" cy="470.7" r="1.6"/></g>
<g fill="#e31a1c"><circle cx="128" cy="456.7" r="1.6"/></g>
<g fill="#663399"><circle cx="231.9" cy="416.3" r="1.6"/></g>
<g fill="#e31a1c"><circle cx="271.9" cy="364" r="1.6"/><circle cx="144.4" cy="431.9" r="1.6"/></g>
<g fill="#663399"><circle cx="174.5" cy="472.4" r="1.6"/><circle cx="202.8" cy="437.2" r="1.6"/><circle cx="243.3" cy="419" r="1.6"/><circle cx="222.9" cy="415.3" r="1.6"/></g>
<g fill="#e31a1c"><circle cx="151.5" cy="467.9" r="1.6"/><circle cx="203" cy="417.5" r="1.6"/></g>
<g fill="#663399"><circle cx="206.5" cy="427.9" r="1.6"/></g>
<g fill="#e31a1c"><circle cx="179" cy="395.8" r="1.6"/><circle cx="197.5" cy="406.2" r="1.6"/><circle cx="221.4" cy="393.6" r="1.6"/></g>
<g fill="#1f72b8"><circle cx="134" cy="425.3" r="1.6"/></g>
<g fill="#663399"><circle cx="206.9" cy="441.7" r="1.6"/></g>
<g fill="#e31a1c"><circle cx="163.7" cy="424.8" r="1.6"/></g>
<g fill="#2ca02c"><circle cx="119.1" cy="444.5" r="1.6"/><circle cx="158.9" cy="404.2" r="1.6"/><circle cx="143.4" cy="437.1" r="1.6"/></g>
<g fill="#e31a1c"><circle cx="204.9" cy="429" r="1.6"/></g>
<g fill="#2ca02c"><circle cx="179.9" cy="379.6" r="1.6"/></g>
<g fill="#663399"><circle cx="213.1" cy="479.2" r="1.6"/><circle cx="232.4" cy="436.7" r="1.6"/><circle cx="289.5" cy="374.4" r="1.6"/></g>
<g fill="#e31a1c"><circle cx="208.5" cy="394.9" r="1.6"/></g>
<g fill="#1f72b8"><circle cx="204.8" cy="407.1" r="1.6"/></g>
<g fill="#e31a1c"><circle cx="174.8" cy="398.6" r="1.6"/><circle cx="205.2" cy="405.7" r="1.6"/></g>
<g fill="#663399"><circle cx="254.3" cy="408.7" r="1.6"/><circle cx="215.9" cy="415.9" r="1.6"/><circle cx="224.7" cy="402.3" r="1.6"/><circle cx="261.1" cy="392.2" r="1.6"/><circle cx="233.1" cy="401.6" r="1.6"/><circle cx="238.6" cy="423" r="1.6"/></g>
<g fill="#e31a1c"><circle cx="211.4" cy="391.9" r="1.6"/></g>
<g fill="#663399"><circle cx="261.6" cy="367" r="1.6"/><circle cx="251.8" cy="417" r="1.6"/><circle cx="184.9" cy="442.8" r="1.6"/><circle cx="173.5" cy="418.9" r="1.6"/></g>
<g fill="#2ca02c"><circle cx="145" cy="425.4" r="1.6"/></g>
<g fill="#e31a1c"><circle cx="186" cy="404.2" r="1.6"/></g>
<g fill="#663399"><circle cx="192.9" cy="440.8" r="1.6"/></g>
<g fill="#e31a1c"><circle cx="149.1" cy="456.9" r="1.6"/><circle cx="193.9" cy="397.6" r="1.6"/></g>
<g fill="#663399"><circle cx="207.5" cy="455.2" r="1.6"/><circle cx="193.9" cy="414.1" r="1.6"/><circle cx="224.1" cy="430.8" r="1.6"/><circle cx="185.8" cy="426.7" r="1.6"/></g>
<g fill="#1f72b8"><circle cx="122.4" cy="411.5" r="1.6"/></g>
<g fill="#663399"><circle cx="259.4" cy="385.1" r="1.6"/></g>
<g fill="#1f72b8"><circle cx="123.9" cy="433.9" r="1.6"/></g>
<g fill="#663399"><circle cx="190.2" cy="470.7" r="1.6"/></g>
<g fill="#e31a1c"><circle cx="164.7" cy="433.7" r="1.6"/></g>
<g fill="#663399"><circle cx="212.6" cy="431.5" r="1.6"/></g>
<g fill="#e31a1c"><circle cx="169.4" cy="471.1" r="1.6"/><circle cx="202.8" cy="407.6" r="1.6"/><circle cx="206.1" cy="375.1" r="1.6"/></g>
<g fill="#663399"><circle cx="227.5" cy="418.5" r="1.6"/><circle cx="253.5" cy="357.4" r="1.6"/></g>
<g fill="#1f72b8"><circle cx="142.8" cy="401.5" r="1.6"/><circle cx="160.5" cy="425.1" r="1.6"/></g>
<g fill="#2ca02c"><circle cx="142.4" cy="396.6" r="1.6"/></g>
<g fill="#e31a1c"><circle cx="165.8" cy="443.3" r="1.6"/></g>
<g fill="#663399"><circle cx="221.2" cy="381" r="1.6"/><circle cx="264.7" cy="405" r="1.6"/></g>
<g fill="#e31a1c"><circle cx="206.2" cy="412.7" r="1.6"/></g>
<g fill="#663399"><circle cx="186.9" cy="448.4" r="1.6"/><circle cx="191.6" cy="471.4" r="1.6"/><circle cx="177.2" cy="439.7" r="1.6"/><circle cx="197.2" cy="443.5" r="1.6"/><circle cx="224.8" cy="442.7" r="1.6"/><circle cx="195" cy="458.2" r="1.6"/></g>
<g fill="#e31a1c"><circle cx="210.6" cy="454.3" r="1.6"/></g>
<g fill="#663399"><circle cx="264.6" cy="398.1" r="1.6"/></g>
<g fill="#e31a1c"><circle cx="178.1" cy="428" r="1.6"/><circle cx="187.8" cy="444.1" r="1.6"/></g>
<g fill="#2ca02c"><circle cx="173" cy="362.6" r="1.6"/></g>
<g fill="#663399"><circle cx="226.4" cy="403.6" r="1.6"/></g>
<g fill="#e31a1c"><circle cx="200.2" cy="424.2" r="1.6"/><circle cx="221.3" cy="412.5" r="1.6"/></g>
<g fill="#663399"><circle cx="156.8" cy="467.5" r="1.6"/></g>
<g fill="#e31a1c"><circle cx="146.7" cy="432.2" r="1.6"/></g>
<g fill="#663399"><circle cx="212.9" cy="416.3" r="1.6"/></g>
<g fill="#2ca02c"><circle cx="144.1" cy="337.8" r="1.6"/></g>
<g fill="#e31a1c"><circle cx="176.6" cy="446.1" r="1.6"/><circle cx="134.9" cy="454.6" r="1.6"/><circle cx="178.6" cy="444.8" r="1.6"/></g>
<g fill="#663399"><circle cx="244" cy="417.4" r="1.6"/><circle cx="215.6" cy="448.6" r="1.6"/></g>
<g fill="#e31a1c"><circle cx="154.5" cy="429" r="1.6"/></g>
<g fill="#663399"><circle cx="196.5" cy="462" r="1.6"/></g>
<g fill="#e31a1c"><circle cx="179.9" cy="410.4" r="1.6"/><circle cx="169.6" cy="441.2" r="1.6"/></g>
<g fill="#663399"><circle cx="208.2" cy="416.2" r="1.6"/></g>
<g fill="#e31a1c"><circle cx="209.4" cy="422.2" r="1.6"/><circle cx="171.5" cy="454.3" r="1.6"/><circle cx="158.6" cy="459.6" r="1.6"/><circle cx="235.9" cy="399.3" r="1.6"/></g>
<g fill="#663399"><circle cx="218" cy="463.5" r="1.6"/></g>
<g fill="#e31a1c"><circle cx="211.5" cy="404.7" r="1.6"/></g>
<g fill="#663399"><circle cx="197.7" cy="452.6" r="1.6"/></g>
<g fill="#1f72b8"><circle cx="111.2" cy="400" r="1.6"/><circle cx="142.4" cy="398.9" r="1.6"/></g>
<g fill="#663399"><circle cx="190.7" cy="434.7" r="1.6"/></g>
<g fill="#e31a1c"><circle cx="195.6" cy="409.4" r="1.6"/></g>
<g fill="#663399"><circle cx="221.8" cy="433.4" r="1.6"/><circle cx="227.6" cy="439.2" r="1.6"/><circle cx="213.7" cy="418.7" r="1.6"/><circle cx="276.5" cy="383" r="1.6"/><circle cx="176.7" cy="481.2" r="1.6"/></g>
<g fill="#2ca02c"><circle cx="172.3" cy="412.9" r="1.6"/></g>
<g fill="#e31a1c"><circle cx="216.1" cy="392.9" r="1.6"/><circle cx="179" cy="431.2" r="1.6"/></g>
<g fill="#663399"><circle cx="239.1" cy="430.8" r="1.6"/></g>
<g fill="#2ca02c"><circle cx="186.3" cy="363.3" r="1.6"/></g>
<g fill="#e31a1c"><circle cx="142.5" cy="439" r="1.6"/><circle cx="167.7" cy="447.3" r="1.6"/></g>
<g fill="#663399"><circle cx="206.2" cy="431.8" r="1.6"/><circle cx="203.4" cy="424.4" r="1.6"/></g>
<g fill="#e31a1c"><circle cx="181" cy="411.5" r="1.6"/></g>
<g fill="#1f72b8"><circle cx="145.6" cy="406" r="1.6"/></g>
<g fill="#e31a1c"><circle cx="198.9" cy="433.8" r="1.6"/></g>
<g fill="#663399"><circle cx="180.6" cy="474.2" r="1.6"/><circle cx="177.3" cy="431.4" r="1.6"/><circle cx="231.6" cy="425.6" r="1.6"/><circle cx="247.4" cy="386.6" r="1.6"/></g>
<g fill="#e31a1c"><circle cx="166" cy="484.2" r="1.6"/></g>
<g fill="#663399"><circle cx="188" cy="463" r="1.6"/></g>
<g fill="#2ca02c"><circle cx="178.6" cy="430.2" r="1.6"/></g>
<g fill="#663399"><circle cx="161.9" cy="466.6" r="1.6"/><circle cx="252.4" cy="390.9" r="1.6"/></g>
<g fill="#e31a1c"><circle cx="176.1" cy="414.6" r="1.6"/><circle cx="214.9" cy="379" r="1.6"/></g>
<g fill="#2ca02c"><circle cx="128.8" cy="426.7" r="1.6"/><circle cx="148" cy="424.6" r="1.6"/></g>
<g fill="#e31a1c"><circle cx="222.8" cy="407.5" r="1.6"/></g>
<g fill="#663399"><circle cx="153.5" cy="442.7" r="1.6"/></g>
<g fill="#e31a1c"><circle cx="167.8" cy="457.3" r="1.6"/><circle cx="188.2" cy="392.4" r="1.6"/></g>
<g fill="#2ca02c"><circle cx="174.4" cy="380.3" r="1.6"/><circle cx="211.1" cy="425" r="1.6"/></g>
<g fill="#663399"><circle cx="261.7" cy="387.3" r="1.6"/></g>
<g fill="#e31a1c"><circle cx="196.2" cy="402.7" r="1.6"/><circle cx="216.4" cy="416.2" r="1.6"/><circle cx="197.6" cy="424.3" r="1.6"/><circle cx="253.5" cy="362.2" r="1.6"/><circle cx="186.2" cy="468.9" r="1.6"/></g>
<g fill="#663399"><circle cx="233.6" cy="444.4" r="1.6"/></g>
<g fill="#e31a1c"><circle cx="158.6" cy="439.4" r="1.6"/><circle cx="102.4" cy="473.7" r="1.6"/><circle cx="170.3" cy="452.5" r="1.6"/><circle cx="215.4" cy="418.4" r="1.6"/></g>
<g fill="#663399"><circle cx="225.6" cy="422.4" r="1.6"/><circle cx="264.8" cy="421.1" r="1.6"/></g>
<g fill="#2ca02c"><circle cx="119.4" cy="394.7" r="1.6"/></g>
<g fill="#663399"><circle cx="221" cy="430.5" r="1.6"/><circle cx="254" cy="427.9" r="1.6"/></g>
<g fill="#e31a1c"><circle cx="204.9" cy="417.1" r="1.6"/></g>
<g fill="#1f72b8"><circle cx="130.3" cy="433.2" r="1.6"/></g>
<g fill="#e31a1c"><circle cx="215.7" cy="424.5" r="1.6"/></g>
<g fill="#663399"><circle cx="192.7" cy="430.3" r="1.6"/></g>
<g fill="#e31a1c"><circle cx="186.3" cy="389.3" r="1.6"/><circle cx="174.2" cy="427.7" r="1.6"/></g>
<g fill="#663399"><circle cx="200.6" cy="410.2" r="1.6"/><circle cx="255.7" cy="424.4" r="1.6"/></g>
<g fill="#e31a1c"><circle cx="164.1" cy="428.2" r="1.6"/></g>
<g fill="#2ca02c"><circle cx="200.3" cy="387.2" r="1.6"/></g>
<g fill="#e31a1c"><circle cx="190.6" cy="435.1" r="1.6"/></g>
<g fill="#1f72b8"><circle cx="121.5" cy="390.2" r="1.6"/></g>
<g fill="#e31a1c"><circle cx="188.9" cy="416.1" r="1.6"/></g>
<g fill="#663399"><circle cx="261.5" cy="408.7" r="1.6"/></g>
<g fill="#2ca02c"><circle cx="170.2" cy="395" r="1.6"/></g>
<g fill="#e31a1c"><circle cx="154.8" cy="423.7" r="1.6"/></g>
<g fill="#663399"><circle cx="218.6" cy="459.1" r="1.6"/></g>
<g fill="#e31a1c"><circle cx="163.7" cy="445.7" r="1.6"/></g>
<g fill="#2ca02c"><circle cx="105.3" cy="411.9" r="1.6"/></g>
<g fill="#e31a1c"><circle cx="152.1" cy="443.2" r="1.6"/></g>
<g fill="#663399"><circle cx="156.8" cy="471.7" r="1.6"/><circle cx="223" cy="456" r="1.6"/></g>
<g fill="#e31a1c"><circle cx="198.7" cy="426.1" r="1.6"/><circle cx="188.7" cy="445.9" r="1.6"/></g>
<g fill="#663399"><circle cx="225.4" cy="406.3" r="1.6"/></g>
<g fill="#e31a1c"><circle cx="191.1" cy="444.1" r="1.6"/><circle cx="181.5" cy="408.5" r="1.6"/></g>
<g fill="#663399"><circle cx="260.8" cy="417.5" r="1.6"/><circle cx="309.1" cy="335" r="1.6"/></g>
<g fill="#2ca02c"><circle cx="149" cy="459.5" r="1.6"/></g>
<g fill="#663399"><circle cx="230.3" cy="417.5" r="1.6"/></g>
<g fill="#e31a1c"><circle cx="183.8" cy="428.1" r="1.6"/></g>
<g fill="#663399"><circle cx="193.9" cy="410.6" r="1.6"/></g>
<g fill="#e31a1c"><circle cx="152.3" cy="447.3" r="1.6"/><circle cx="150.9" cy="469.9" r="1.6"/></g>
<g fill="#2ca02c"><circle cx="161.2" cy="371.9" r="1.6"/></g>
<g fill="#663399"><circle cx="222.3" cy="507.5" r="1.6"/><circle cx="169.4" cy="424.8" r="1.6"/></g>
<g fill="#e31a1c"><circle cx="110.8" cy="472.3" r="1.6"/><circle cx="238.4" cy="399.5" r="1.6"/></g>
<g fill="#2ca02c"><circle cx="112.2" cy="462.3" r="1.6"/></g>
<g fill="#e31a1c"><circle cx="248.6" cy="378.2" r="1.6"/><circle cx="271.3" cy="365.8" r="1.6"/></g>
<g fill="#2ca02c"><circle cx="164.2" cy="376.4" r="1.6"/></g>
<g fill="#663399"><circle cx="208.3" cy="462" r="1.6"/><circle cx="217.8" cy="404.8" r="1.6"/></g>
<g fill="#e31a1c"><circle cx="165.6" cy="412.7" r="1.6"/></g>
<g fill="#663399"><circle cx="238.8" cy="384.5" r="1.6"/></g>
<g fill="#e31a1c"><circle cx="193.5" cy="395" r="1.6"/><circle cx="170.9" cy="409.6" r="1.6"/><circle cx="173.3" cy="431.3" r="1.6"/><circle cx="198.1" cy="406.8" r="1.6"/></g>
<g fill="#663399"><circle cx="251.3" cy="446.3" r="1.6"/></g>
<g fill="#2ca02c"><circle cx="215.8" cy="385.6" r="1.6"/></g>
<g fill="#e31a1c"><circle cx="176.3" cy="426.3" r="1.6"/><circle cx="159" cy="382.2" r="1.6"/></g>
<g fill="#663399"><circle cx="209.8" cy="363.2" r="1.6"/><circle cx="280.8" cy="395" r="1.6"/><circle cx="228.7" cy="422.8" r="1.6"/></g>
<g fill="#e31a1c"><circle cx="149.1" cy="481.1" r="1.6"/><circle cx="166.7" cy="415.2" r="1.6"/><circle cx="206.3" cy="394.2" r="1.6"/><circle cx="184.3" cy="443.4" r="1.6"/><circle cx="224.2" cy="329" r="1.6"/></g>
<g fill="#663399"><circle cx="172.7" cy="452.6" r="1.6"/><circle cx="227.8" cy="406.6" r="1.6"/></g>
<g fill="#e31a1c"><circle cx="161.2" cy="457.5" r="1.6"/></g>
<g fill="#663399"><circle cx="193" cy="433.3" r="1.6"/></g>
<g fill="#e31a1c"><circle cx="220.3" cy="381.1" r="1.6"/><circle cx="219" cy="411.5" r="1.6"/></g>
<g fill="#663399"><circle cx="258.4" cy="362.9" r="1.6"/><circle cx="234.7" cy="403.4" r="1.6"/></g>
<g fill="#e31a1c"><circle cx="208.9" cy="388.6" r="1.6"/><circle cx="142.6" cy="447" r="1.6"/></g>
<g fill="#663399"><circle cx="179.5" cy="416.8" r="1.6"/><circle cx="231" cy="412" r="1.6"/><circle cx="192.5" cy="385.5" r="1.6"/></g>
<g fill="#1f72b8"><circle cx="116.7" cy="410.8" r="1.6"/></g>
<g fill="#e31a1c"><circle cx="165.3" cy="446.1" r="1.6"/><circle cx="183.5" cy="429.6" r="1.6"/></g>
<g fill="#1f72b8"><circle cx="130.5" cy="420" r="1.6"/></g>
<g fill="#663399"><circle cx="275" cy="372.7" r="1.6"/></g>
<g fill="#e31a1c"><circle cx="175" cy="399.9" r="1.6"/><circle cx="206.4" cy="403" r="1.6"/></g>
<g fill="#663399"><circle cx="178.1" cy="433.6" r="1.6"/><circle cx="245.7" cy="390.5" r="1.6"/></g>
<g fill="#2ca02c"><circle cx="129.6" cy="405.3" r="1.6"/></g>
<g fill="#e31a1c"><circle cx="216" cy="381.3" r="1.6"/></g>
<g fill="#663399"><circle cx="276.6" cy="430.1" r="1.6"/><circle cx="208.9" cy="460.8" r="1.6"/></g>
<g fill="#1f72b8"><circle cx="138" cy="413.1" r="1.6"/></g>
<g fill="#663399"><circle cx="212.4" cy="402.1" r="1.6"/></g>
<g fill="#e31a1c"><circle cx="127.3" cy="468.9" r="1.6"/><circle cx="155.9" cy="433.3" r="1.6"/><circle cx="144.3" cy="435.6" r="1.6"/><circle cx="184.9" cy="423.6" r="1.6"/></g>
<g fill="#663399"><circle cx="224.5" cy="391.4" r="1.6"/></g>
<g fill="#e31a1c"><circle cx="214.8" cy="521.4" r="1.6"/></g>
<g fill="#663399"><circle cx="160.5" cy="436.4" r="1.6"/><circle cx="214.8" cy="411.1" r="1.6"/><circle cx="228.4" cy="409.2" r="1.6"/><circle cx="246.2" cy="375.2" r="1.6"/></g>
<g fill="#e31a1c"><circle cx="166" cy="440.8" r="1.6"/></g>
<g fill="#663399"><circle cx="283.4" cy="415.3" r="1.6"/></g>
<g fill="#e31a1c"><circle cx="234.1" cy="414.5" r="1.6"/></g>
<g fill="#663399"><circle cx="189.9" cy="454.4" r="1.6"/></g>
<g fill="#e31a1c"><circle cx="256.5" cy="394.5" r="1.6"/><circle cx="196.8" cy="387" r="1.6"/></g>
</g>
<clipPath id="cp3"><rect x="391.4" y="307.5" width="287" height="229.9"/></clipPath>
<g clip-path="url(#cp3)">
<g fill="#2ca02c"><circle cx="577.9" cy="381.3" r="1.6"/></g>
<g fill="#663399"><circle cx="528.3" cy="389.2" r="1.6"/><circle cx="600.1" cy="421.3" r="1.6"/><circle cx="488.7" cy="394.3" r="1.6"/></g>
<g fill="#e31a1c"><circle cx="636.6" cy="443.4" r="1.6"/><circle cx="556.2" cy="430.4" r="1.6"/></g>
<g fill="#2ca02c"><circle cx="518.1" cy="416.5" r="1.6"/></g>
<g fill="#663399"><circle cx="501.6" cy="443.3" r="1.6"/><circle cx="588.1" cy="437.1" r="1.6"/></g>
<g fill="#2ca02c"><circle cx="626.4" cy="395.2" r="1.6"/></g>
<g fill="#663399"><circle cx="556.3" cy="396.9" r="1.6"/></g>
<g fill="#e31a1c"><circle cx="607" cy="440.7" r="1.6"/></g>
<g fill="#663399"><circle cx="562.6" cy="444.8" r="1.6"/><circle cx="605.7" cy="477.9" r="1.6"/></g>
<g fill="#e31a1c"><circle cx="620.6" cy="421.4" r="1.6"/><circle cx="573.9" cy="423" r="1.6"/></g>
<g fill="#663399"><circle cx="639.6" cy="439.1" r="1.6"/></g>
<g fill="#2ca02c"><circle cx="594.8" cy="428.3" r="1.6"/></g>
<g fill="#663399"><circle cx="572.1" cy="460" r="1.6"/></g>
<g fill="#e31a1c"><circle cx="562.3" cy="373.6" r="1.6"/><circle cx="474.5" cy="402.1" r="1.6"/></g>
<g fill="#663399"><circle cx="588.9" cy="368.6" r="1.6"/></g>
<g fill="#2ca02c"><circle cx="559.6" cy="374.6" r="1.6"/></g>
<g fill="#663399"><circle cx="527.9" cy="399.8" r="1.6"/></g>
<g fill="#e31a1c"><circle cx="633.5" cy="451.4" r="1.6"/></g>
<g fill="#663399"><circle cx="638.6" cy="488.8" r="1.6"/><circle cx="581" cy="428.6" r="1.6"/><circle cx="574.1" cy="442.6" r="1.6"/></g>
<g fill="#2ca02c"><circle cx="592.6" cy="470.6" r="1.6"/></g>
<g fill="#e31a1c"><circle cx="619.9" cy="423.1" r="1.6"/></g>
<g fill="#663399"><circle cx="603.7" cy="438.9" r="1.6"/></g>
<g fill="#e31a1c"><circle cx="477.6" cy="420.4" r="1.6"/><circle cx="612.1" cy="405.1" r="1.6"/></g>
<g fill="#2ca02c"><circle cx="513.4" cy="400.8" r="1.6"/></g>
<g fill="#e31a1c"><circle cx="546" cy="421.3" r="1.6"/></g>
<g fill="#2ca02c"><circle cx="512.9" cy="402.5" r="1.6"/></g>
<g fill="#e31a1c"><circle cx="601.2" cy="378" r="1.6"/><circle cx="545.5" cy="401.2" r="1.6"/></g>
<g fill="#663399"><circle cx="606.8" cy="443.1" r="1.6"/></g>
<g fill="#e31a1c"><circle cx="594.8" cy="412.2" r="1.6"/><circle cx="640.3" cy="463.3" r="1.6"/><circle cx="589.9" cy="452.8" r="1.6"/></g>
<g fill="#2ca02c"><circle cx="572.8" cy="435.1" r="1.6"/></g>
<g fill="#663399"><circle cx="633.6" cy="378.5" r="1.6"/></g>
<g fill="#e31a1c"><circle cx="564.4" cy="406.1" r="1.6"/></g>
<g fill="#2ca02c"><circle cx="596.2" cy="402.4" r="1.6"/></g>
<g fill="#663399"><circle cx="592.4" cy="451.9" r="1.6"/><circle cx="599.7" cy="389.4" r="1.6"/></g>
<g fill="#e31a1c"><circle cx="620.9" cy="416.3" r="1.6"/><circle cx="473.9" cy="373.7" r="1.6"/></g>
<g fill="#663399"><circle cx="627.5" cy="424" r="1.6"/></g>
<g fill="#e31a1c"><circle cx="559.5" cy="410.4" r="1.6"/><circle cx="623" cy="428.1" r="1.6"/></g>
<g fill="#2ca02c"><circle cx="577.2" cy="397.2" r="1.6"/></g>
<g fill="#e31a1c"><circle cx="607.4" cy="407" r="1.6"/></g>
<g fill="#663399"><circle cx="519.3" cy="372.3" r="1.6"/></g>
<g fill="#e31a1c"><circle cx="569.5" cy="448" r="1.6"/><circle cx="450.3" cy="418.6" r="1.6"/><circle cx="596.6" cy="424" r="1.6"/><circle cx="459.6" cy="381.3" r="1.6"/><circle cx="547.9" cy="408.9" r="1.6"/><circle cx="530.7" cy="449.9" r="1.6"/><circle cx="588" cy="465.5" r="1.6"/><circle cx="587.7" cy="423.9" r="1.6"/></g>
<g fill="#663399"><circle cx="630.3" cy="444.5" r="1.6"/><circle cx="612.3" cy="439.5" r="1.6"/></g>
<g fill="#2ca02c"><circle cx="496.8" cy="376.1" r="1.6"/></g>
<g fill="#e31a1c"><circle cx="580.1" cy="446" r="1.6"/><circle cx="525.1" cy="396.3" r="1.6"/><circle cx="633.8" cy="468.7" r="1.6"/><circle cx="597.4" cy="420" r="1.6"/></g>
<g fill="#663399"><circle cx="621.8" cy="438.9" r="1.6"/></g>
<g fill="#e31a1c"><circle cx="524.1" cy="453.9" r="1.6"/></g>
<g fill="#1f72b8"><circle cx="556" cy="398" r="1.6"/></g>
<g fill="#e31a1c"><circle cx="553.5" cy="442.6" r="1.6"/><circle cx="645.7" cy="455.2" r="1.6"/></g>
<g fill="#2ca02c"><circle cx="460.1" cy="364.7" r="1.6"/></g>
<g fill="#663399"><circle cx="565.1" cy="443.2" r="1.6"/></g>
<g fill="#2ca02c"><circle cx="538.6" cy="366" r="1.6"/></g>
<g fill="#663399"><circle cx="572.5" cy="403.1" r="1.6"/><circle cx="578.7" cy="373" r="1.6"/></g>
<g fill="#2ca02c"><circle cx="632.3" cy="417.5" r="1.6"/></g>
<g fill="#663399"><circle cx="622.9" cy="386.6" r="1.6"/></g>
<g fill="#e31a1c"><circle cx="517.1" cy="421.9" r="1.6"/></g>
<g fill="#663399"><circle cx="593" cy="470.6" r="1.6"/><circle cx="554.1" cy="428.6" r="1.6"/><circle cx="566.7" cy="403.7" r="1.6"/></g>
<g fill="#2ca02c"><circle cx="583.3" cy="425.8" r="1.6"/></g>
<g fill="#e31a1c"><circle cx="527.1" cy="415.8" r="1.6"/></g>
<g fill="#663399"><circle cx="569.9" cy="425.1" r="1.6"/></g>
<g fill="#1f72b8"><circle cx="598.7" cy="410.7" r="1.6"/></g>
<g fill="#e31a1c"><circle cx="594.6" cy="392.2" r="1.6"/></g>
<g fill="#2ca02c"><circle cx="609.1" cy="409.5" r="1.6"/></g>
<g fill="#663399"><circle cx="556.6" cy="418.3" r="1.6"/></g>
<g fill="#e31a1c"><circle cx="557.6" cy="422.4" r="1.6"/><circle cx="462" cy="377.4" r="1.6"/><circle cx="592.9" cy="451.3" r="1.6"/><circle cx="611.5" cy="412.5" r="1.6"/><circle cx="591.2" cy="417.6" r="1.6"/></g>
<g fill="#2ca02c"><circle cx="644.5" cy="431.9" r="1.6"/></g>
<g fill="#e31a1c"><circle cx="512.5" cy="420" r="1.6"/><circle cx="610.3" cy="420" r="1.6"/><circle cx="599" cy="434" r="1.6"/></g>
<g fill="#663399"><circle cx="566.8" cy="407.7" r="1.6"/><circle cx="592.8" cy="472.7" r="1.6"/></g>
<g fill="#e31a1c"><circle cx="573.2" cy="453.3" r="1.6"/></g>
<g fill="#663399"><circle cx="502.6" cy="422.9" r="1.6"/><circle cx="568.9" cy="429.3" r="1.6"/></g>
<g fill="#e31a1c"><circle cx="479.1" cy="394.6" r="1.6"/></g>
<g fill="#663399"><circle cx="529.7" cy="363.7" r="1.6"/></g>
<g fill="#e31a1c"><circle cx="530.8" cy="436.7" r="1.6"/></g>
<g fill="#663399"><circle cx="580" cy="410.4" r="1.6"/><circle cx="601.9" cy="445.4" r="1.6"/></g>
<g fill="#e31a1c"><circle cx="615.2" cy="429.5" r="1.6"/></g>
<g fill="#1f72b8"><circle cx="623.8" cy="406.9" r="1.6"/></g>
<g fill="#663399"><circle cx="576.6" cy="427.8" r="1.6"/><circle cx="575" cy="439.2" r="1.6"/></g>
<g fill="#2ca02c"><circle cx="623.3" cy="476.1" r="1.6"/></g>
<g fill="#663399"><circle cx="575.2" cy="418.7" r="1.6"/><circle cx="559.2" cy="385.1" r="1.6"/><circle cx="557.7" cy="426.8" r="1.6"/><circle cx="482.8" cy="439.2" r="1.6"/><circle cx="552.4" cy="434.9" r="1.6"/></g>
<g fill="#2ca02c"><circle cx="600.6" cy="399.5" r="1.6"/></g>
<g fill="#e31a1c"><circle cx="638.9" cy="385.1" r="1.6"/></g>
<g fill="#663399"><circle cx="606.3" cy="393.2" r="1.6"/><circle cx="605.4" cy="391.7" r="1.6"/><circle cx="548.9" cy="410.7" r="1.6"/></g>
<g fill="#2ca02c"><circle cx="507.3" cy="429.4" r="1.6"/></g>
<g fill="#663399"><circle cx="585.5" cy="450.1" r="1.6"/></g>
<g fill="#1f72b8"><circle cx="542.8" cy="424" r="1.6"/></g>
<g fill="#2ca02c"><circle cx="437" cy="327.1" r="1.6"/></g>
<g fill="#663399"><circle cx="495.7" cy="409.8" r="1.6"/></g>
<g fill="#e31a1c"><circle cx="560.7" cy="412.4" r="1.6"/><circle cx="654.1" cy="442.9" r="1.6"/><circle cx="613" cy="414.5" r="1.6"/></g>
<g fill="#663399"><circle cx="592.7" cy="429.7" r="1.6"/></g>
<g fill="#e31a1c"><circle cx="567.9" cy="395.6" r="1.6"/><circle cx="599.6" cy="367.5" r="1.6"/><circle cx="508.4" cy="461.6" r="1.6"/><circle cx="530" cy="414.2" r="1.6"/></g>
<g fill="#2ca02c"><circle cx="555.1" cy="378.6" r="1.6"/></g>
<g fill="#663399"><circle cx="518.8" cy="410.9" r="1.6"/></g>
<g fill="#2ca02c"><circle cx="471.2" cy="390.2" r="1.6"/></g>
<g fill="#e31a1c"><circle cx="510.5" cy="397.2" r="1.6"/><circle cx="572.1" cy="427.6" r="1.6"/><circle cx="619.1" cy="430.5" r="1.6"/><circle cx="618.6" cy="446.1" r="1.6"/><circle cx="613.7" cy="400.7" r="1.6"/></g>
<g fill="#1f72b8"><circle cx="593.9" cy="418.6" r="1.6"/></g>
<g fill="#e31a1c"><circle cx="549.3" cy="445.1" r="1.6"/></g>
<g fill="#2ca02c"><circle cx="552.2" cy="370.3" r="1.6"/><circle cx="524.4" cy="397" r="1.6"/></g>
<g fill="#e31a1c"><circle cx="452.9" cy="414.6" r="1.6"/></g>
<g fill="#663399"><circle cx="644" cy="445.3" r="1.6"/></g>
<g fill="#e31a1c"><circle cx="651.7" cy="467.3" r="1.6"/></g>
<g fill="#2ca02c"><circle cx="566.7" cy="413.9" r="1.6"/></g>
<g fill="#e31a1c"><circle cx="579.6" cy="432.1" r="1.6"/></g>
<g fill="#663399"><circle cx="451.4" cy="387.1" r="1.6"/></g>
<g fill="#2ca02c"><circle cx="552.7" cy="379.2" r="1.6"/></g>
<g fill="#663399"><circle cx="585.7" cy="424.4" r="1.6"/><circle cx="623.9" cy="388.1" r="1.6"/><circle cx="570.4" cy="446.8" r="1.6"/></g>
<g fill="#e31a1c"><circle cx="442.7" cy="430" r="1.6"/></g>
<g fill="#1f72b8"><circle cx="524.7" cy="404.7" r="1.6"/></g>
<g fill="#663399"><circle cx="638.5" cy="368.4" r="1.6"/></g>
<g fill="#e31a1c"><circle cx="586.1" cy="477.5" r="1.6"/></g>
<g fill="#663399"><circle cx="612.5" cy="408.4" r="1.6"/></g>
<g fill="#e31a1c"><circle cx="436" cy="377.6" r="1.6"/></g>
<g fill="#663399"><circle cx="590.9" cy="396.1" r="1.6"/></g>
<g fill="#2ca02c"><circle cx="570.8" cy="436.3" r="1.6"/></g>
<g fill="#e31a1c"><circle cx="640.3" cy="442.1" r="1.6"/></g>
<g fill="#663399"><circle cx="514.4" cy="419.3" r="1.6"/><circle cx="609.6" cy="381.3" r="1.6"/><circle cx="643.9" cy="446.9" r="1.6"/></g>
<g fill="#1f72b8"><circle cx="590.4" cy="405.7" r="1.6"/></g>
<g fill="#2ca02c"><circle cx="610.2" cy="401.6" r="1.6"/></g>
<g fill="#e31a1c"><circle cx="569.7" cy="437.4" r="1.6"/><circle cx="564.8" cy="410.8" r="1.6"/><circle cx="531.8" cy="401.7" r="1.6"/></g>
<g fill="#2ca02c"><circle cx="519.1" cy="393.8" r="1.6"/></g>
<g fill="#e31a1c"><circle cx="467.4" cy="394.1" r="1.6"/><circle cx="554.1" cy="397.3" r="1.6"/><circle cx="614.9" cy="435.1" r="1.6"/><circle cx="584.9" cy="424.3" r="1.6"/></g>
<g fill="#2ca02c"><circle cx="565.8" cy="413.3" r="1.6"/><circle cx="573.7" cy="419.3" r="1.6"/></g>
<g fill="#e31a1c"><circle cx="600.2" cy="464.7" r="1.6"/></g>
<g fill="#2ca02c"><circle cx="616.5" cy="441.9" r="1.6"/></g>
<g fill="#663399"><circle cx="610" cy="461" r="1.6"/></g>
<g fill="#e31a1c"><circle cx="579.1" cy="441.3" r="1.6"/></g>
<g fill="#2ca02c"><circle cx="447.4" cy="370.7" r="1.6"/></g>
<g fill="#e31a1c"><circle cx="544.7" cy="366.1" r="1.6"/><circle cx="581.6" cy="390.4" r="1.6"/></g>
<g fill="#663399"><circle cx="558.1" cy="429.4" r="1.6"/><circle cx="577.4" cy="438.2" r="1.6"/></g>
<g fill="#e31a1c"><circle cx="614.8" cy="441.3" r="1.6"/><circle cx="627.5" cy="412.9" r="1.6"/><circle cx="636.6" cy="432.2" r="1.6"/><circle cx="500.3" cy="441.2" r="1.6"/></g>
<g fill="#663399"><circle cx="548.9" cy="467.4" r="1.6"/></g>
<g fill="#e31a1c"><circle cx="586.3" cy="411.5" r="1.6"/></g>
<g fill="#663399"><circle cx="580.9" cy="371.6" r="1.6"/></g>
<g fill="#1f72b8"><circle cx="618.1" cy="383.9" r="1.6"/></g>
<g fill="#663399"><circle cx="575.5" cy="415" r="1.6"/><circle cx="567.7" cy="400.4" r="1.6"/></g>
<g fill="#e31a1c"><circle cx="605.7" cy="430.5" r="1.6"/></g>
<g fill="#2ca02c"><circle cx="570.7" cy="431.5" r="1.6"/></g>
<g fill="#e31a1c"><circle cx="508" cy="419.7" r="1.6"/><circle cx="473" cy="352.9" r="1.6"/><circle cx="551.2" cy="439" r="1.6"/><circle cx="629.7" cy="434.3" r="1.6"/></g>
<g fill="#663399"><circle cx="486.6" cy="372.5" r="1.6"/><circle cx="560.1" cy="378.1" r="1.6"/><circle cx="614.7" cy="461.7" r="1.6"/></g>
<g fill="#e31a1c"><circle cx="616" cy="448.8" r="1.6"/><circle cx="616.7" cy="421" r="1.6"/><circle cx="584" cy="462.7" r="1.6"/><circle cx="578.9" cy="432.9" r="1.6"/></g>
<g fill="#663399"><circle cx="569.7" cy="460.6" r="1.6"/><circle cx="498.6" cy="364.7" r="1.6"/></g>
<g fill="#e31a1c"><circle cx="589.6" cy="392.8" r="1.6"/><circle cx="541.1" cy="413" r="1.6"/></g>
<g fill="#663399"><circle cx="501" cy="417.6" r="1.6"/></g>
<g fill="#1f72b8"><circle cx="555.2" cy="399" r="1.6"/></g>
<g fill="#e31a1c"><circle cx="572.7" cy="405.1" r="1.6"/><circle cx="424.8" cy="385.1" r="1.6"/></g>
<g fill="#2ca02c"><circle cx="551.9" cy="432.3" r="1.6"/></g>
<g fill="#663399"><circle cx="620.7" cy="397.6" r="1.6"/></g>
<g fill="#e31a1c"><circle cx="539.5" cy="389.8" r="1.6"/></g>
<g fill="#663399"><circle cx="545.7" cy="435.5" r="1.6"/><circle cx="498.2" cy="352.5" r="1.6"/></g>
<g fill="#e31a1c"><circle cx="518.7" cy="426.6" r="1.6"/></g>
<g fill="#663399"><circle cx="642.4" cy="433.5" r="1.6"/></g>
<g fill="#e31a1c"><circle cx="461.6" cy="394.8" r="1.6"/><circle cx="534.3" cy="386.6" r="1.6"/></g>
<g fill="#663399"><circle cx="552.9" cy="393.4" r="1.6"/></g>
<g fill="#e31a1c"><circle cx="610.1" cy="410" r="1.6"/><circle cx="610.4" cy="453.3" r="1.6"/><circle cx="621.9" cy="475.9" r="1.6"/></g>
<g fill="#663399"><circle cx="593.3" cy="437.7" r="1.6"/><circle cx="613.7" cy="427.7" r="1.6"/><circle cx="556.6" cy="370.5" r="1.6"/></g>
<g fill="#e31a1c"><circle cx="594.3" cy="407.5" r="1.6"/><circle cx="430.2" cy="400.6" r="1.6"/></g>
<g fill="#663399"><circle cx="639.5" cy="426" r="1.6"/><circle cx="537.4" cy="404.8" r="1.6"/><circle cx="631.6" cy="414" r="1.6"/></g>
<g fill="#e31a1c"><circle cx="469.9" cy="431.8" r="1.6"/><circle cx="605" cy="458.5" r="1.6"/></g>
<g fill="#663399"><circle cx="602.3" cy="408.8" r="1.6"/></g>
<g fill="#2ca02c"><circle cx="598.7" cy="410.5" r="1.6"/></g>
<g fill="#663399"><circle cx="516.8" cy="427.6" r="1.6"/></g>
<g fill="#e31a1c"><circle cx="577.2" cy="382.6" r="1.6"/><circle cx="592.2" cy="385.3" r="1.6"/></g>
<g fill="#2ca02c"><circle cx="545.8" cy="413.7" r="1.6"/></g>
<g fill="#663399"><circle cx="586.3" cy="414.1" r="1.6"/></g>
<g fill="#e31a1c"><circle cx="563.7" cy="427.2" r="1.6"/><circle cx="512.6" cy="407.1" r="1.6"/><circle cx="451.6" cy="431.3" r="1.6"/></g>
<g fill="#663399"><circle cx="634" cy="464.1" r="1.6"/></g>
<g fill="#2ca02c"><circle cx="541.9" cy="417" r="1.6"/></g>
<g fill="#e31a1c"><circle cx="431.2" cy="393" r="1.6"/></g>
<g fill="#2ca02c"><circle cx="588" cy="397.9" r="1.6"/></g>
<g fill="#663399"><circle cx="619.2" cy="422.3" r="1.6"/><circle cx="622.4" cy="449" r="1.6"/></g>
<g fill="#e31a1c"><circle cx="571.4" cy="437.8" r="1.6"/><circle cx="592.2" cy="421" r="1.6"/><circle cx="632.8" cy="399.6" r="1.6"/><circle cx="578" cy="427.8" r="1.6"/><circle cx="542.7" cy="397.8" r="1.6"/></g>
<g fill="#663399"><circle cx="525.7" cy="440.4" r="1.6"/><circle cx="610.3" cy="465.8" r="1.6"/></g>
<g fill="#e31a1c"><circle cx="621.2" cy="447.2" r="1.6"/></g>
<g fill="#2ca02c"><circle cx="605.5" cy="446" r="1.6"/></g>
<g fill="#663399"><circle cx="614.5" cy="450.8" r="1.6"/><circle cx="570.7" cy="410.1" r="1.6"/></g>
<g fill="#2ca02c"><circle cx="587.9" cy="394.1" r="1.6"/></g>
<g fill="#663399"><circle cx="607.7" cy="379.4" r="1.6"/></g>
<g fill="#e31a1c"><circle cx="579.5" cy="454.7" r="1.6"/><circle cx="532.8" cy="406" r="1.6"/><circle cx="496.7" cy="394.7" r="1.6"/></g>
<g fill="#663399"><circle cx="558.9" cy="419.8" r="1.6"/></g>
<g fill="#e31a1c"><circle cx="618.1" cy="439.9" r="1.6"/></g>
<g fill="#663399"><circle cx="608.8" cy="451" r="1.6"/><circle cx="557.4" cy="430.1" r="1.6"/></g>
<g fill="#e31a1c"><circle cx="584.7" cy="427.8" r="1.6"/></g>
<g fill="#663399"><circle cx="621.1" cy="456.5" r="1.6"/></g>
<g fill="#2ca02c"><circle cx="563.2" cy="386.3" r="1.6"/></g>
<g fill="#663399"><circle cx="590.2" cy="441" r="1.6"/></g>
<g fill="#e31a1c"><circle cx="516.5" cy="416.3" r="1.6"/><circle cx="442" cy="386" r="1.6"/><circle cx="617.7" cy="398.4" r="1.6"/></g>
<g fill="#663399"><circle cx="616.2" cy="462.4" r="1.6"/></g>
<g fill="#e31a1c"><circle cx="539.5" cy="445.2" r="1.6"/></g>
<g fill="#663399"><circle cx="565.4" cy="413.1" r="1.6"/></g>
<g fill="#e31a1c"><circle cx="568.2" cy="408.6" r="1.6"/></g>
<g fill="#663399"><circle cx="540.7" cy="410.5" r="1.6"/></g>
<g fill="#e31a1c"><circle cx="522.3" cy="429.3" r="1.6"/></g>
<g fill="#663399"><circle cx="629.1" cy="490.4" r="1.6"/><circle cx="615.4" cy="468.8" r="1.6"/></g>
<g fill="#e31a1c"><circle cx="630.9" cy="398.1" r="1.6"/></g>
<g fill="#663399"><circle cx="607.5" cy="382" r="1.6"/></g>
<g fill="#e31a1c"><circle cx="595" cy="407.5" r="1.6"/></g>
<g fill="#663399"><circle cx="569.8" cy="446.3" r="1.6"/><circle cx="596.8" cy="452.8" r="1.6"/><circle cx="505.6" cy="453.9" r="1.6"/><circle cx="618.6" cy="403" r="1.6"/></g>
<g fill="#e31a1c"><circle cx="634.4" cy="398.4" r="1.6"/></g>
<g fill="#2ca02c"><circle cx="518.2" cy="389.7" r="1.6"/></g>
<g fill="#e31a1c"><circle cx="536.8" cy="451.8" r="1.6"/></g>
<g fill="#663399"><circle cx="634.4" cy="468.2" r="1.6"/></g>
<g fill="#2ca02c"><circle cx="616.4" cy="440.6" r="1.6"/></g>
<g fill="#663399"><circle cx="639" cy="423.5" r="1.6"/></g>
<g fill="#e31a1c"><circle cx="620.2" cy="446.3" r="1.6"/></g>
<g fill="#663399"><circle cx="602.2" cy="449.2" r="1.6"/></g>
<g fill="#e31a1c"><circle cx="609.9" cy="429.3" r="1.6"/></g>
<g fill="#663399"><circle cx="523.5" cy="439.4" r="1.6"/><circle cx="592.4" cy="455.8" r="1.6"/></g>
<g fill="#e31a1c"><circle cx="436.8" cy="408.2" r="1.6"/><circle cx="600.3" cy="468.5" r="1.6"/><circle cx="610.3" cy="401.3" r="1.6"/><circle cx="620.5" cy="430.8" r="1.6"/></g>
<g fill="#663399"><circle cx="548.1" cy="426.8" r="1.6"/></g>
<g fill="#2ca02c"><circle cx="610.5" cy="379.7" r="1.6"/></g>
<g fill="#663399"><circle cx="543.7" cy="410.3" r="1.6"/></g>
<g fill="#2ca02c"><circle cx="564.4" cy="406.1" r="1.6"/></g>
<g fill="#663399"><circle cx="610" cy="391.8" r="1.6"/><circle cx="609.2" cy="413.2" r="1.6"/><circle cx="498.5" cy="432" r="1.6"/></g>
<g fill="#e31a1c"><circle cx="460.3" cy="346.8" r="1.6"/></g>
<g fill="#663399"><circle cx="602.4" cy="425.6" r="1.6"/></g>
<g fill="#2ca02c"><circle cx="569.6" cy="416.2" r="1.6"/></g>
<g fill="#e31a1c"><circle cx="550.5" cy="393.3" r="1.6"/></g>
<g fill="#663399"><circle cx="510.8" cy="429.9" r="1.6"/></g>
<g fill="#1f72b8"><circle cx="598.2" cy="415.1" r="1.6"/></g>
<g fill="#e31a1c"><circle cx="643.2" cy="458.7" r="1.6"/><circle cx="641.8" cy="452.4" r="1.6"/><circle cx="626.5" cy="445.1" r="1.6"/><circle cx="629" cy="417.3" r="1.6"/></g>
<g fill="#663399"><circle cx="614.1" cy="449.2" r="1.6"/><circle cx="466.3" cy="348.1" r="1.6"/><circle cx="619.4" cy="410.2" r="1.6"/><circle cx="602.8" cy="439.9" r="1.6"/><circle cx="623.7" cy="384.3" r="1.6"/></g>
<g fill="#1f72b8"><circle cx="591.7" cy="347.7" r="1.6"/></g>
<g fill="#2ca02c"><circle cx="558.8" cy="435.9" r="1.6"/><circle cx="608" cy="391.9" r="1.6"/></g>
<g fill="#663399"><circle cx="588.7" cy="392.4" r="1.6"/><circle cx="578.3" cy="441.1" r="1.6"/></g>
<g fill="#e31a1c"><circle cx="597.1" cy="430.1" r="1.6"/><circle cx="639.9" cy="371.1" r="1.6"/><circle cx="559.8" cy="386.6" r="1.6"/><circle cx="597.9" cy="426.6" r="1.6"/><circle cx="652" cy="469.7" r="1.6"/><circle cx="547.7" cy="392.7" r="1.6"/><circle cx="546" cy="361.5" r="1.6"/><circle cx="432.6" cy="404.1" r="1.6"/><circle cx="629.6" cy="447.5" r="1.6"/><circle cx="500.9" cy="418.7" r="1.6"/><circle cx="458" cy="391" r="1.6"/></g>
<g fill="#2ca02c"><circle cx="529.4" cy="395.1" r="1.6"/></g>
<g fill="#e31a1c"><circle cx="627" cy="417.1" r="1.6"/><circle cx="495.7" cy="436.1" r="1.6"/></g>
<g fill="#663399"><circle cx="592.8" cy="384.2" r="1.6"/></g>
<g fill="#2ca02c"><circle cx="516" cy="450.6" r="1.6"/></g>
<g fill="#663399"><circle cx="581.2" cy="433" r="1.6"/><circle cx="576.9" cy="473.8" r="1.6"/><circle cx="584.1" cy="394.2" r="1.6"/><circle cx="599.7" cy="454.6" r="1.6"/></g>
<g fill="#e31a1c"><circle cx="589.3" cy="401.2" r="1.6"/><circle cx="607.4" cy="447" r="1.6"/><circle cx="602.3" cy="387.6" r="1.6"/></g>
<g fill="#663399"><circle cx="516.3" cy="424.2" r="1.6"/></g>
<g fill="#e31a1c"><circle cx="556.1" cy="383.6" r="1.6"/><circle cx="449.6" cy="418.4" r="1.6"/></g>
<g fill="#663399"><circle cx="601.8" cy="409.6" r="1.6"/><circle cx="598" cy="426.4" r="1.6"/><circle cx="633.3" cy="467.4" r="1.6"/></g>
<g fill="#e31a1c"><circle cx="620.6" cy="409" r="1.6"/><circle cx="633.1" cy="418" r="1.6"/></g>
<g fill="#2ca02c"><circle cx="561.4" cy="454.8" r="1.6"/></g>
<g fill="#e31a1c"><circle cx="588.5" cy="457.2" r="1.6"/></g>
<g fill="#2ca02c"><circle cx="563.2" cy="422.1" r="1.6"/></g>
<g fill="#663399"><circle cx="612.1" cy="472.6" r="1.6"/></g>
<g fill="#1f72b8"><circle cx="527.1" cy="382.6" r="1.6"/></g>
<g fill="#2ca02c"><circle cx="623.4" cy="410.2" r="1.6"/></g>
<g fill="#663399"><circle cx="635.4" cy="441.3" r="1.6"/></g>
<g fill="#e31a1c"><circle cx="484" cy="453.2" r="1.6"/><circle cx="567.9" cy="422" r="1.6"/></g>
<g fill="#2ca02c"><circle cx="590.8" cy="424.6" r="1.6"/></g>
<g fill="#663399"><circle cx="547.5" cy="399.1" r="1.6"/></g>
<g fill="#e31a1c"><circle cx="537.6" cy="449.2" r="1.6"/><circle cx="612.6" cy="390.8" r="1.6"/></g>
<g fill="#663399"><circle cx="597.5" cy="420.1" r="1.6"/></g>
<g fill="#e31a1c"><circle cx="595.7" cy="438.6" r="1.6"/></g>
<g fill="#663399"><circle cx="556.8" cy="342.9" r="1.6"/></g>
<g fill="#2ca02c"><circle cx="644.1" cy="445" r="1.6"/></g>
<g fill="#e31a1c"><circle cx="578.9" cy="396" r="1.6"/></g>
<g fill="#663399"><circle cx="583.6" cy="359.1" r="1.6"/><circle cx="624.5" cy="458.6" r="1.6"/><circle cx="580.7" cy="446.7" r="1.6"/><circle cx="497.9" cy="472.6" r="1.6"/><circle cx="600.8" cy="423.8" r="1.6"/></g>
<g fill="#2ca02c"><circle cx="599.1" cy="409.4" r="1.6"/></g>
<g fill="#663399"><circle cx="605.3" cy="458.6" r="1.6"/><circle cx="610.4" cy="445.5" r="1.6"/></g>
<g fill="#e31a1c"><circle cx="564.6" cy="406" r="1.6"/></g>
<g fill="#663399"><circle cx="624.6" cy="391.2" r="1.6"/><circle cx="539.6" cy="397" r="1.6"/><circle cx="650.2" cy="388.7" r="1.6"/><circle cx="595.1" cy="398.4" r="1.6"/><circle cx="595.5" cy="414" r="1.6"/></g>
<g fill="#e31a1c"><circle cx="453.1" cy="453.4" r="1.6"/></g>
<g fill="#663399"><circle cx="587.6" cy="453" r="1.6"/><circle cx="490.8" cy="420.4" r="1.6"/></g>
<g fill="#e31a1c"><circle cx="601.4" cy="423.3" r="1.6"/><circle cx="478.4" cy="371.2" r="1.6"/></g>
<g fill="#663399"><circle cx="559.8" cy="483.8" r="1.6"/><circle cx="557.7" cy="397" r="1.6"/></g>
<g fill="#e31a1c"><circle cx="589.8" cy="414.6" r="1.6"/></g>
<g fill="#663399"><circle cx="440.8" cy="367.7" r="1.6"/><circle cx="581.8" cy="419" r="1.6"/></g>
<g fill="#e31a1c"><circle cx="541.2" cy="406.2" r="1.6"/><circle cx="527.8" cy="466.8" r="1.6"/></g>
<g fill="#663399"><circle cx="624.7" cy="412.3" r="1.6"/><circle cx="570.3" cy="477.1" r="1.6"/><circle cx="583.9" cy="405.7" r="1.6"/></g>
<g fill="#2ca02c"><circle cx="590.3" cy="388.8" r="1.6"/></g>
<g fill="#e31a1c"><circle cx="505.3" cy="407.1" r="1.6"/></g>
<g fill="#663399"><circle cx="591.4" cy="437.9" r="1.6"/></g>
<g fill="#e31a1c"><circle cx="546.3" cy="428.7" r="1.6"/><circle cx="516.7" cy="404" r="1.6"/></g>
<g fill="#2ca02c"><circle cx="625.6" cy="393.2" r="1.6"/></g>
<g fill="#663399"><circle cx="623" cy="487.5" r="1.6"/></g>
<g fill="#e31a1c"><circle cx="588.3" cy="434.9" r="1.6"/></g>
<g fill="#663399"><circle cx="625.2" cy="486.1" r="1.6"/><circle cx="578.7" cy="444.9" r="1.6"/><circle cx="626.6" cy="394.6" r="1.6"/></g>
<g fill="#e31a1c"><circle cx="541.5" cy="418" r="1.6"/></g>
<g fill="#2ca02c"><circle cx="638.7" cy="444.5" r="1.6"/></g>
<g fill="#663399"><circle cx="535.8" cy="397.5" r="1.6"/></g>
<g fill="#e31a1c"><circle cx="564.1" cy="438.4" r="1.6"/><circle cx="525.9" cy="444.1" r="1.6"/><circle cx="511.4" cy="363.3" r="1.6"/></g>
<g fill="#663399"><circle cx="471.3" cy="440" r="1.6"/><circle cx="619" cy="430.5" r="1.6"/><circle cx="596.7" cy="451.8" r="1.6"/></g>
<g fill="#e31a1c"><circle cx="571.6" cy="446.1" r="1.6"/></g>
<g fill="#663399"><circle cx="516.2" cy="411.8" r="1.6"/><circle cx="634.8" cy="410.1" r="1.6"/></g>
<g fill="#e31a1c"><circle cx="473.6" cy="452" r="1.6"/><circle cx="631.9" cy="405.5" r="1.6"/><circle cx="637.9" cy="389.2" r="1.6"/></g>
<g fill="#663399"><circle cx="608.6" cy="449.7" r="1.6"/><circle cx="563.2" cy="409.4" r="1.6"/></g>
<g fill="#e31a1c"><circle cx="613.4" cy="402.4" r="1.6"/><circle cx="619" cy="437.6" r="1.6"/><circle cx="527.6" cy="439.5" r="1.6"/></g>
<g fill="#663399"><circle cx="594.4" cy="430" r="1.6"/></g>
<g fill="#2ca02c"><circle cx="604.7" cy="398.1" r="1.6"/></g>
<g fill="#663399"><circle cx="567.5" cy="438.5" r="1.6"/><circle cx="596" cy="460.5" r="1.6"/></g>
<g fill="#2ca02c"><circle cx="439" cy="405.8" r="1.6"/><circle cx="641.3" cy="434.1" r="1.6"/></g>
<g fill="#e31a1c"><circle cx="598.1" cy="421.1" r="1.6"/></g>
<g fill="#663399"><circle cx="600.2" cy="455" r="1.6"/><circle cx="479.1" cy="396.1" r="1.6"/><circle cx="626" cy="426.3" r="1.6"/></g>
<g fill="#2ca02c"><circle cx="617.4" cy="399.8" r="1.6"/></g>
<g fill="#1f72b8"><circle cx="528.6" cy="416.9" r="1.6"/></g>
<g fill="#663399"><circle cx="574.1" cy="374" r="1.6"/></g>
<g fill="#e31a1c"><circle cx="598.4" cy="372.7" r="1.6"/></g>
<g fill="#663399"><circle cx="509.2" cy="409.7" r="1.6"/><circle cx="549.3" cy="400.3" r="1.6"/></g>
<g fill="#e31a1c"><circle cx="568.8" cy="473.3" r="1.6"/></g>
<g fill="#2ca02c"><circle cx="601.1" cy="421.7" r="1.6"/></g>
<g fill="#663399"><circle cx="620.1" cy="481.9" r="1.6"/><circle cx="615.1" cy="415.4" r="1.6"/></g>
<g fill="#2ca02c"><circle cx="526.4" cy="428.6" r="1.6"/></g>
<g fill="#663399"><circle cx="628" cy="399.1" r="1.6"/></g>
<g fill="#2ca02c"><circle cx="629.1" cy="402.1" r="1.6"/></g>
<g fill="#e31a1c"><circle cx="604.3" cy="434.4" r="1.6"/><circle cx="586.7" cy="457.1" r="1.6"/><circle cx="465.7" cy="424.1" r="1.6"/></g>
<g fill="#663399"><circle cx="615.8" cy="424.3" r="1.6"/></g>
<g fill="#e31a1c"><circle cx="630.5" cy="419.5" r="1.6"/><circle cx="566.4" cy="468.5" r="1.6"/></g>
<g fill="#663399"><circle cx="619.6" cy="430.7" r="1.6"/><circle cx="572.4" cy="449.3" r="1.6"/></g>
<g fill="#e31a1c"><circle cx="631" cy="422.2" r="1.6"/></g>
<g fill="#663399"><circle cx="550.5" cy="413.9" r="1.6"/></g>
<g fill="#e31a1c"><circle cx="504.2" cy="408.9" r="1.6"/><circle cx="624.6" cy="433.4" r="1.6"/><circle cx="431.3" cy="384.5" r="1.6"/></g>
<g fill="#1f72b8"><circle cx="589.2" cy="415.3" r="1.6"/></g>
<g fill="#663399"><circle cx="603.9" cy="427.4" r="1.6"/></g>
<g fill="#e31a1c"><circle cx="601.7" cy="444.4" r="1.6"/></g>
<g fill="#663399"><circle cx="608.5" cy="385.6" r="1.6"/><circle cx="621" cy="381.6" r="1.6"/></g>
<g fill="#e31a1c"><circle cx="619" cy="414.3" r="1.6"/><circle cx="602" cy="418.3" r="1.6"/></g>
<g fill="#2ca02c"><circle cx="569" cy="375" r="1.6"/></g>
<g fill="#e31a1c"><circle cx="587.9" cy="450.6" r="1.6"/></g>
<g fill="#2ca02c"><circle cx="556.6" cy="387" r="1.6"/></g>
<g fill="#e31a1c"><circle cx="587.2" cy="453.1" r="1.6"/><circle cx="613.4" cy="409.4" r="1.6"/><circle cx="628.1" cy="443.6" r="1.6"/></g>
<g fill="#663399"><circle cx="554" cy="416.3" r="1.6"/></g>
<g fill="#2ca02c"><circle cx="602.3" cy="396.1" r="1.6"/></g>
<g fill="#e31a1c"><circle cx="481.8" cy="393.9" r="1.6"/><circle cx="578.7" cy="404.4" r="1.6"/></g>
<g fill="#663399"><circle cx="467.4" cy="371" r="1.6"/><circle cx="561.8" cy="374.4" r="1.6"/></g>
<g fill="#e31a1c"><circle cx="641.8" cy="420.7" r="1.6"/><circle cx="446.7" cy="411.8" r="1.6"/><circle cx="585.4" cy="386.5" r="1.6"/></g>
<g fill="#663399"><circle cx="535.7" cy="354.9" r="1.6"/></g>
<g fill="#e31a1c"><circle cx="621.9" cy="461.9" r="1.6"/></g>
<g fill="#663399"><circle cx="628.8" cy="427.7" r="1.6"/></g>
<g fill="#2ca02c"><circle cx="622.2" cy="459.5" r="1.6"/><circle cx="598.9" cy="327.2" r="1.6"/></g>
<g fill="#663399"><circle cx="618.9" cy="432.4" r="1.6"/></g>
<g fill="#e31a1c"><circle cx="586.2" cy="410.1" r="1.6"/></g>
<g fill="#663399"><circle cx="622.3" cy="426.9" r="1.6"/></g>
<g fill="#2ca02c"><circle cx="548.9" cy="414.1" r="1.6"/></g>
<g fill="#663399"><circle cx="492.7" cy="392.6" r="1.6"/><circle cx="634.5" cy="407.7" r="1.6"/></g>
<g fill="#e31a1c"><circle cx="578.1" cy="424.7" r="1.6"/><circle cx="488.7" cy="391.9" r="1.6"/><circle cx="622.7" cy="459.7" r="1.6"/></g>
<g fill="#663399"><circle cx="578.5" cy="400.2" r="1.6"/><circle cx="564.7" cy="381.1" r="1.6"/></g>
<g fill="#e31a1c"><circle cx="552.1" cy="385.5" r="1.6"/></g>
<g fill="#663399"><circle cx="600.6" cy="443.9" r="1.6"/></g>
<g fill="#e31a1c"><circle cx="526.7" cy="404.8" r="1.6"/></g>
<g fill="#663399"><circle cx="612.1" cy="423.2" r="1.6"/></g>
<g fill="#1f72b8"><circle cx="548.7" cy="428.4" r="1.6"/></g>
<g fill="#2ca02c"><circle cx="550.5" cy="414.2" r="1.6"/></g>
<g fill="#e31a1c"><circle cx="582.8" cy="459.3" r="1.6"/></g>
<g fill="#663399"><circle cx="516.3" cy="436.7" r="1.6"/></g>
<g fill="#2ca02c"><circle cx="636.6" cy="477.6" r="1.6"/></g>
<g fill="#e31a1c"><circle cx="614.9" cy="397.4" r="1.6"/></g>
<g fill="#663399"><circle cx="634.6" cy="445.1" r="1.6"/><circle cx="638.3" cy="458" r="1.6"/></g>
<g fill="#e31a1c"><circle cx="574.8" cy="393.1" r="1.6"/></g>
<g fill="#2ca02c"><circle cx="547.3" cy="375.1" r="1.6"/></g>
<g fill="#663399"><circle cx="604" cy="432" r="1.6"/><circle cx="580.1" cy="411.9" r="1.6"/><circle cx="570.9" cy="473.3" r="1.6"/></g>
<g fill="#e31a1c"><circle cx="625.9" cy="467.6" r="1.6"/></g>
<g fill="#663399"><circle cx="600.2" cy="438.5" r="1.6"/></g>
<g fill="#e31a1c"><circle cx="469.9" cy="428" r="1.6"/></g>
<g fill="#663399"><circle cx="635.1" cy="428" r="1.6"/></g>
<g fill="#2ca02c"><circle cx="566" cy="419.4" r="1.6"/></g>
<g fill="#663399"><circle cx="606.6" cy="437.7" r="1.6"/><circle cx="611.8" cy="419.2" r="1.6"/></g>
<g fill="#e31a1c"><circle cx="527.3" cy="388.3" r="1.6"/></g>
<g fill="#2ca02c"><circle cx="625" cy="433.9" r="1.6"/><circle cx="577.5" cy="399.4" r="1.6"/></g>
<g fill="#e31a1c"><circle cx="480.6" cy="396.1" r="1.6"/></g>
<g fill="#663399"><circle cx="591.5" cy="450.3" r="1.6"/></g>
<g fill="#e31a1c"><circle cx="604.8" cy="410.3" r="1.6"/><circle cx="545.5" cy="398.6" r="1.6"/></g>
<g fill="#663399"><circle cx="617.8" cy="424.4" r="1.6"/><circle cx="634.8" cy="428.9" r="1.6"/></g>
<g fill="#e31a1c"><circle cx="601.1" cy="409.5" r="1.6"/><circle cx="549.2" cy="464.7" r="1.6"/><circle cx="618.3" cy="468.9" r="1.6"/></g>
<g fill="#663399"><circle cx="627.6" cy="422.9" r="1.6"/></g>
<g fill="#e31a1c"><circle cx="578.5" cy="444.3" r="1.6"/></g>
<g fill="#663399"><circle cx="608.5" cy="368.9" r="1.6"/></g>
<g fill="#2ca02c"><circle cx="580.1" cy="409.2" r="1.6"/></g>
<g fill="#e31a1c"><circle cx="605.2" cy="447.1" r="1.6"/></g>
<g fill="#663399"><circle cx="597.5" cy="371.4" r="1.6"/><circle cx="624.3" cy="405.5" r="1.6"/><circle cx="559" cy="433.9" r="1.6"/></g>
<g fill="#e31a1c"><circle cx="563.2" cy="447.6" r="1.6"/></g>
<g fill="#663399"><circle cx="608.3" cy="408.3" r="1.6"/></g>
<g fill="#2ca02c"><circle cx="460.7" cy="419.3" r="1.6"/></g>
<g fill="#663399"><circle cx="559.6" cy="408.1" r="1.6"/></g>
<g fill="#e31a1c"><circle cx="645.1" cy="447.5" r="1.6"/><circle cx="612.5" cy="447.5" r="1.6"/><circle cx="604.9" cy="433.7" r="1.6"/></g>
<g fill="#2ca02c"><circle cx="611" cy="429.9" r="1.6"/></g>
<g fill="#663399"><circle cx="628.7" cy="428.3" r="1.6"/></g>
<g fill="#e31a1c"><circle cx="588.5" cy="423" r="1.6"/><circle cx="554.9" cy="405.6" r="1.6"/></g>
<g fill="#663399"><circle cx="530.6" cy="456.6" r="1.6"/><circle cx="553.6" cy="417.2" r="1.6"/></g>
<g fill="#2ca02c"><circle cx="598.5" cy="459.8" r="1.6"/></g>
<g fill="#663399"><circle cx="587.2" cy="482.7" r="1.6"/><circle cx="644.2" cy="440.3" r="1.6"/><circle cx="614.5" cy="398.6" r="1.6"/></g>
<g fill="#e31a1c"><circle cx="598.5" cy="430.1" r="1.6"/></g>
<g fill="#663399"><circle cx="591" cy="438.6" r="1.6"/><circle cx="480.6" cy="398" r="1.6"/></g>
<g fill="#e31a1c"><circle cx="658.3" cy="537" r="1.6"/></g>
<g fill="#663399"><circle cx="600.4" cy="404.8" r="1.6"/></g>
<g fill="#e31a1c"><circle cx="605.7" cy="467.7" r="1.6"/></g>
<g fill="#663399"><circle cx="559" cy="480.3" r="1.6"/><circle cx="647.9" cy="390.1" r="1.6"/></g>
<g fill="#e31a1c"><circle cx="580" cy="447.6" r="1.6"/><circle cx="603.1" cy="413.5" r="1.6"/></g>
<g fill="#663399"><circle cx="648.3" cy="406.1" r="1.6"/></g>
<g fill="#e31a1c"><circle cx="624.3" cy="473.2" r="1.6"/></g>
<g fill="#663399"><circle cx="622.3" cy="465.4" r="1.6"/></g>
<g fill="#e31a1c"><circle cx="541.5" cy="453" r="1.6"/><circle cx="574.5" cy="448.3" r="1.6"/></g>
<g fill="#663399"><circle cx="622.6" cy="391" r="1.6"/></g>
<g fill="#2ca02c"><circle cx="577.2" cy="409.7" r="1.6"/></g>
<g fill="#e31a1c"><circle cx="603.1" cy="379.6" r="1.6"/></g>
<g fill="#2ca02c"><circle cx="603.4" cy="413" r="1.6"/></g>
<g fill="#e31a1c"><circle cx="635.7" cy="437.9" r="1.6"/></g>
<g fill="#2ca02c"><circle cx="628.7" cy="445.7" r="1.6"/></g>
<g fill="#663399"><circle cx="508.4" cy="419" r="1.6"/></g>
<g fill="#e31a1c"><circle cx="599.4" cy="427.8" r="1.6"/></g>
<g fill="#663399"><circle cx="622.4" cy="422.7" r="1.6"/><circle cx="617.9" cy="432.1" r="1.6"/></g>
<g fill="#e31a1c"><circle cx="512" cy="427.3" r="1.6"/></g>
<g fill="#663399"><circle cx="562.6" cy="432.4" r="1.6"/><circle cx="620.2" cy="446.6" r="1.6"/><circle cx="612.1" cy="434.4" r="1.6"/></g>
<g fill="#1f72b8"><circle cx="612.8" cy="391.6" r="1.6"/></g>
<g fill="#e31a1c"><circle cx="557.7" cy="391.5" r="1.6"/></g>
<g fill="#663399"><circle cx="532.1" cy="357.9" r="1.6"/></g>
<g fill="#e31a1c"><circle cx="549" cy="426.8" r="1.6"/><circle cx="565" cy="384.1" r="1.6"/></g>
<g fill="#2ca02c"><circle cx="610" cy="463.4" r="1.6"/></g>
<g fill="#e31a1c"><circle cx="540.8" cy="451.8" r="1.6"/></g>
<g fill="#2ca02c"><circle cx="579.7" cy="375.5" r="1.6"/></g>
<g fill="#e31a1c"><circle cx="635.8" cy="405.3" r="1.6"/></g>
<g fill="#663399"><circle cx="582.5" cy="386.1" r="1.6"/></g>
<g fill="#e31a1c"><circle cx="529.8" cy="416.7" r="1.6"/></g>
<g fill="#2ca02c"><circle cx="503.2" cy="385.1" r="1.6"/></g>
<g fill="#e31a1c"><circle cx="541.2" cy="438.9" r="1.6"/></g>
<g fill="#2ca02c"><circle cx="614.2" cy="394.8" r="1.6"/></g>
<g fill="#e31a1c"><circle cx="580.8" cy="390.3" r="1.6"/><circle cx="460.2" cy="356.1" r="1.6"/></g>
<g fill="#663399"><circle cx="614.7" cy="379.3" r="1.6"/></g>
<g fill="#e31a1c"><circle cx="588.4" cy="422.3" r="1.6"/><circle cx="576.6" cy="414.1" r="1.6"/></g>
<g fill="#663399"><circle cx="567.5" cy="408.4" r="1.6"/><circle cx="613" cy="423.5" r="1.6"/><circle cx="468" cy="374.3" r="1.6"/><circle cx="509.5" cy="399.1" r="1.6"/><circle cx="530.8" cy="371.6" r="1.6"/></g>
<g fill="#e31a1c"><circle cx="587.5" cy="435.2" r="1.6"/><circle cx="445" cy="413.1" r="1.6"/></g>
<g fill="#1f72b8"><circle cx="607.4" cy="414.1" r="1.6"/></g>
<g fill="#663399"><circle cx="594.5" cy="467.9" r="1.6"/></g>
<g fill="#2ca02c"><circle cx="526.4" cy="432.3" r="1.6"/><circle cx="559.6" cy="406.4" r="1.6"/></g>
<g fill="#e31a1c"><circle cx="569.2" cy="438.6" r="1.6"/><circle cx="438.3" cy="430.7" r="1.6"/><circle cx="451.8" cy="397.5" r="1.6"/></g>
<g fill="#663399"><circle cx="622.2" cy="455" r="1.6"/><circle cx="622.4" cy="436.4" r="1.6"/><circle cx="498.5" cy="386.5" r="1.6"/></g>
<g fill="#e31a1c"><circle cx="638.7" cy="384.5" r="1.6"/><circle cx="485.1" cy="393.2" r="1.6"/></g>
<g fill="#663399"><circle cx="631.5" cy="421.8" r="1.6"/><circle cx="609.9" cy="438.7" r="1.6"/></g>
<g fill="#e31a1c"><circle cx="563.6" cy="415.5" r="1.6"/><circle cx="554.7" cy="425.2" r="1.6"/><circle cx="425.4" cy="360.1" r="1.6"/></g>
<g fill="#663399"><circle cx="532" cy="473.6" r="1.6"/></g>
<g fill="#e31a1c"><circle cx="527.7" cy="406.4" r="1.6"/><circle cx="504.7" cy="462.4" r="1.6"/></g>
<g fill="#2ca02c"><circle cx="532.4" cy="394.4" r="1.6"/></g>
<g fill="#e31a1c"><circle cx="602.6" cy="422.9" r="1.6"/></g>
<g fill="#663399"><circle cx="596.4" cy="442.7" r="1.6"/><circle cx="598.9" cy="423.2" r="1.6"/></g>
<g fill="#e31a1c"><circle cx="544.7" cy="418" r="1.6"/></g>
<g fill="#663399"><circle cx="484.7" cy="390.6" r="1.6"/></g>
<g fill="#e31a1c"><circle cx="592.3" cy="429.9" r="1.6"/><circle cx="578.4" cy="448.9" r="1.6"/></g>
<g fill="#1f72b8"><circle cx="632.1" cy="418.4" r="1.6"/></g>
<g fill="#2ca02c"><circle cx="445.4" cy="346.1" r="1.6"/></g>
<g fill="#663399"><circle cx="524.2" cy="389" r="1.6"/></g>
<g fill="#e31a1c"><circle cx="618.2" cy="355.6" r="1.6"/><circle cx="632.7" cy="396.1" r="1.6"/><circle cx="466.1" cy="429.3" r="1.6"/></g>
<g fill="#2ca02c"><circle cx="636.1" cy="386.8" r="1.6"/></g>
<g fill="#e31a1c"><circle cx="486.7" cy="402.7" r="1.6"/><circle cx="568.9" cy="399" r="1.6"/></g>
<g fill="#663399"><circle cx="481.9" cy="395.5" r="1.6"/></g>
<g fill="#2ca02c"><circle cx="621.3" cy="446" r="1.6"/></g>
<g fill="#e31a1c"><circle cx="634.5" cy="458.2" r="1.6"/></g>
<g fill="#2ca02c"><circle cx="624.5" cy="428.7" r="1.6"/></g>
<g fill="#e31a1c"><circle cx="497.3" cy="423.2" r="1.6"/><circle cx="467.1" cy="398.9" r="1.6"/><circle cx="642" cy="405.7" r="1.6"/><circle cx="553.9" cy="467.1" r="1.6"/></g>
<g fill="#663399"><circle cx="600" cy="439.1" r="1.6"/><circle cx="542.9" cy="420.5" r="1.6"/><circle cx="526.7" cy="362.1" r="1.6"/><circle cx="621.9" cy="385.3" r="1.6"/></g>
<g fill="#e31a1c"><circle cx="426.2" cy="404.7" r="1.6"/></g>
<g fill="#663399"><circle cx="612.6" cy="391.5" r="1.6"/><circle cx="602.6" cy="424.7" r="1.6"/></g>
<g fill="#e31a1c"><circle cx="450.5" cy="424" r="1.6"/><circle cx="507.5" cy="402" r="1.6"/></g>
<g fill="#2ca02c"><circle cx="634.9" cy="411.2" r="1.6"/></g>
<g fill="#663399"><circle cx="603.4" cy="459.9" r="1.6"/><circle cx="615.2" cy="396.4" r="1.6"/></g>
<g fill="#e31a1c"><circle cx="618.8" cy="393.6" r="1.6"/><circle cx="452.6" cy="427.3" r="1.6"/><circle cx="584.3" cy="370.7" r="1.6"/></g>
<g fill="#663399"><circle cx="505.1" cy="440.7" r="1.6"/></g>
<g fill="#2ca02c"><circle cx="595.3" cy="438.1" r="1.6"/></g>
<g fill="#663399"><circle cx="576" cy="438.7" r="1.6"/></g>
<g fill="#1f72b8"><circle cx="581.4" cy="434.3" r="1.6"/></g>
<g fill="#663399"><circle cx="599.6" cy="419.4" r="1.6"/><circle cx="628.2" cy="402.6" r="1.6"/><circle cx="558.6" cy="387.2" r="1.6"/></g>
<g fill="#e31a1c"><circle cx="518.9" cy="410" r="1.6"/></g>
<g fill="#663399"><circle cx="511.5" cy="432.3" r="1.6"/><circle cx="636.7" cy="389.4" r="1.6"/></g>
<g fill="#2ca02c"><circle cx="634.3" cy="415.8" r="1.6"/></g>
<g fill="#663399"><circle cx="607.5" cy="424.5" r="1.6"/></g>
<g fill="#e31a1c"><circle cx="624.2" cy="433.3" r="1.6"/></g>
<g fill="#663399"><circle cx="645.8" cy="424.8" r="1.6"/></g>
<g fill="#e31a1c"><circle cx="574.1" cy="414.9" r="1.6"/></g>
<g fill="#1f72b8"><circle cx="580.6" cy="401.5" r="1.6"/></g>
<g fill="#2ca02c"><circle cx="607.8" cy="471.6" r="1.6"/></g>
<g fill="#e31a1c"><circle cx="574.6" cy="404.6" r="1.6"/><circle cx="544.1" cy="422.2" r="1.6"/><circle cx="604.1" cy="452.1" r="1.6"/></g>
<g fill="#663399"><circle cx="564.8" cy="379.6" r="1.6"/><circle cx="623.7" cy="408.5" r="1.6"/><circle cx="607.5" cy="394.9" r="1.6"/></g>
<g fill="#e31a1c"><circle cx="634.4" cy="448" r="1.6"/></g>
<g fill="#1f72b8"><circle cx="545.2" cy="409" r="1.6"/></g>
<g fill="#663399"><circle cx="602.3" cy="458" r="1.6"/><circle cx="582.7" cy="425.1" r="1.6"/></g>
<g fill="#e31a1c"><circle cx="646.3" cy="444.9" r="1.6"/><circle cx="546.8" cy="423.1" r="1.6"/></g>
<g fill="#663399"><circle cx="530.7" cy="387.9" r="1.6"/><circle cx="545" cy="388.5" r="1.6"/><circle cx="609.4" cy="420.4" r="1.6"/><circle cx="543.2" cy="392" r="1.6"/><circle cx="563.7" cy="423.1" r="1.6"/></g>
<g fill="#2ca02c"><circle cx="507.4" cy="418.1" r="1.6"/></g>
<g fill="#e31a1c"><circle cx="553.2" cy="413.3" r="1.6"/><circle cx="641.9" cy="447.7" r="1.6"/></g>
<g fill="#663399"><circle cx="588.5" cy="439.3" r="1.6"/></g>
<g fill="#e31a1c"><circle cx="618" cy="422.9" r="1.6"/><circle cx="482.9" cy="456.8" r="1.6"/></g>
<g fill="#663399"><circle cx="586.2" cy="415.6" r="1.6"/><circle cx="581.6" cy="459.7" r="1.6"/></g>
<g fill="#2ca02c"><circle cx="498" cy="428.4" r="1.6"/></g>
<g fill="#e31a1c"><circle cx="584.4" cy="392.2" r="1.6"/><circle cx="600.9" cy="390" r="1.6"/></g>
<g fill="#2ca02c"><circle cx="595" cy="406.9" r="1.6"/></g>
<g fill="#e31a1c"><circle cx="598.2" cy="461.1" r="1.6"/></g>
<g fill="#663399"><circle cx="453.5" cy="426.2" r="1.6"/></g>
<g fill="#e31a1c"><circle cx="571.1" cy="420.5" r="1.6"/></g>
<g fill="#1f72b8"><circle cx="634.8" cy="400.5" r="1.6"/></g>
<g fill="#e31a1c"><circle cx="587.1" cy="400.4" r="1.6"/><circle cx="499.2" cy="451.6" r="1.6"/><circle cx="605.4" cy="452.2" r="1.6"/></g>
<g fill="#663399"><circle cx="622.7" cy="468.7" r="1.6"/></g>
<g fill="#e31a1c"><circle cx="624.1" cy="454.9" r="1.6"/></g>
<g fill="#663399"><circle cx="534.1" cy="414.9" r="1.6"/></g>
<g fill="#e31a1c"><circle cx="570.3" cy="363" r="1.6"/><circle cx="609.5" cy="430.3" r="1.6"/></g>
<g fill="#663399"><circle cx="627.3" cy="470.4" r="1.6"/><circle cx="619.6" cy="435.6" r="1.6"/><circle cx="604.8" cy="417.5" r="1.6"/><circle cx="624.7" cy="413.8" r="1.6"/></g>
<g fill="#e31a1c"><circle cx="568.8" cy="465.9" r="1.6"/><circle cx="644.8" cy="416" r="1.6"/></g>
<g fill="#663399"><circle cx="587.2" cy="426.3" r="1.6"/></g>
<g fill="#e31a1c"><circle cx="611.9" cy="394.5" r="1.6"/><circle cx="601.4" cy="404.8" r="1.6"/><circle cx="615.2" cy="392.3" r="1.6"/></g>
<g fill="#1f72b8"><circle cx="546" cy="423.8" r="1.6"/></g>
<g fill="#663399"><circle cx="615.8" cy="440" r="1.6"/></g>
<g fill="#e31a1c"><circle cx="643.5" cy="423.3" r="1.6"/></g>
<g fill="#2ca02c"><circle cx="581.1" cy="442.8" r="1.6"/><circle cx="516.5" cy="402.8" r="1.6"/><circle cx="576.9" cy="435.4" r="1.6"/></g>
<g fill="#e31a1c"><circle cx="538.2" cy="427.4" r="1.6"/></g>
<g fill="#2ca02c"><circle cx="454.9" cy="378.5" r="1.6"/></g>
<g fill="#663399"><circle cx="605" cy="477.2" r="1.6"/><circle cx="579.2" cy="435" r="1.6"/><circle cx="610.9" cy="373.3" r="1.6"/></g>
<g fill="#e31a1c"><circle cx="599.4" cy="393.6" r="1.6"/></g>
<g fill="#1f72b8"><circle cx="557.7" cy="405.7" r="1.6"/></g>
<g fill="#e31a1c"><circle cx="548.3" cy="397.3" r="1.6"/><circle cx="569" cy="404.3" r="1.6"/></g>
<g fill="#663399"><circle cx="549" cy="407.3" r="1.6"/><circle cx="624.3" cy="414.4" r="1.6"/><circle cx="597.9" cy="401" r="1.6"/><circle cx="563" cy="391" r="1.6"/><circle cx="560.5" cy="400.3" r="1.6"/><circle cx="626.6" cy="421.5" r="1.6"/></g>
<g fill="#e31a1c"><circle cx="575.8" cy="390.7" r="1.6"/></g>
<g fill="#663399"><circle cx="515.1" cy="366" r="1.6"/><circle cx="636.4" cy="415.5" r="1.6"/><circle cx="596" cy="441.1" r="1.6"/><circle cx="561.4" cy="417.4" r="1.6"/></g>
<g fill="#2ca02c"><circle cx="607" cy="423.8" r="1.6"/></g>
<g fill="#e31a1c"><circle cx="451.6" cy="402.8" r="1.6"/></g>
<g fill="#663399"><circle cx="595.6" cy="439.1" r="1.6"/></g>
<g fill="#e31a1c"><circle cx="579.7" cy="455" r="1.6"/><circle cx="521.6" cy="396.3" r="1.6"/></g>
<g fill="#663399"><circle cx="599.6" cy="453.3" r="1.6"/><circle cx="614.5" cy="412.6" r="1.6"/><circle cx="577" cy="429.2" r="1.6"/><circle cx="476.9" cy="425.1" r="1.6"/></g>
<g fill="#1f72b8"><circle cx="591.1" cy="410.1" r="1.6"/></g>
<g fill="#663399"><circle cx="620.2" cy="383.9" r="1.6"/></g>
<g fill="#1f72b8"><circle cx="599.9" cy="432.2" r="1.6"/></g>
<g fill="#663399"><circle cx="582.6" cy="468.7" r="1.6"/></g>
<g fill="#e31a1c"><circle cx="629.4" cy="432" r="1.6"/></g>
<g fill="#663399"><circle cx="594.2" cy="429.8" r="1.6"/></g>
<g fill="#e31a1c"><circle cx="587.1" cy="469.1" r="1.6"/><circle cx="613.1" cy="406.2" r="1.6"/><circle cx="464" cy="374" r="1.6"/></g>
<g fill="#663399"><circle cx="603.6" cy="417" r="1.6"/><circle cx="609.9" cy="356.5" r="1.6"/></g>
<g fill="#1f72b8"><circle cx="609.1" cy="400.2" r="1.6"/><circle cx="503.8" cy="423.6" r="1.6"/></g>
<g fill="#2ca02c"><circle cx="605.4" cy="395.3" r="1.6"/></g>
<g fill="#e31a1c"><circle cx="612.5" cy="441.6" r="1.6"/></g>
<g fill="#663399"><circle cx="521.1" cy="379.8" r="1.6"/><circle cx="567.8" cy="403.6" r="1.6"/></g>
<g fill="#e31a1c"><circle cx="556" cy="411.2" r="1.6"/></g>
<g fill="#663399"><circle cx="621.4" cy="446.6" r="1.6"/><circle cx="541.4" cy="469.4" r="1.6"/><circle cx="601" cy="438" r="1.6"/><circle cx="627.7" cy="441.7" r="1.6"/><circle cx="536.5" cy="440.9" r="1.6"/><circle cx="588.7" cy="456.4" r="1.6"/></g>
<g fill="#e31a1c"><circle cx="588.3" cy="452.5" r="1.6"/></g>
<g fill="#663399"><circle cx="638" cy="396.8" r="1.6"/></g>
<g fill="#e31a1c"><circle cx="574.6" cy="426.4" r="1.6"/><circle cx="642.5" cy="442.3" r="1.6"/></g>
<g fill="#2ca02c"><circle cx="488.9" cy="361.6" r="1.6"/></g>
<g fill="#663399"><circle cx="576.9" cy="402.3" r="1.6"/></g>
<g fill="#e31a1c"><circle cx="547.8" cy="422.6" r="1.6"/><circle cx="526.1" cy="411.1" r="1.6"/></g>
<g fill="#663399"><circle cx="571" cy="465.5" r="1.6"/></g>
<g fill="#e31a1c"><circle cx="569.3" cy="430.6" r="1.6"/></g>
<g fill="#663399"><circle cx="555.9" cy="414.8" r="1.6"/></g>
<g fill="#2ca02c"><circle cx="577.6" cy="337" r="1.6"/></g>
<g fill="#e31a1c"><circle cx="618.4" cy="444.3" r="1.6"/><circle cx="629.4" cy="452.8" r="1.6"/><circle cx="632.6" cy="443.1" r="1.6"/></g>
<g fill="#663399"><circle cx="598.5" cy="415.9" r="1.6"/><circle cx="575.5" cy="446.8" r="1.6"/></g>
<g fill="#e31a1c"><circle cx="481.9" cy="427.4" r="1.6"/></g>
<g fill="#663399"><circle cx="561.9" cy="460.1" r="1.6"/></g>
<g fill="#e31a1c"><circle cx="488.8" cy="409" r="1.6"/><circle cx="543.9" cy="439.5" r="1.6"/></g>
<g fill="#663399"><circle cx="606.5" cy="414.7" r="1.6"/></g>
<g fill="#e31a1c"><circle cx="561.1" cy="420.6" r="1.6"/><circle cx="620.4" cy="452.4" r="1.6"/><circle cx="608.6" cy="457.7" r="1.6"/><circle cx="547.6" cy="398" r="1.6"/></g>
<g fill="#663399"><circle cx="552.9" cy="461.6" r="1.6"/></g>
<g fill="#e31a1c"><circle cx="525.7" cy="403.3" r="1.6"/></g>
<g fill="#663399"><circle cx="644.3" cy="450.8" r="1.6"/></g>
<g fill="#1f72b8"><circle cx="643.9" cy="398.7" r="1.6"/><circle cx="618.1" cy="397.6" r="1.6"/></g>
<g fill="#663399"><circle cx="607.1" cy="433.1" r="1.6"/></g>
<g fill="#e31a1c"><circle cx="631.8" cy="408" r="1.6"/></g>
<g fill="#663399"><circle cx="612.5" cy="431.8" r="1.6"/><circle cx="591.9" cy="437.5" r="1.6"/><circle cx="642.2" cy="417.2" r="1.6"/><circle cx="576.8" cy="381.9" r="1.6"/><circle cx="633.4" cy="479.1" r="1.6"/></g>
<g fill="#2ca02c"><circle cx="558.7" cy="411.5" r="1.6"/></g>
<g fill="#e31a1c"><circle cx="557.9" cy="391.6" r="1.6"/><circle cx="607.1" cy="429.5" r="1.6"/></g>
<g fill="#663399"><circle cx="468.8" cy="429.2" r="1.6"/></g>
<g fill="#2ca02c"><circle cx="636.1" cy="362.3" r="1.6"/></g>
<g fill="#e31a1c"><circle cx="569.9" cy="437.3" r="1.6"/><circle cx="623.2" cy="445.6" r="1.6"/></g>
<g fill="#663399"><circle cx="585.7" cy="430.2" r="1.6"/><circle cx="566" cy="422.9" r="1.6"/></g>
<g fill="#e31a1c"><circle cx="564.4" cy="410" r="1.6"/></g>
<g fill="#1f72b8"><circle cx="612.7" cy="404.6" r="1.6"/></g>
<g fill="#e31a1c"><circle cx="596.8" cy="432.2" r="1.6"/></g>
<g fill="#663399"><circle cx="568.1" cy="472.2" r="1.6"/><circle cx="614.4" cy="429.8" r="1.6"/><circle cx="607.9" cy="424.1" r="1.6"/><circle cx="595.6" cy="385.4" r="1.6"/></g>
<g fill="#e31a1c"><circle cx="595.8" cy="482.1" r="1.6"/></g>
<g fill="#663399"><circle cx="623" cy="461.1" r="1.6"/></g>
<g fill="#2ca02c"><circle cx="593.4" cy="428.6" r="1.6"/></g>
<g fill="#663399"><circle cx="579.5" cy="464.7" r="1.6"/><circle cx="609.6" cy="389.6" r="1.6"/></g>
<g fill="#e31a1c"><circle cx="515.7" cy="413.1" r="1.6"/><circle cx="583.1" cy="377.9" r="1.6"/></g>
<g fill="#2ca02c"><circle cx="499.5" cy="425.1" r="1.6"/><circle cx="615.6" cy="423" r="1.6"/></g>
<g fill="#e31a1c"><circle cx="639.4" cy="406.1" r="1.6"/></g>
<g fill="#663399"><circle cx="648.1" cy="441" r="1.6"/></g>
<g fill="#e31a1c"><circle cx="503.8" cy="455.5" r="1.6"/><circle cx="577.9" cy="391.1" r="1.6"/></g>
<g fill="#2ca02c"><circle cx="550" cy="379.1" r="1.6"/><circle cx="589.1" cy="423.4" r="1.6"/></g>
<g fill="#663399"><circle cx="551" cy="386.1" r="1.6"/></g>
<g fill="#e31a1c"><circle cx="527.8" cy="401.3" r="1.6"/><circle cx="560" cy="414.7" r="1.6"/><circle cx="467.9" cy="422.8" r="1.6"/><circle cx="616.5" cy="361.2" r="1.6"/><circle cx="609.1" cy="467" r="1.6"/></g>
<g fill="#663399"><circle cx="630.2" cy="442.6" r="1.6"/></g>
<g fill="#e31a1c"><circle cx="642.9" cy="437.7" r="1.6"/><circle cx="599.8" cy="471.7" r="1.6"/><circle cx="634" cy="450.7" r="1.6"/><circle cx="558.2" cy="416.9" r="1.6"/></g>
<g fill="#663399"><circle cx="621" cy="420.9" r="1.6"/><circle cx="610.3" cy="419.6" r="1.6"/></g>
<g fill="#2ca02c"><circle cx="521.8" cy="393.5" r="1.6"/></g>
<g fill="#663399"><circle cx="602.3" cy="428.9" r="1.6"/><circle cx="577.4" cy="426.3" r="1.6"/></g>
<g fill="#e31a1c"><circle cx="631.7" cy="415.6" r="1.6"/></g>
<g fill="#1f72b8"><circle cx="586.1" cy="431.6" r="1.6"/></g>
<g fill="#e31a1c"><circle cx="539.9" cy="423" r="1.6"/></g>
<g fill="#663399"><circle cx="599.9" cy="428.7" r="1.6"/></g>
<g fill="#e31a1c"><circle cx="553.7" cy="388" r="1.6"/><circle cx="575.5" cy="426.1" r="1.6"/></g>
<g fill="#663399"><circle cx="541" cy="408.7" r="1.6"/><circle cx="606" cy="422.9" r="1.6"/></g>
<g fill="#e31a1c"><circle cx="579.6" cy="426.6" r="1.6"/></g>
<g fill="#2ca02c"><circle cx="521.5" cy="386" r="1.6"/></g>
<g fill="#e31a1c"><circle cx="616.5" cy="433.4" r="1.6"/></g>
<g fill="#1f72b8"><circle cx="588.6" cy="389" r="1.6"/></g>
<g fill="#e31a1c"><circle cx="633" cy="414.6" r="1.6"/></g>
<g fill="#663399"><circle cx="611.6" cy="407.3" r="1.6"/></g>
<g fill="#2ca02c"><circle cx="560.6" cy="393.7" r="1.6"/></g>
<g fill="#e31a1c"><circle cx="582.3" cy="422.1" r="1.6"/></g>
<g fill="#663399"><circle cx="524.9" cy="457.2" r="1.6"/></g>
<g fill="#e31a1c"><circle cx="587.5" cy="443.9" r="1.6"/></g>
<g fill="#2ca02c"><circle cx="553.7" cy="410.5" r="1.6"/></g>
<g fill="#e31a1c"><circle cx="561.2" cy="441.4" r="1.6"/></g>
<g fill="#663399"><circle cx="600.6" cy="469.7" r="1.6"/><circle cx="605.1" cy="454.1" r="1.6"/></g>
<g fill="#e31a1c"><circle cx="563.8" cy="424.5" r="1.6"/><circle cx="614.6" cy="444.1" r="1.6"/></g>
<g fill="#663399"><circle cx="541" cy="405" r="1.6"/></g>
<g fill="#e31a1c"><circle cx="621.2" cy="442.4" r="1.6"/><circle cx="564.5" cy="407.1" r="1.6"/></g>
<g fill="#663399"><circle cx="575.4" cy="416" r="1.6"/><circle cx="563.1" cy="334.3" r="1.6"/></g>
<g fill="#2ca02c"><circle cx="574.3" cy="457.6" r="1.6"/></g>
<g fill="#663399"><circle cx="565.1" cy="416" r="1.6"/></g>
<g fill="#e31a1c"><circle cx="563.5" cy="426.5" r="1.6"/></g>
<g fill="#663399"><circle cx="596.2" cy="409.1" r="1.6"/></g>
<g fill="#e31a1c"><circle cx="618.2" cy="445.5" r="1.6"/><circle cx="577.7" cy="467.9" r="1.6"/></g>
<g fill="#2ca02c"><circle cx="632.9" cy="370.9" r="1.6"/></g>
<g fill="#663399"><circle cx="569.6" cy="505.2" r="1.6"/><circle cx="613.5" cy="423.3" r="1.6"/></g>
<g fill="#e31a1c"><circle cx="616.4" cy="470.3" r="1.6"/><circle cx="565.2" cy="398.1" r="1.6"/></g>
<g fill="#2ca02c"><circle cx="526.8" cy="460.4" r="1.6"/></g>
<g fill="#e31a1c"><circle cx="572.7" cy="377.1" r="1.6"/><circle cx="498.8" cy="364.8" r="1.6"/></g>
<g fill="#2ca02c"><circle cx="608.4" cy="375.3" r="1.6"/></g>
<g fill="#663399"><circle cx="583.7" cy="460.1" r="1.6"/><circle cx="556.2" cy="403.4" r="1.6"/></g>
<g fill="#e31a1c"><circle cx="497.4" cy="411.2" r="1.6"/></g>
<g fill="#663399"><circle cx="578.7" cy="383.3" r="1.6"/></g>
<g fill="#e31a1c"><circle cx="619.2" cy="393.7" r="1.6"/><circle cx="631.9" cy="408.1" r="1.6"/><circle cx="624.5" cy="429.7" r="1.6"/><circle cx="536.9" cy="405.4" r="1.6"/></g>
<g fill="#663399"><circle cx="585.2" cy="444.6" r="1.6"/></g>
<g fill="#2ca02c"><circle cx="602.8" cy="384.4" r="1.6"/></g>
<g fill="#e31a1c"><circle cx="536.1" cy="424.8" r="1.6"/><circle cx="565.3" cy="381.1" r="1.6"/></g>
<g fill="#663399"><circle cx="535.7" cy="362.2" r="1.6"/><circle cx="549.3" cy="393.7" r="1.6"/><circle cx="591.7" cy="421.2" r="1.6"/></g>
<g fill="#e31a1c"><circle cx="527" cy="479" r="1.6"/><circle cx="640.2" cy="413.7" r="1.6"/><circle cx="611.6" cy="392.9" r="1.6"/><circle cx="442.5" cy="441.7" r="1.6"/><circle cx="424.9" cy="328.3" r="1.6"/></g>
<g fill="#663399"><circle cx="523.1" cy="450.8" r="1.6"/><circle cx="618.4" cy="405.2" r="1.6"/></g>
<g fill="#e31a1c"><circle cx="606.1" cy="455.6" r="1.6"/></g>
<g fill="#663399"><circle cx="544.3" cy="431.6" r="1.6"/></g>
<g fill="#e31a1c"><circle cx="560" cy="379.9" r="1.6"/><circle cx="607.2" cy="410" r="1.6"/></g>
<g fill="#663399"><circle cx="628.2" cy="361.9" r="1.6"/><circle cx="490.8" cy="402" r="1.6"/></g>
<g fill="#e31a1c"><circle cx="472.5" cy="387.4" r="1.6"/><circle cx="582.3" cy="445.2" r="1.6"/></g>
<g fill="#663399"><circle cx="608.6" cy="415.3" r="1.6"/><circle cx="584.4" cy="410.6" r="1.6"/><circle cx="566.5" cy="384.3" r="1.6"/></g>
<g fill="#1f72b8"><circle cx="605.8" cy="409.4" r="1.6"/></g>
<g fill="#e31a1c"><circle cx="573.1" cy="444.3" r="1.6"/><circle cx="653.7" cy="428" r="1.6"/></g>
<g fill="#1f72b8"><circle cx="600.6" cy="418.5" r="1.6"/></g>
<g fill="#663399"><circle cx="613.6" cy="371.6" r="1.6"/></g>
<g fill="#e31a1c"><circle cx="613.3" cy="398.6" r="1.6"/><circle cx="621.9" cy="401.6" r="1.6"/></g>
<g fill="#663399"><circle cx="604.5" cy="432" r="1.6"/><circle cx="595.4" cy="389.2" r="1.6"/></g>
<g fill="#2ca02c"><circle cx="577.4" cy="403.9" r="1.6"/></g>
<g fill="#e31a1c"><circle cx="631.8" cy="380.1" r="1.6"/></g>
<g fill="#663399"><circle cx="630.4" cy="428.5" r="1.6"/><circle cx="547.1" cy="458.9" r="1.6"/></g>
<g fill="#1f72b8"><circle cx="601.8" cy="411.6" r="1.6"/></g>
<g fill="#663399"><circle cx="603.6" cy="400.7" r="1.6"/></g>
<g fill="#e31a1c"><circle cx="584.3" cy="467" r="1.6"/><circle cx="588.3" cy="431.7" r="1.6"/><circle cx="572.3" cy="433.9" r="1.6"/><circle cx="562.3" cy="422" r="1.6"/></g>
<g fill="#663399"><circle cx="558.8" cy="390.1" r="1.6"/></g>
<g fill="#e31a1c"><circle cx="552.2" cy="519" r="1.6"/></g>
<g fill="#663399"><circle cx="598" cy="434.8" r="1.6"/><circle cx="491.5" cy="409.7" r="1.6"/><circle cx="590.2" cy="407.8" r="1.6"/><circle cx="496.2" cy="374.1" r="1.6"/></g>
<g fill="#e31a1c"><circle cx="610.8" cy="439.1" r="1.6"/></g>
<g fill="#663399"><circle cx="581.3" cy="413.8" r="1.6"/></g>
<g fill="#e31a1c"><circle cx="583.7" cy="413" r="1.6"/></g>
<g fill="#663399"><circle cx="627.5" cy="452.6" r="1.6"/></g>
<g fill="#e31a1c"><circle cx="588.6" cy="393.2" r="1.6"/><circle cx="561.7" cy="385.8" r="1.6"/></g>
</g>
<circle cx="186.5" cy="71.7" r="3.55" fill="#fff" stroke="#1f72b8" stroke-width="2.1"/>
<circle cx="208.2" cy="100.8" r="3.55" fill="#fff" stroke="#2ca02c" stroke-width="2.1"/>
<circle cx="232.7" cy="142.5" r="3.55" fill="#fff" stroke="#e31a1c" stroke-width="2.1"/>
<circle cx="263.4" cy="169.7" r="3.55" fill="#fff" stroke="#663399" stroke-width="2.1"/>
<circle cx="508.5" cy="97.5" r="3.55" fill="#fff" stroke="#1f72b8" stroke-width="2.1"/>
<circle cx="532" cy="106.5" r="3.55" fill="#fff" stroke="#2ca02c" stroke-width="2.1"/>
<circle cx="560.5" cy="116.5" r="3.55" fill="#fff" stroke="#e31a1c" stroke-width="2.1"/>
<circle cx="596" cy="113.5" r="3.55" fill="#fff" stroke="#663399" stroke-width="2.1"/>
<circle cx="152.5" cy="400.5" r="3.55" fill="#fff" stroke="#1f72b8" stroke-width="2.1"/>
<circle cx="158" cy="411.5" r="3.55" fill="#fff" stroke="#2ca02c" stroke-width="2.1"/>
<circle cx="187.5" cy="423" r="3.55" fill="#fff" stroke="#e31a1c" stroke-width="2.1"/>
<circle cx="229" cy="419" r="3.55" fill="#fff" stroke="#663399" stroke-width="2.1"/>
<circle cx="587.7" cy="396.5" r="3.55" fill="#fff" stroke="#1f72b8" stroke-width="2.1"/>
<circle cx="587.7" cy="409" r="3.55" fill="#fff" stroke="#2ca02c" stroke-width="2.1"/>
<circle cx="587.7" cy="417.5" r="3.55" fill="#fff" stroke="#663399" stroke-width="2.1"/>
<circle cx="575.6" cy="421.7" r="3.55" fill="#fff" stroke="#e31a1c" stroke-width="2.1"/>
<rect x="58" y="191.3" width="61.5" height="49.7" fill="#fff" stroke="#aaa" stroke-width="0.8"/>
<circle cx="70.7" cy="198" r="3.1" fill="#1f72b8"/>
<text x="84.5" y="201.6" font-size="10">373.0 K</text>
<circle cx="70.7" cy="210.1" r="3.1" fill="#2ca02c"/>
<text x="84.5" y="213.7" font-size="10">375.8 K</text>
<circle cx="70.7" cy="222.2" r="3.1" fill="#e31a1c"/>
<text x="84.5" y="225.8" font-size="10">377.6 K</text>
<circle cx="70.7" cy="234.3" r="3.1" fill="#663399"/>
<text x="84.5" y="237.9" font-size="10">380.6 K</text>
<g font-size="10.2"><path d="M48.5 248v4M48.5 18.2v4M59.3 248v2M59.3 18.2v2M65.6 248v2M65.6 18.2v2M70.1 248v2M70.1 18.2v2M73.6 248v2M73.6 18.2v2M76.4 248v2M76.4 18.2v2M78.8 248v2M78.8 18.2v2M80.9 248v2M80.9 18.2v2M82.7 248v2M82.7 18.2v2M84.4 248v4M84.4 18.2v4M95.2 248v2M95.2 18.2v2M101.5 248v2M101.5 18.2v2M106 248v2M106 18.2v2M109.4 248v2M109.4 18.2v2M112.3 248v2M112.3 18.2v2M114.7 248v2M114.7 18.2v2M116.7 248v2M116.7 18.2v2M118.6 248v2M118.6 18.2v2M120.2 248v4M120.2 18.2v4M131 248v2M131 18.2v2M137.3 248v2M137.3 18.2v2M141.8 248v2M141.8 18.2v2M145.3 248v2M145.3 18.2v2M148.1 248v2M148.1 18.2v2M150.5 248v2M150.5 18.2v2M152.6 248v2M152.6 18.2v2M154.4 248v2M154.4 18.2v2M156.1 248v4M156.1 18.2v4M166.9 248v2M166.9 18.2v2M173.2 248v2M173.2 18.2v2M177.7 248v2M177.7 18.2v2M181.2 248v2M181.2 18.2v2M184 248v2M184 18.2v2M186.4 248v2M186.4 18.2v2M188.5 248v2M188.5 18.2v2M190.3 248v2M190.3 18.2v2M191.9 248v4M191.9 18.2v4M202.7 248v2M202.7 18.2v2M209.1 248v2M209.1 18.2v2M213.5 248v2M213.5 18.2v2M217 248v2M217 18.2v2M219.9 248v2M219.9 18.2v2M222.3 248v2M222.3 18.2v2M224.3 248v2M224.3 18.2v2M226.2 248v2M226.2 18.2v2M227.8 248v4M227.8 18.2v4M238.6 248v2M238.6 18.2v2M244.9 248v2M244.9 18.2v2M249.4 248v2M249.4 18.2v2M252.9 248v2M252.9 18.2v2M255.7 248v2M255.7 18.2v2M258.1 248v2M258.1 18.2v2M260.2 248v2M260.2 18.2v2M262 248v2M262 18.2v2M263.7 248v4M263.7 18.2v4M274.5 248v2M274.5 18.2v2M280.8 248v2M280.8 18.2v2M285.3 248v2M285.3 18.2v2M288.7 248v2M288.7 18.2v2M291.6 248v2M291.6 18.2v2M294 248v2M294 18.2v2M296.1 248v2M296.1 18.2v2M297.9 248v2M297.9 18.2v2M299.5 248v4M299.5 18.2v4M310.3 248v2M310.3 18.2v2M316.6 248v2M316.6 18.2v2M321.1 248v2M321.1 18.2v2M324.6 248v2M324.6 18.2v2M327.4 248v2M327.4 18.2v2M329.8 248v2M329.8 18.2v2M331.9 248v2M331.9 18.2v2M333.8 248v2M333.8 18.2v2M335.4 248v4M335.4 18.2v4M48.5 248h-4M335.4 248h-4M48.5 236.5h-2M335.4 236.5h-2M48.5 229.7h-2M335.4 229.7h-2M48.5 224.9h-2M335.4 224.9h-2M48.5 221.2h-2M335.4 221.2h-2M48.5 218.2h-2M335.4 218.2h-2M48.5 215.6h-2M335.4 215.6h-2M48.5 213.4h-2M335.4 213.4h-2M48.5 211.5h-2M335.4 211.5h-2M48.5 209.7h-4M335.4 209.7h-4M48.5 198.2h-2M335.4 198.2h-2M48.5 191.4h-2M335.4 191.4h-2M48.5 186.6h-2M335.4 186.6h-2M48.5 182.9h-2M335.4 182.9h-2M48.5 179.9h-2M335.4 179.9h-2M48.5 177.3h-2M335.4 177.3h-2M48.5 175.1h-2M335.4 175.1h-2M48.5 173.2h-2M335.4 173.2h-2M48.5 171.4h-4M335.4 171.4h-4M48.5 159.9h-2M335.4 159.9h-2M48.5 153.1h-2M335.4 153.1h-2M48.5 148.3h-2M335.4 148.3h-2M48.5 144.6h-2M335.4 144.6h-2M48.5 141.6h-2M335.4 141.6h-2M48.5 139h-2M335.4 139h-2M48.5 136.8h-2M335.4 136.8h-2M48.5 134.9h-2M335.4 134.9h-2M48.5 133.1h-4M335.4 133.1h-4M48.5 121.6h-2M335.4 121.6h-2M48.5 114.8h-2M335.4 114.8h-2M48.5 110h-2M335.4 110h-2M48.5 106.3h-2M335.4 106.3h-2M48.5 103.3h-2M335.4 103.3h-2M48.5 100.7h-2M335.4 100.7h-2M48.5 98.5h-2M335.4 98.5h-2M48.5 96.6h-2M335.4 96.6h-2M48.5 94.8h-4M335.4 94.8h-4M48.5 83.3h-2M335.4 83.3h-2M48.5 76.5h-2M335.4 76.5h-2M48.5 71.7h-2M335.4 71.7h-2M48.5 68h-2M335.4 68h-2M48.5 65h-2M335.4 65h-2M48.5 62.4h-2M335.4 62.4h-2M48.5 60.2h-2M335.4 60.2h-2M48.5 58.3h-2M335.4 58.3h-2M48.5 56.5h-4M335.4 56.5h-4M48.5 45h-2M335.4 45h-2M48.5 38.2h-2M335.4 38.2h-2M48.5 33.4h-2M335.4 33.4h-2M48.5 29.7h-2M335.4 29.7h-2M48.5 26.7h-2M335.4 26.7h-2M48.5 24.1h-2M335.4 24.1h-2M48.5 21.9h-2M335.4 21.9h-2M48.5 20h-2M335.4 20h-2M48.5 18.2h-4M335.4 18.2h-4" stroke="#1a1a1a" stroke-width="1" fill="none"/>
<rect x="48.5" y="18.2" width="286.9" height="229.8" fill="none" stroke="#1a1a1a" stroke-width="1.2"/>
<text transform="translate(48.5 264.5) scale(1 1.08)" text-anchor="middle">10<tspan font-size="6.8" dy="-4.1">-4</tspan></text>
<text transform="translate(84.4 264.5) scale(1 1.08)" text-anchor="middle">10<tspan font-size="6.8" dy="-4.1">-3</tspan></text>
<text transform="translate(120.2 264.5) scale(1 1.08)" text-anchor="middle">10<tspan font-size="6.8" dy="-4.1">-2</tspan></text>
<text transform="translate(156.1 264.5) scale(1 1.08)" text-anchor="middle">10<tspan font-size="6.8" dy="-4.1">-1</tspan></text>
<text transform="translate(191.9 264.5) scale(1 1.08)" text-anchor="middle">10<tspan font-size="6.8" dy="-4.1">0</tspan></text>
<text transform="translate(227.8 264.5) scale(1 1.08)" text-anchor="middle">10<tspan font-size="6.8" dy="-4.1">1</tspan></text>
<text transform="translate(263.7 264.5) scale(1 1.08)" text-anchor="middle">10<tspan font-size="6.8" dy="-4.1">2</tspan></text>
<text transform="translate(299.5 264.5) scale(1 1.08)" text-anchor="middle">10<tspan font-size="6.8" dy="-4.1">3</tspan></text>
<text transform="translate(335.4 264.5) scale(1 1.08)" text-anchor="middle">10<tspan font-size="6.8" dy="-4.1">4</tspan></text>
<text transform="translate(41.6 251.8) scale(1 1.08)" text-anchor="end">10<tspan font-size="6.8" dy="-4.1">-2</tspan></text>
<text transform="translate(41.6 213.5) scale(1 1.08)" text-anchor="end">10<tspan font-size="6.8" dy="-4.1">-1</tspan></text>
<text transform="translate(41.6 175.2) scale(1 1.08)" text-anchor="end">10<tspan font-size="6.8" dy="-4.1">0</tspan></text>
<text transform="translate(41.6 136.9) scale(1 1.08)" text-anchor="end">10<tspan font-size="6.8" dy="-4.1">1</tspan></text>
<text transform="translate(41.6 98.7) scale(1 1.08)" text-anchor="end">10<tspan font-size="6.8" dy="-4.1">2</tspan></text>
<text transform="translate(41.6 60.3) scale(1 1.08)" text-anchor="end">10<tspan font-size="6.8" dy="-4.1">3</tspan></text>
<text transform="translate(41.6 22) scale(1 1.08)" text-anchor="end">10<tspan font-size="6.8" dy="-4.1">4</tspan></text></g>
<g font-size="10.2"><path d="M391.5 248.8v4M391.5 19.2v4M403.8 248.8v2M403.8 19.2v2M411 248.8v2M411 19.2v2M416.1 248.8v2M416.1 19.2v2M420.1 248.8v2M420.1 19.2v2M423.3 248.8v2M423.3 19.2v2M426.1 248.8v2M426.1 19.2v2M428.5 248.8v2M428.5 19.2v2M430.6 248.8v2M430.6 19.2v2M432.4 248.8v4M432.4 19.2v4M444.7 248.8v2M444.7 19.2v2M452 248.8v2M452 19.2v2M457.1 248.8v2M457.1 19.2v2M461 248.8v2M461 19.2v2M464.3 248.8v2M464.3 19.2v2M467 248.8v2M467 19.2v2M469.4 248.8v2M469.4 19.2v2M471.5 248.8v2M471.5 19.2v2M473.4 248.8v4M473.4 19.2v4M485.7 248.8v2M485.7 19.2v2M492.9 248.8v2M492.9 19.2v2M498 248.8v2M498 19.2v2M502 248.8v2M502 19.2v2M505.2 248.8v2M505.2 19.2v2M507.9 248.8v2M507.9 19.2v2M510.3 248.8v2M510.3 19.2v2M512.4 248.8v2M512.4 19.2v2M514.3 248.8v4M514.3 19.2v4M526.6 248.8v2M526.6 19.2v2M533.8 248.8v2M533.8 19.2v2M538.9 248.8v2M538.9 19.2v2M542.9 248.8v2M542.9 19.2v2M546.1 248.8v2M546.1 19.2v2M548.9 248.8v2M548.9 19.2v2M551.2 248.8v2M551.2 19.2v2M553.3 248.8v2M553.3 19.2v2M555.2 248.8v4M555.2 19.2v4M567.5 248.8v2M567.5 19.2v2M574.7 248.8v2M574.7 19.2v2M579.9 248.8v2M579.9 19.2v2M583.8 248.8v2M583.8 19.2v2M587.1 248.8v2M587.1 19.2v2M589.8 248.8v2M589.8 19.2v2M592.2 248.8v2M592.2 19.2v2M594.3 248.8v2M594.3 19.2v2M596.1 248.8v4M596.1 19.2v4M608.5 248.8v2M608.5 19.2v2M615.7 248.8v2M615.7 19.2v2M620.8 248.8v2M620.8 19.2v2M624.8 248.8v2M624.8 19.2v2M628 248.8v2M628 19.2v2M630.7 248.8v2M630.7 19.2v2M633.1 248.8v2M633.1 19.2v2M635.2 248.8v2M635.2 19.2v2M637.1 248.8v4M637.1 19.2v4M649.4 248.8v2M649.4 19.2v2M656.6 248.8v2M656.6 19.2v2M661.7 248.8v2M661.7 19.2v2M665.7 248.8v2M665.7 19.2v2M668.9 248.8v2M668.9 19.2v2M671.7 248.8v2M671.7 19.2v2M674 248.8v2M674 19.2v2M676.1 248.8v2M676.1 19.2v2M678 248.8v4M678 19.2v4M391.5 248.8h-4M678 248.8h-4M391.5 238.9h-2M678 238.9h-2M391.5 233.2h-2M678 233.2h-2M391.5 229.1h-2M678 229.1h-2M391.5 225.9h-2M678 225.9h-2M391.5 223.3h-2M678 223.3h-2M391.5 221.1h-2M678 221.1h-2M391.5 219.2h-2M678 219.2h-2M391.5 217.5h-2M678 217.5h-2M391.5 216h-4M678 216h-4M391.5 206.1h-2M678 206.1h-2M391.5 200.4h-2M678 200.4h-2M391.5 196.3h-2M678 196.3h-2M391.5 193.1h-2M678 193.1h-2M391.5 190.5h-2M678 190.5h-2M391.5 188.3h-2M678 188.3h-2M391.5 186.4h-2M678 186.4h-2M391.5 184.7h-2M678 184.7h-2M391.5 183.2h-4M678 183.2h-4M391.5 173.3h-2M678 173.3h-2M391.5 167.6h-2M678 167.6h-2M391.5 163.5h-2M678 163.5h-2M391.5 160.3h-2M678 160.3h-2M391.5 157.7h-2M678 157.7h-2M391.5 155.5h-2M678 155.5h-2M391.5 153.6h-2M678 153.6h-2M391.5 151.9h-2M678 151.9h-2M391.5 150.4h-4M678 150.4h-4M391.5 140.5h-2M678 140.5h-2M391.5 134.8h-2M678 134.8h-2M391.5 130.7h-2M678 130.7h-2M391.5 127.5h-2M678 127.5h-2M391.5 124.9h-2M678 124.9h-2M391.5 122.7h-2M678 122.7h-2M391.5 120.8h-2M678 120.8h-2M391.5 119.1h-2M678 119.1h-2M391.5 117.6h-4M678 117.6h-4M391.5 107.7h-2M678 107.7h-2M391.5 102h-2M678 102h-2M391.5 97.9h-2M678 97.9h-2M391.5 94.7h-2M678 94.7h-2M391.5 92.1h-2M678 92.1h-2M391.5 89.9h-2M678 89.9h-2M391.5 88h-2M678 88h-2M391.5 86.3h-2M678 86.3h-2M391.5 84.8h-4M678 84.8h-4M391.5 74.9h-2M678 74.9h-2M391.5 69.2h-2M678 69.2h-2M391.5 65.1h-2M678 65.1h-2M391.5 61.9h-2M678 61.9h-2M391.5 59.3h-2M678 59.3h-2M391.5 57.1h-2M678 57.1h-2M391.5 55.2h-2M678 55.2h-2M391.5 53.5h-2M678 53.5h-2M391.5 52h-4M678 52h-4M391.5 42.1h-2M678 42.1h-2M391.5 36.4h-2M678 36.4h-2M391.5 32.3h-2M678 32.3h-2M391.5 29.1h-2M678 29.1h-2M391.5 26.5h-2M678 26.5h-2M391.5 24.3h-2M678 24.3h-2M391.5 22.4h-2M678 22.4h-2M391.5 20.7h-2M678 20.7h-2M391.5 19.2h-4M678 19.2h-4" stroke="#1a1a1a" stroke-width="1" fill="none"/>
<rect x="391.5" y="19.2" width="286.5" height="229.6" fill="none" stroke="#1a1a1a" stroke-width="1.2"/>
<text transform="translate(391.5 265.6) scale(1 1.08)" text-anchor="middle">10<tspan font-size="6.8" dy="-4.1">-3</tspan></text>
<text transform="translate(432.4 265.6) scale(1 1.08)" text-anchor="middle">10<tspan font-size="6.8" dy="-4.1">-2</tspan></text>
<text transform="translate(473.4 265.6) scale(1 1.08)" text-anchor="middle">10<tspan font-size="6.8" dy="-4.1">-1</tspan></text>
<text transform="translate(514.3 265.6) scale(1 1.08)" text-anchor="middle">10<tspan font-size="6.8" dy="-4.1">0</tspan></text>
<text transform="translate(555.2 265.6) scale(1 1.08)" text-anchor="middle">10<tspan font-size="6.8" dy="-4.1">1</tspan></text>
<text transform="translate(596.1 265.6) scale(1 1.08)" text-anchor="middle">10<tspan font-size="6.8" dy="-4.1">2</tspan></text>
<text transform="translate(637.1 265.6) scale(1 1.08)" text-anchor="middle">10<tspan font-size="6.8" dy="-4.1">3</tspan></text>
<text transform="translate(678 265.6) scale(1 1.08)" text-anchor="middle">10<tspan font-size="6.8" dy="-4.1">4</tspan></text>
<text transform="translate(384.6 252.7) scale(1 1.08)" text-anchor="end">10<tspan font-size="6.8" dy="-4.1">-2</tspan></text>
<text transform="translate(384.6 219.8) scale(1 1.08)" text-anchor="end">10<tspan font-size="6.8" dy="-4.1">-1</tspan></text>
<text transform="translate(384.6 187) scale(1 1.08)" text-anchor="end">10<tspan font-size="6.8" dy="-4.1">0</tspan></text>
<text transform="translate(384.6 154.2) scale(1 1.08)" text-anchor="end">10<tspan font-size="6.8" dy="-4.1">1</tspan></text>
<text transform="translate(384.6 121.4) scale(1 1.08)" text-anchor="end">10<tspan font-size="6.8" dy="-4.1">2</tspan></text>
<text transform="translate(384.6 88.6) scale(1 1.08)" text-anchor="end">10<tspan font-size="6.8" dy="-4.1">3</tspan></text>
<text transform="translate(384.6 55.9) scale(1 1.08)" text-anchor="end">10<tspan font-size="6.8" dy="-4.1">4</tspan></text>
<text transform="translate(384.6 23) scale(1 1.08)" text-anchor="end">10<tspan font-size="6.8" dy="-4.1">5</tspan></text></g>
<g font-size="10.2"><path d="M48.5 540v2M48.5 308v2M54.8 540v2M54.8 308v2M60.1 540v2M60.1 308v2M64.7 540v2M64.7 308v2M68.8 540v2M68.8 308v2M72.4 540v4M72.4 308v4M96.4 540v2M96.4 308v2M110.4 540v2M110.4 308v2M120.3 540v2M120.3 308v2M128 540v2M128 308v2M134.3 540v2M134.3 308v2M139.7 540v2M139.7 308v2M144.3 540v2M144.3 308v2M148.3 540v2M148.3 308v2M152 540v4M152 308v4M175.9 540v2M175.9 308v2M189.9 540v2M189.9 308v2M199.9 540v2M199.9 308v2M207.6 540v2M207.6 308v2M213.9 540v2M213.9 308v2M219.2 540v2M219.2 308v2M223.8 540v2M223.8 308v2M227.9 540v2M227.9 308v2M231.5 540v4M231.5 308v4M255.5 540v2M255.5 308v2M269.5 540v2M269.5 308v2M279.4 540v2M279.4 308v2M287.1 540v2M287.1 308v2M293.4 540v2M293.4 308v2M298.7 540v2M298.7 308v2M303.3 540v2M303.3 308v2M307.4 540v2M307.4 308v2M311.1 540v4M311.1 308v4M335 540v2M335 308v2M48.5 540h-4M335 540h-4M48.5 528.4h-2M335 528.4h-2M48.5 521.6h-2M335 521.6h-2M48.5 516.7h-2M335 516.7h-2M48.5 513h-2M335 513h-2M48.5 509.9h-2M335 509.9h-2M48.5 507.3h-2M335 507.3h-2M48.5 505.1h-2M335 505.1h-2M48.5 503.1h-2M335 503.1h-2M48.5 501.3h-4M335 501.3h-4M48.5 489.7h-2M335 489.7h-2M48.5 482.9h-2M335 482.9h-2M48.5 478.1h-2M335 478.1h-2M48.5 474.3h-2M335 474.3h-2M48.5 471.2h-2M335 471.2h-2M48.5 468.7h-2M335 468.7h-2M48.5 466.4h-2M335 466.4h-2M48.5 464.4h-2M335 464.4h-2M48.5 462.7h-4M335 462.7h-4M48.5 451h-2M335 451h-2M48.5 444.2h-2M335 444.2h-2M48.5 439.4h-2M335 439.4h-2M48.5 435.6h-2M335 435.6h-2M48.5 432.6h-2M335 432.6h-2M48.5 430h-2M335 430h-2M48.5 427.7h-2M335 427.7h-2M48.5 425.8h-2M335 425.8h-2M48.5 424h-4M335 424h-4M48.5 412.4h-2M335 412.4h-2M48.5 405.6h-2M335 405.6h-2M48.5 400.7h-2M335 400.7h-2M48.5 397h-2M335 397h-2M48.5 393.9h-2M335 393.9h-2M48.5 391.3h-2M335 391.3h-2M48.5 389.1h-2M335 389.1h-2M48.5 387.1h-2M335 387.1h-2M48.5 385.3h-4M335 385.3h-4M48.5 373.7h-2M335 373.7h-2M48.5 366.9h-2M335 366.9h-2M48.5 362.1h-2M335 362.1h-2M48.5 358.3h-2M335 358.3h-2M48.5 355.2h-2M335 355.2h-2M48.5 352.7h-2M335 352.7h-2M48.5 350.4h-2M335 350.4h-2M48.5 348.4h-2M335 348.4h-2M48.5 346.7h-4M335 346.7h-4M48.5 335h-2M335 335h-2M48.5 328.2h-2M335 328.2h-2M48.5 323.4h-2M335 323.4h-2M48.5 319.6h-2M335 319.6h-2M48.5 316.6h-2M335 316.6h-2M48.5 314h-2M335 314h-2M48.5 311.7h-2M335 311.7h-2M48.5 309.8h-2M335 309.8h-2M48.5 308h-4M335 308h-4" stroke="#1a1a1a" stroke-width="1" fill="none"/>
<rect x="48.5" y="308" width="286.5" height="232" fill="none" stroke="#1a1a1a" stroke-width="1.2"/>
<text transform="translate(72.4 557.8) scale(1 1.08)" text-anchor="middle">10<tspan font-size="6.8" dy="-4.1">0</tspan></text>
<text transform="translate(152 557.8) scale(1 1.08)" text-anchor="middle">10<tspan font-size="6.8" dy="-4.1">1</tspan></text>
<text transform="translate(231.5 557.8) scale(1 1.08)" text-anchor="middle">10<tspan font-size="6.8" dy="-4.1">2</tspan></text>
<text transform="translate(311.1 557.8) scale(1 1.08)" text-anchor="middle">10<tspan font-size="6.8" dy="-4.1">3</tspan></text>
<text transform="translate(41.6 543.9) scale(1 1.08)" text-anchor="end">10<tspan font-size="6.8" dy="-4.1">-1</tspan></text>
<text transform="translate(41.6 505.2) scale(1 1.08)" text-anchor="end">10<tspan font-size="6.8" dy="-4.1">0</tspan></text>
<text transform="translate(41.6 466.5) scale(1 1.08)" text-anchor="end">10<tspan font-size="6.8" dy="-4.1">1</tspan></text>
<text transform="translate(41.6 427.9) scale(1 1.08)" text-anchor="end">10<tspan font-size="6.8" dy="-4.1">2</tspan></text>
<text transform="translate(41.6 389.2) scale(1 1.08)" text-anchor="end">10<tspan font-size="6.8" dy="-4.1">3</tspan></text>
<text transform="translate(41.6 350.5) scale(1 1.08)" text-anchor="end">10<tspan font-size="6.8" dy="-4.1">4</tspan></text>
<text transform="translate(41.6 311.9) scale(1 1.08)" text-anchor="end">10<tspan font-size="6.8" dy="-4.1">5</tspan></text></g>
<g font-size="10.2"><path d="M391.4 537.4v4M391.4 307.5v4M407.7 537.4v2M407.7 307.5v2M417.2 537.4v2M417.2 307.5v2M424 537.4v2M424 307.5v2M429.2 537.4v2M429.2 307.5v2M433.5 537.4v2M433.5 307.5v2M437.2 537.4v2M437.2 307.5v2M440.3 537.4v2M440.3 307.5v2M443.1 537.4v2M443.1 307.5v2M445.5 537.4v4M445.5 307.5v4M461.8 537.4v2M461.8 307.5v2M471.4 537.4v2M471.4 307.5v2M478.1 537.4v2M478.1 307.5v2M483.4 537.4v2M483.4 307.5v2M487.7 537.4v2M487.7 307.5v2M491.3 537.4v2M491.3 307.5v2M494.4 537.4v2M494.4 307.5v2M497.2 537.4v2M497.2 307.5v2M499.7 537.4v4M499.7 307.5v4M516 537.4v2M516 307.5v2M525.5 537.4v2M525.5 307.5v2M532.3 537.4v2M532.3 307.5v2M537.5 537.4v2M537.5 307.5v2M541.8 537.4v2M541.8 307.5v2M545.4 537.4v2M545.4 307.5v2M548.6 537.4v2M548.6 307.5v2M551.3 537.4v2M551.3 307.5v2M553.8 537.4v4M553.8 307.5v4M570.1 537.4v2M570.1 307.5v2M579.7 537.4v2M579.7 307.5v2M586.4 537.4v2M586.4 307.5v2M591.7 537.4v2M591.7 307.5v2M596 537.4v2M596 307.5v2M599.6 537.4v2M599.6 307.5v2M602.7 537.4v2M602.7 307.5v2M605.5 537.4v2M605.5 307.5v2M608 537.4v4M608 307.5v4M624.3 537.4v2M624.3 307.5v2M633.8 537.4v2M633.8 307.5v2M640.6 537.4v2M640.6 307.5v2M645.8 537.4v2M645.8 307.5v2M650.1 537.4v2M650.1 307.5v2M653.7 537.4v2M653.7 307.5v2M656.9 537.4v2M656.9 307.5v2M659.6 537.4v2M659.6 307.5v2M662.1 537.4v4M662.1 307.5v4M678.4 537.4v2M678.4 307.5v2M391.4 537.4h-4M678.4 537.4h-4M391.4 525.9h-2M678.4 525.9h-2M391.4 519.1h-2M678.4 519.1h-2M391.4 514.3h-2M678.4 514.3h-2M391.4 510.6h-2M678.4 510.6h-2M391.4 507.6h-2M678.4 507.6h-2M391.4 505h-2M678.4 505h-2M391.4 502.8h-2M678.4 502.8h-2M391.4 500.8h-2M678.4 500.8h-2M391.4 499.1h-4M678.4 499.1h-4M391.4 487.5h-2M678.4 487.5h-2M391.4 480.8h-2M678.4 480.8h-2M391.4 476h-2M678.4 476h-2M391.4 472.3h-2M678.4 472.3h-2M391.4 469.3h-2M678.4 469.3h-2M391.4 466.7h-2M678.4 466.7h-2M391.4 464.5h-2M678.4 464.5h-2M391.4 462.5h-2M678.4 462.5h-2M391.4 460.8h-4M678.4 460.8h-4M391.4 449.2h-2M678.4 449.2h-2M391.4 442.5h-2M678.4 442.5h-2M391.4 437.7h-2M678.4 437.7h-2M391.4 434h-2M678.4 434h-2M391.4 431h-2M678.4 431h-2M391.4 428.4h-2M678.4 428.4h-2M391.4 426.2h-2M678.4 426.2h-2M391.4 424.2h-2M678.4 424.2h-2M391.4 422.4h-4M678.4 422.4h-4M391.4 410.9h-2M678.4 410.9h-2M391.4 404.2h-2M678.4 404.2h-2M391.4 399.4h-2M678.4 399.4h-2M391.4 395.7h-2M678.4 395.7h-2M391.4 392.6h-2M678.4 392.6h-2M391.4 390.1h-2M678.4 390.1h-2M391.4 387.8h-2M678.4 387.8h-2M391.4 385.9h-2M678.4 385.9h-2M391.4 384.1h-4M678.4 384.1h-4M391.4 372.6h-2M678.4 372.6h-2M391.4 365.9h-2M678.4 365.9h-2M391.4 361.1h-2M678.4 361.1h-2M391.4 357.4h-2M678.4 357.4h-2M391.4 354.3h-2M678.4 354.3h-2M391.4 351.8h-2M678.4 351.8h-2M391.4 349.5h-2M678.4 349.5h-2M391.4 347.6h-2M678.4 347.6h-2M391.4 345.8h-4M678.4 345.8h-4M391.4 334.3h-2M678.4 334.3h-2M391.4 327.5h-2M678.4 327.5h-2M391.4 322.7h-2M678.4 322.7h-2M391.4 319h-2M678.4 319h-2M391.4 316h-2M678.4 316h-2M391.4 313.4h-2M678.4 313.4h-2M391.4 311.2h-2M678.4 311.2h-2M391.4 309.3h-2M678.4 309.3h-2M391.4 307.5h-4M678.4 307.5h-4" stroke="#1a1a1a" stroke-width="1" fill="none"/>
<rect x="391.4" y="307.5" width="287" height="229.9" fill="none" stroke="#1a1a1a" stroke-width="1.2"/>
<text transform="translate(391.4 554.9) scale(1 1.08)" text-anchor="middle">10<tspan font-size="6.8" dy="-4.1">-5</tspan></text>
<text transform="translate(445.5 554.9) scale(1 1.08)" text-anchor="middle">10<tspan font-size="6.8" dy="-4.1">-4</tspan></text>
<text transform="translate(499.7 554.9) scale(1 1.08)" text-anchor="middle">10<tspan font-size="6.8" dy="-4.1">-3</tspan></text>
<text transform="translate(553.8 554.9) scale(1 1.08)" text-anchor="middle">10<tspan font-size="6.8" dy="-4.1">-2</tspan></text>
<text transform="translate(608 554.9) scale(1 1.08)" text-anchor="middle">10<tspan font-size="6.8" dy="-4.1">-1</tspan></text>
<text transform="translate(662.1 554.9) scale(1 1.08)" text-anchor="middle">10<tspan font-size="6.8" dy="-4.1">0</tspan></text>
<text transform="translate(384.5 541.2) scale(1 1.08)" text-anchor="end">10<tspan font-size="6.8" dy="-4.1">-1</tspan></text>
<text transform="translate(384.5 502.9) scale(1 1.08)" text-anchor="end">10<tspan font-size="6.8" dy="-4.1">0</tspan></text>
<text transform="translate(384.5 464.6) scale(1 1.08)" text-anchor="end">10<tspan font-size="6.8" dy="-4.1">1</tspan></text>
<text transform="translate(384.5 426.3) scale(1 1.08)" text-anchor="end">10<tspan font-size="6.8" dy="-4.1">2</tspan></text>
<text transform="translate(384.5 388) scale(1 1.08)" text-anchor="end">10<tspan font-size="6.8" dy="-4.1">3</tspan></text>
<text transform="translate(384.5 349.7) scale(1 1.08)" text-anchor="end">10<tspan font-size="6.8" dy="-4.1">4</tspan></text>
<text transform="translate(384.5 311.4) scale(1 1.08)" text-anchor="end">10<tspan font-size="6.8" dy="-4.1">5</tspan></text></g>
<g font-size="22" font-weight="bold"><text x="49.5" y="16.6">a</text><text x="392.5" y="16.9">b</text><text x="49.5" y="305.8">c</text><text x="392.5" y="305.7">d</text></g>
<text x="151.9" y="287.7" font-size="15.2">D</text><text x="163.6" y="292" font-size="11">T</text><text x="175" y="287.7" font-size="15.2">(</text><text x="180" y="287.7" font-size="15.2">n</text><text transform="translate(187.7 287.7) scale(1.17 1)" font-size="15.2">m</text><text x="202.7" y="281.5" font-size="10.5">2</text><text x="209.4" y="287.7" font-size="15.2">s</text><text x="216.9" y="281.5" font-size="10.5">-</text><text x="221" y="281.5" font-size="10.5">1</text><text x="228.3" y="287.7" font-size="15.2">)</text>
<text x="494.3" y="288" font-size="15.2">D</text><text x="506" y="292.3" font-size="11">T</text><text x="517.4" y="288" font-size="15.2">(</text><text x="522.4" y="288" font-size="15.2">n</text><text transform="translate(530.1 288) scale(1.17 1)" font-size="15.2">m</text><text x="545.1" y="281.8" font-size="10.5">2</text><text x="551.8" y="288" font-size="15.2">s</text><text x="559.3" y="281.8" font-size="10.5">-</text><text x="563.4" y="281.8" font-size="10.5">1</text><text x="570.7" y="288" font-size="15.2">)</text>
<text x="164.3" y="578.3" font-size="15.2">R</text><text x="175.5" y="581.4" font-size="11">g</text><text x="186.9" y="578.3" font-size="15.2">(</text><text x="191.6" y="578.3" font-size="15.2">n</text><text x="199.1" y="578.3" font-size="15.2">m</text><text x="214.8" y="578.3" font-size="15.2">)</text>
<text x="525.8" y="579" font-size="20">a</text><text x="536.7" y="584.1" font-size="13.5">2</text>
<text transform="translate(15.6 133.3) rotate(-90)" font-size="16" text-anchor="middle"><tspan font-size="19">τ</tspan><tspan font-size="11.5" dy="4">c</tspan><tspan dy="-4"> (s)</tspan></text>
<text transform="translate(365.2 130) rotate(-90)" font-size="16.4" text-anchor="middle">D<tspan font-size="11.5" dy="4">T</tspan><tspan dy="-4">τ</tspan><tspan font-size="11.5" dy="4">c</tspan><tspan dy="-4"> (nm</tspan><tspan font-size="10.5" dy="-6.3">2</tspan><tspan dy="6.3">)</tspan></text>
<text transform="translate(14.6 423.3) rotate(-90)" font-size="16.4" text-anchor="middle">D<tspan font-size="11.5" dy="4">T</tspan><tspan dy="-4">τ</tspan><tspan font-size="11.5" dy="4">c</tspan><tspan dy="-4"> (nm</tspan><tspan font-size="10.5" dy="-6.3">2</tspan><tspan dy="6.3">)</tspan></text>
<text transform="translate(358 423.8) rotate(-90)" font-size="16.4" text-anchor="middle">D<tspan font-size="11.5" dy="4">T</tspan><tspan dy="-4">τ</tspan><tspan font-size="11.5" dy="4">c</tspan><tspan dy="-4"> (nm</tspan><tspan font-size="10.5" dy="-6.3">2</tspan><tspan dy="6.3">)</tspan></text>
<path d="M48.5 43.7L239.8 248" stroke="#000" stroke-width="1.8" stroke-dasharray="7 10.18" stroke-dashoffset="0" fill="none"/>
<path d="M391.5 204.6L678 204.6" stroke="#000" stroke-width="1.8" stroke-dasharray="7.1 10.05" stroke-dashoffset="0" fill="none"/>
<path d="M48.5 525.1L335 525.1" stroke="#000" stroke-width="1.8" stroke-dasharray="9 8.17" stroke-dashoffset="0" fill="none"/>
<path d="M391.4 521.9L678.4 521.9" stroke="#000" stroke-width="1.8" stroke-dasharray="8.9 8.3" stroke-dashoffset="0" fill="none"/>
</svg>
</body></html>
